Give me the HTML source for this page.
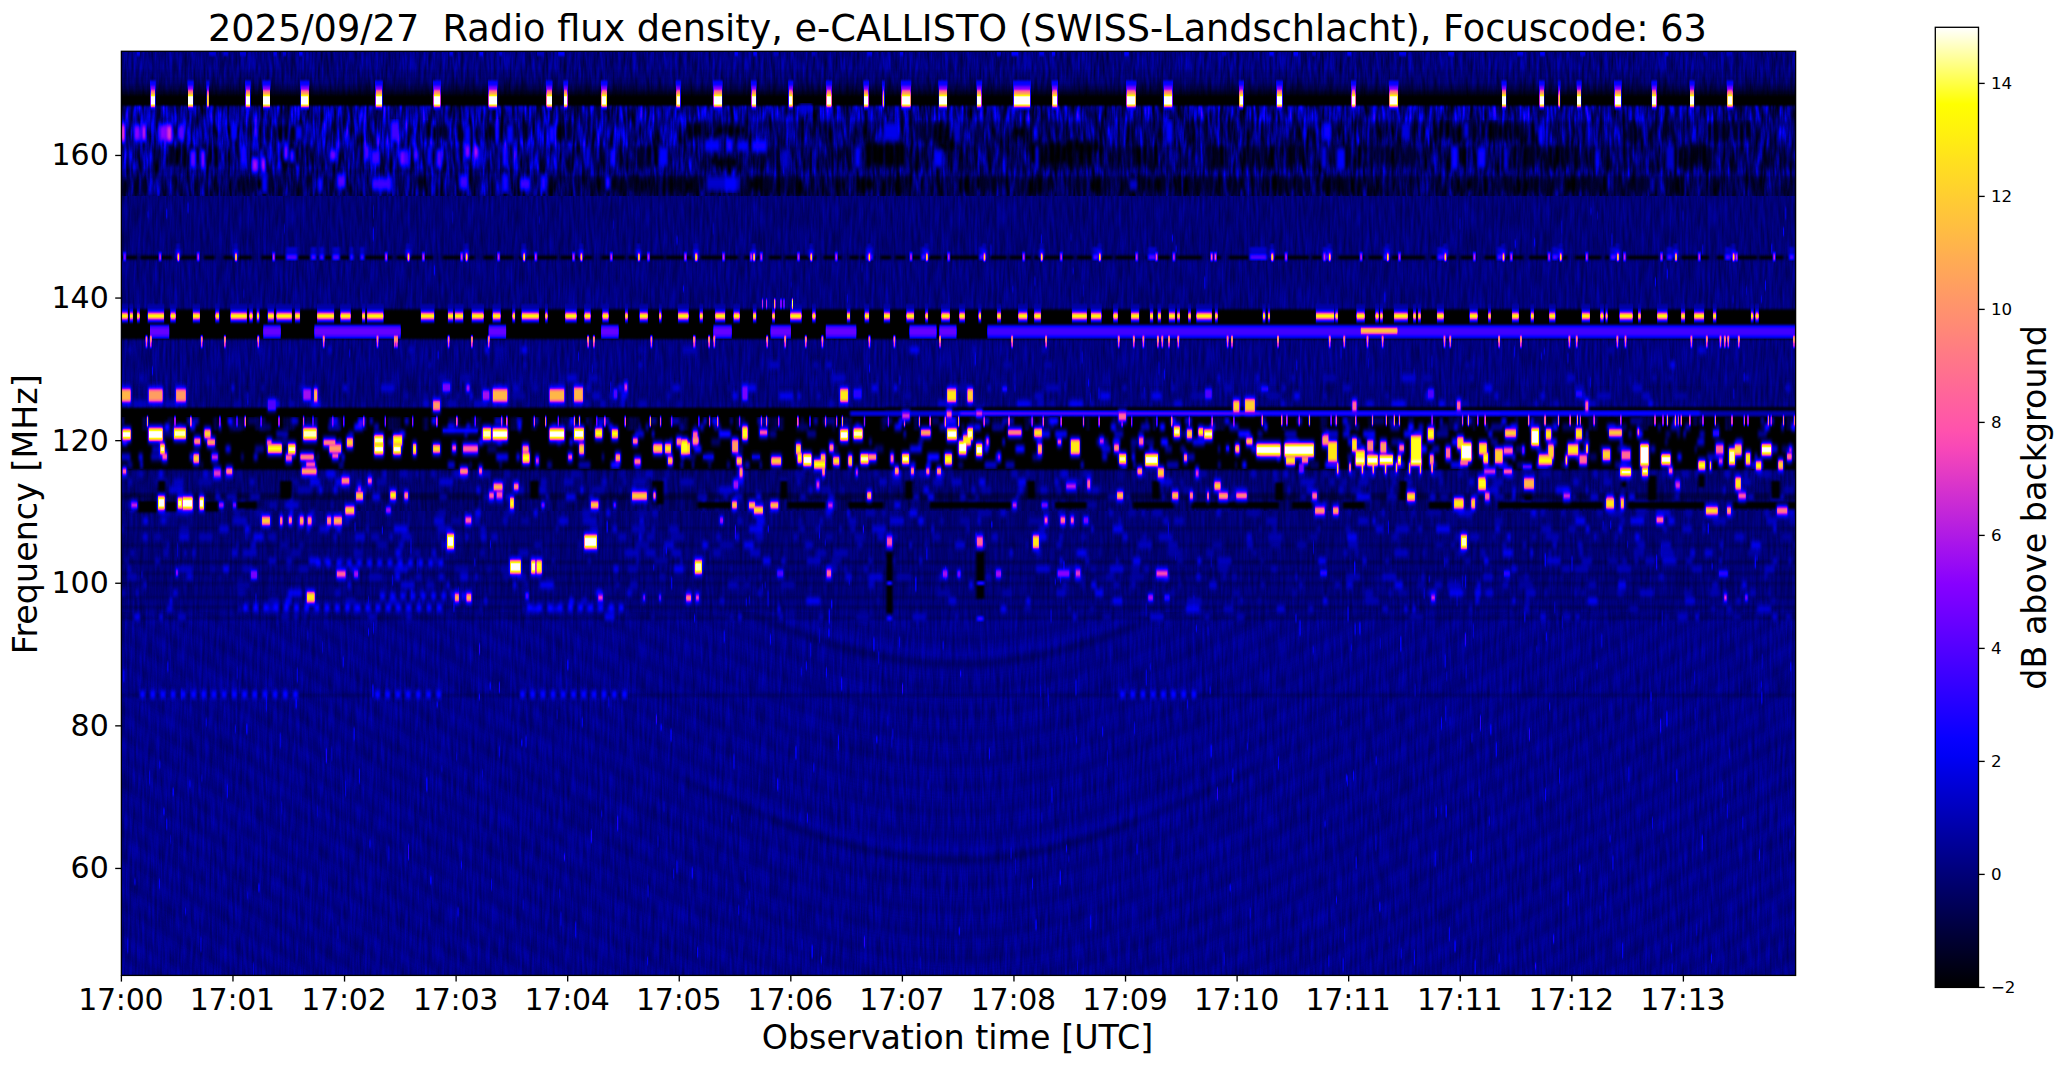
<!DOCTYPE html>
<html><head><meta charset="utf-8"><title>e-CALLISTO spectrogram</title>
<style>html,body{margin:0;padding:0;background:#fff}body{width:2066px;height:1067px;overflow:hidden}svg{display:block}text{font-family:"DejaVu Sans","Liberation Sans",sans-serif;fill:#000}</style></head><body>
<svg width="2066" height="1067" viewBox="0 0 2066 1067">
<defs>
<filter id="cmap" x="0" y="0" width="100%" height="100%" filterUnits="objectBoundingBox" color-interpolation-filters="sRGB"><feComponentTransfer><feFuncR type="table" tableValues="0.000 0.000 0.000 0.000 0.000 0.000 0.000 0.000 0.000 0.000 0.000 0.000 0.000 0.000 0.000 0.000 0.000 0.000 0.000 0.000 0.000 0.000 0.000 0.000 0.000 0.000 0.031 0.062 0.094 0.125 0.156 0.188 0.219 0.250 0.281 0.312 0.344 0.375 0.406 0.438 0.469 0.500 0.531 0.562 0.594 0.625 0.656 0.687 0.719 0.750 0.781 0.812 0.844 0.875 0.906 0.938 0.969 1.000 1.000 1.000 1.000 1.000 1.000 1.000 1.000 1.000 1.000 1.000 1.000 1.000 1.000 1.000 1.000 1.000 1.000 1.000 1.000 1.000 1.000 1.000 1.000 1.000 1.000 1.000 1.000 1.000 1.000 1.000 1.000 1.000 1.000 1.000 1.000 1.000 1.000 1.000 1.000 1.000 1.000 1.000 1.000"/><feFuncG type="table" tableValues="0.000 0.000 0.000 0.000 0.000 0.000 0.000 0.000 0.000 0.000 0.000 0.000 0.000 0.000 0.000 0.000 0.000 0.000 0.000 0.000 0.000 0.000 0.000 0.000 0.000 0.000 0.000 0.000 0.000 0.000 0.000 0.000 0.000 0.000 0.000 0.000 0.000 0.000 0.000 0.000 0.000 0.000 0.000 0.020 0.040 0.060 0.080 0.100 0.120 0.140 0.160 0.180 0.200 0.220 0.240 0.260 0.280 0.300 0.320 0.340 0.360 0.380 0.400 0.420 0.440 0.460 0.480 0.500 0.520 0.540 0.560 0.580 0.600 0.620 0.640 0.660 0.680 0.700 0.720 0.740 0.760 0.780 0.800 0.820 0.840 0.860 0.880 0.900 0.920 0.940 0.960 0.980 1.000 1.000 1.000 1.000 1.000 1.000 1.000 1.000 1.000"/><feFuncB type="table" tableValues="0.000 0.040 0.080 0.120 0.160 0.200 0.240 0.280 0.320 0.360 0.400 0.440 0.480 0.520 0.560 0.600 0.640 0.680 0.720 0.760 0.800 0.840 0.880 0.920 0.960 1.000 1.000 1.000 1.000 1.000 1.000 1.000 1.000 1.000 1.000 1.000 1.000 1.000 1.000 1.000 1.000 1.000 1.000 0.980 0.960 0.940 0.920 0.900 0.880 0.860 0.840 0.820 0.800 0.780 0.760 0.740 0.720 0.700 0.680 0.660 0.640 0.620 0.600 0.580 0.560 0.540 0.520 0.500 0.480 0.460 0.440 0.420 0.400 0.380 0.360 0.340 0.320 0.300 0.280 0.260 0.240 0.220 0.200 0.180 0.160 0.140 0.120 0.100 0.080 0.060 0.040 0.020 0.000 0.125 0.250 0.375 0.500 0.625 0.750 0.875 1.000"/></feComponentTransfer></filter>

<filter id="nHi" x="0" y="0" width="100%" height="100%" color-interpolation-filters="sRGB">
<feTurbulence type="fractalNoise" baseFrequency="0.30 0.035" numOctaves="2" seed="7" result="t"/>
<feColorMatrix in="t" type="matrix" values="1 0 0 0 0  1 0 0 0 0  1 0 0 0 0  0 0 0 0 1" result="n"/>
<feTurbulence type="fractalNoise" baseFrequency="0.22 0.04" numOctaves="2" seed="3" result="t2"/>
<feColorMatrix in="t2" type="matrix" values="0 1 0 0 0  0 1 0 0 0  0 1 0 0 0  0 0 0 0 1" result="n2"/>
<feComposite in="SourceGraphic" in2="n" operator="arithmetic" k1="2.0" k2="0" k3="0" k4="0" result="c1"/>
<feComposite in="c1" in2="n2" operator="arithmetic" k1="2.6" k2="-0.3" k3="0" k4="0"/>
</filter>
<filter id="nMid" x="0" y="0" width="100%" height="100%" color-interpolation-filters="sRGB">
<feTurbulence type="fractalNoise" baseFrequency="0.36 0.035" numOctaves="2" seed="11" result="t"/>
<feColorMatrix in="t" type="matrix" values="1 0 0 0 0  1 0 0 0 0  1 0 0 0 0  0 0 0 0 1" result="n"/>
<feComposite in="SourceGraphic" in2="n" operator="arithmetic" k1="0.9" k2="0.55" k3="0" k4="0"/>
</filter>
<filter id="nTop" x="0" y="0" width="100%" height="100%" color-interpolation-filters="sRGB">
<feTurbulence type="fractalNoise" baseFrequency="0.33 0.04" numOctaves="2" seed="21" result="t"/>
<feColorMatrix in="t" type="matrix" values="1 0 0 0 0  1 0 0 0 0  1 0 0 0 0  0 0 0 0 1" result="n"/>
<feComposite in="SourceGraphic" in2="n" operator="arithmetic" k1="1.4" k2="0.3" k3="0" k4="0"/>
</filter>
<filter id="nLo" x="0" y="0" width="100%" height="100%" color-interpolation-filters="sRGB">
<feTurbulence type="fractalNoise" baseFrequency="0.40 0.03" numOctaves="2" seed="5" result="t"/>
<feColorMatrix in="t" type="matrix" values="1 0 0 0 0  1 0 0 0 0  1 0 0 0 0  0 0 0 0 1" result="n"/>
<feComposite in="SourceGraphic" in2="n" operator="arithmetic" k1="0.7" k2="0.65" k3="0" k4="0"/>
</filter>
<filter id="b0" x="-1%" y="-1%" width="102%" height="102%" color-interpolation-filters="sRGB"><feGaussianBlur stdDeviation="0.1 1.5"/></filter>
<filter id="b1" x="-1%" y="-1%" width="102%" height="102%" color-interpolation-filters="sRGB"><feGaussianBlur stdDeviation="0.8 1.3"/></filter>
<filter id="b2" x="-1%" y="-1%" width="102%" height="102%" color-interpolation-filters="sRGB"><feGaussianBlur stdDeviation="0.6 1.3"/></filter>
<filter id="b6" x="-1%" y="-1%" width="102%" height="102%" color-interpolation-filters="sRGB"><feGaussianBlur stdDeviation="0.8 2.4"/></filter>
<filter id="b7" x="-1%" y="-1%" width="102%" height="102%" color-interpolation-filters="sRGB"><feGaussianBlur stdDeviation="0.5 0.8"/></filter>
<filter id="b4" x="-1%" y="-1%" width="102%" height="102%" color-interpolation-filters="sRGB"><feGaussianBlur stdDeviation="1.2 2.6"/></filter>
<filter id="b5" x="-1%" y="-1%" width="102%" height="102%" color-interpolation-filters="sRGB"><feGaussianBlur stdDeviation="0.45 0.8"/></filter>
<filter id="b8" x="-1%" y="-1%" width="102%" height="102%" color-interpolation-filters="sRGB"><feGaussianBlur stdDeviation="0.4 1.2"/></filter>
<filter id="b3" x="-1%" y="-1%" width="102%" height="102%" color-interpolation-filters="sRGB"><feGaussianBlur stdDeviation="0.45 1.2"/></filter>

<clipPath id="axclip"><rect x="121.4" y="51.3" width="1674.2" height="924.1"/></clipPath>
<linearGradient id="cbg" x1="0" y1="1" x2="0" y2="0"><stop offset="0.00" stop-color="#000000"/><stop offset="0.02" stop-color="#000014"/><stop offset="0.04" stop-color="#000029"/><stop offset="0.06" stop-color="#00003d"/><stop offset="0.08" stop-color="#000052"/><stop offset="0.10" stop-color="#000066"/><stop offset="0.12" stop-color="#00007a"/><stop offset="0.14" stop-color="#00008f"/><stop offset="0.16" stop-color="#0000a3"/><stop offset="0.18" stop-color="#0000b8"/><stop offset="0.20" stop-color="#0000cc"/><stop offset="0.22" stop-color="#0000e0"/><stop offset="0.24" stop-color="#0000f5"/><stop offset="0.26" stop-color="#0800ff"/><stop offset="0.28" stop-color="#1800ff"/><stop offset="0.30" stop-color="#2800ff"/><stop offset="0.32" stop-color="#3800ff"/><stop offset="0.34" stop-color="#4800ff"/><stop offset="0.36" stop-color="#5800ff"/><stop offset="0.38" stop-color="#6800ff"/><stop offset="0.40" stop-color="#7800ff"/><stop offset="0.42" stop-color="#8700ff"/><stop offset="0.44" stop-color="#970af5"/><stop offset="0.46" stop-color="#a714eb"/><stop offset="0.48" stop-color="#b71fe0"/><stop offset="0.50" stop-color="#c729d6"/><stop offset="0.52" stop-color="#d733cc"/><stop offset="0.54" stop-color="#e73dc2"/><stop offset="0.56" stop-color="#f747b8"/><stop offset="0.58" stop-color="#ff52ad"/><stop offset="0.60" stop-color="#ff5ca3"/><stop offset="0.62" stop-color="#ff6699"/><stop offset="0.64" stop-color="#ff708f"/><stop offset="0.66" stop-color="#ff7a85"/><stop offset="0.68" stop-color="#ff857a"/><stop offset="0.70" stop-color="#ff8f70"/><stop offset="0.72" stop-color="#ff9966"/><stop offset="0.74" stop-color="#ffa35c"/><stop offset="0.76" stop-color="#ffad52"/><stop offset="0.78" stop-color="#ffb847"/><stop offset="0.80" stop-color="#ffc23d"/><stop offset="0.82" stop-color="#ffcc33"/><stop offset="0.84" stop-color="#ffd629"/><stop offset="0.86" stop-color="#ffe01f"/><stop offset="0.88" stop-color="#ffeb14"/><stop offset="0.90" stop-color="#fff50a"/><stop offset="0.92" stop-color="#ffff00"/><stop offset="0.94" stop-color="#ffff40"/><stop offset="0.96" stop-color="#ffff80"/><stop offset="0.98" stop-color="#ffffbf"/><stop offset="1.00" stop-color="#ffffff"/></linearGradient>
</defs>
<rect width="2066" height="1067" fill="#fff"/>
<g clip-path="url(#axclip)"><g filter="url(#cmap)">
<path fill="#212121" d="M113.4 30h1690.2v970h-1690.2z"/>
<clipPath id="cp30"><rect x="113.4" y="30.0" width="1690.2" height="71.0"/></clipPath>
<g clip-path="url(#cp30)"><g filter="url(#nTop)"><g filter="url(#b0)">
<path fill="#000000" d="M113.4 96h1690.2v9.8h-1690.2zM113.4 105.3h1690.2v15h-1690.2z"/>
<path fill="#050505" d="M113.4 93h1690.2v3.5h-1690.2z"/>
<path fill="#0b0b0b" d="M113.4 89h1690.2v4.5h-1690.2z"/>
<path fill="#131313" d="M113.4 84h1690.2v5.5h-1690.2z"/>
<path fill="#1a1a1a" d="M113.4 78h1690.2v6.5h-1690.2z"/>
<path fill="#1d1d1d" d="M113.4 70h1690.2v8.5h-1690.2z"/>
<path fill="#202020" d="M113.4 15h1690.2v16h-1690.2zM113.4 30h1690.2v40.5h-1690.2z"/>
</g></g></g>
<clipPath id="cp101"><rect x="113.4" y="101.0" width="1690.2" height="95.0"/></clipPath>
<g clip-path="url(#cp101)"><g filter="url(#nHi)"><g filter="url(#b0)">
<path fill="#000000" d="M113.4 81h1690.2v16h-1690.2zM113.4 96h1690.2v9.8h-1690.2z"/>
<path fill="#141414" d="M113.4 176h1690.2v20.5h-1690.2zM113.4 196h1690.2v15h-1690.2z"/>
<path fill="#181818" d="M113.4 146h1690.2v23.5h-1690.2z"/>
<path fill="#1c1c1c" d="M113.4 121h1690.2v25.5h-1690.2z"/>
<path fill="#1d1d1d" d="M113.4 169h1690.2v7.5h-1690.2z"/>
<path fill="#242424" d="M113.4 105.3h1690.2v16.2h-1690.2z"/>
<path fill="#141414" d="M560 176h140v20.5h-140z"/>
<path fill="#1a1a1a" d="M113.4 176h446.6v20.5h-446.6z"/>
<path fill="#1d1d1d" d="M560 146h140v23.5h-140z"/>
<path fill="#222222" d="M560 121h140v25.5h-140zM113.4 146h446.6v23.5h-446.6z"/>
<path fill="#282828" d="M113.4 121h446.6v25.5h-446.6z"/>
</g></g></g>
<clipPath id="cp196"><rect x="113.4" y="196.0" width="1690.2" height="315.0"/></clipPath>
<g clip-path="url(#cp196)"><g filter="url(#nMid)"><g filter="url(#b0)">
<path fill="#0a0a0a" d="M113.4 430h1690.2v40.5h-1690.2z"/>
<path fill="#0d0d0d" d="M113.4 408h1690.2v9.5h-1690.2z"/>
<path fill="#111111" d="M113.4 493.5h1690.2v6.5h-1690.2z"/>
<path fill="#121212" d="M113.4 417h1690.2v13.5h-1690.2z"/>
<path fill="#1a1a1a" d="M113.4 308h1690.2v32.5h-1690.2zM113.4 499.5h1690.2v12h-1690.2zM113.4 511h1690.2v15h-1690.2z"/>
<path fill="#1b1b1b" d="M113.4 254h1690.2v7.5h-1690.2z"/>
<path fill="#1c1c1c" d="M113.4 470h1690.2v23.5h-1690.2z"/>
<path fill="#1e1e1e" d="M113.4 181h1690.2v16h-1690.2zM113.4 196h1690.2v58.5h-1690.2zM113.4 384h1690.2v18.5h-1690.2z"/>
<path fill="#1f1f1f" d="M113.4 261h1690.2v47.5h-1690.2zM113.4 402h1690.2v6.5h-1690.2z"/>
<path fill="#202020" d="M113.4 340h1690.2v44.5h-1690.2z"/>
</g></g></g>
<clipPath id="cp511"><rect x="113.4" y="511.0" width="1690.2" height="489.0"/></clipPath>
<g clip-path="url(#cp511)"><g filter="url(#nLo)"><g filter="url(#b0)">
<path fill="#141414" d="M113.4 560.5h1690.2v3.5h-1690.2z"/>
<path fill="#161616" d="M113.4 526.5h1690.2v3.5h-1690.2zM113.4 571.5h1690.2v3.5h-1690.2zM113.4 605.5h1690.2v3.5h-1690.2z"/>
<path fill="#171717" d="M113.4 543.5h1690.2v3.5h-1690.2zM113.4 581.5h1690.2v3.5h-1690.2zM113.4 595.5h1690.2v3.5h-1690.2z"/>
<path fill="#181818" d="M113.4 616.5h1690.2v3.5h-1690.2z"/>
<path fill="#1b1b1b" d="M113.4 693h1690.2v4.5h-1690.2z"/>
<path fill="#1d1d1d" d="M113.4 496h1690.2v16h-1690.2zM113.4 511h1690.2v16h-1690.2zM113.4 529.5h1690.2v14.5h-1690.2zM113.4 546.5h1690.2v14.5h-1690.2z"/>
<path fill="#1e1e1e" d="M113.4 563.5h1690.2v8.5h-1690.2zM113.4 574.5h1690.2v7.5h-1690.2zM113.4 584.5h1690.2v11.5h-1690.2z"/>
<path fill="#1f1f1f" d="M113.4 598.5h1690.2v7.5h-1690.2zM113.4 608.5h1690.2v8.5h-1690.2z"/>
<path fill="#232323" d="M113.4 619.5h1690.2v74h-1690.2zM113.4 697h1690.2v303.5h-1690.2zM113.4 1000h1690.2v15h-1690.2z"/>
</g></g></g>
<clipPath id="cpa"><rect x="113.4" y="612" width="1690.2" height="400"/></clipPath>
<g clip-path="url(#cpa)"><g filter="url(#b4)" fill="none" stroke-linecap="round">
<path d="M713 574 743 587 773 599 803 610 833 620 863 628 893 634 923 638 953 640 983 639 1013 636 1043 630 1073 623 1103 613 1133 603 1163 591 1193 578 1223 564" stroke="#000" stroke-opacity="0.09" stroke-width="6"/>
<path d="M683 571 713 585 743 598 773 610 803 621 833 631 863 639 893 645 923 649 953 651 983 650 1013 647 1043 641 1073 634 1103 624 1133 614 1163 602 1193 589 1223 575 1253 560" stroke="#484848" stroke-opacity="0.06" stroke-width="5"/>
<path d="M653 569 683 584 713 598 743 611 773 624 803 635 833 645 863 653 893 659 923 663 953 664 983 664 1013 660 1043 655 1073 647 1103 638 1133 627 1163 615 1193 602 1223 588 1253 574" stroke="#000" stroke-opacity="0.09" stroke-width="6"/>
<path d="M683 584 713 598 743 611 773 624 803 635 833 645 863 653 893 659 923 663 953 664 983 664 1013 660 1043 655 1073 647 1103 638 1133 627 1163 615 1193 602 1223 588 1253 574" stroke="#000" stroke-opacity="0.10" stroke-width="6"/>
<path d="M683 574 713 588 743 601 773 614 803 625 833 635 863 643 893 649 923 653 953 654 983 654 1013 650 1043 645 1073 637 1103 628 1133 617 1163 605 1193 592 1223 578 1253 564" stroke="#505050" stroke-opacity="0.06" stroke-width="5"/>
<path d="M773 624 803 635 833 645 863 653 893 659 923 663 953 664 983 664 1013 660 1043 655 1073 647 1103 638 1133 627" stroke="#000" stroke-opacity="0.10" stroke-width="6"/>
<path d="M773 614 803 625 833 635 863 643 893 649 923 653 953 654 983 654 1013 650 1043 645 1073 637 1103 628 1133 617" stroke="#505050" stroke-opacity="0.06" stroke-width="5"/>
<path d="M623 565 653 580 683 595 713 609 743 622 773 635 803 646 833 656 863 664 893 670 923 674 953 675 983 675 1013 671 1043 666 1073 658 1103 649 1133 638 1163 626 1193 613 1223 599 1253 585 1283 570" stroke="#484848" stroke-opacity="0.06" stroke-width="5"/>
<path d="M593 563 623 579 653 594 683 609 713 623 743 636 773 648 803 659 833 669 863 677 893 683 923 687 953 689 983 688 1013 685 1043 679 1073 672 1103 662 1133 652 1163 640 1193 627 1223 613 1253 598 1283 583 1313 568" stroke="#000" stroke-opacity="0.09" stroke-width="6"/>
<path d="M593 574 623 590 653 605 683 620 713 634 743 647 773 659 803 670 833 680 863 688 893 694 923 698 953 700 983 699 1013 696 1043 690 1073 683 1103 673 1133 663 1163 651 1193 638 1223 624 1253 609 1283 594 1313 579 1343 563" stroke="#484848" stroke-opacity="0.06" stroke-width="5"/>
<path d="M563 572 593 588 623 603 653 618 683 633 713 647 743 660 773 673 803 684 833 694 863 702 893 708 923 712 953 713 983 713 1013 709 1043 704 1073 696 1103 687 1133 676 1163 664 1193 651 1223 637 1253 623 1283 608 1313 592 1343 577 1373 560" stroke="#000" stroke-opacity="0.09" stroke-width="6"/>
<path d="M533 566 563 583 593 599 623 614 653 629 683 644 713 658 743 671 773 684 803 695 833 705 863 713 893 719 923 723 953 724 983 724 1013 720 1043 715 1073 707 1103 698 1133 687 1163 675 1193 662 1223 648 1253 634 1283 619 1313 603 1343 588 1373 571" stroke="#484848" stroke-opacity="0.06" stroke-width="5"/>
<path d="M503 563 533 580 563 596 593 612 623 628 653 643 683 658 713 672 743 685 773 697 803 708 833 718 863 726 893 732 923 736 953 738 983 737 1013 734 1043 728 1073 721 1103 711 1133 701 1163 689 1193 676 1223 662 1253 647 1283 632 1313 617 1343 601 1373 585 1403 568" stroke="#000" stroke-opacity="0.09" stroke-width="6"/>
<path d="M503 574 533 591 563 607 593 623 623 639 653 654 683 669 713 683 743 696 773 708 803 719 833 729 863 737 893 743 923 747 953 749 983 748 1013 745 1043 739 1073 732 1103 722 1133 712 1163 700 1193 687 1223 673 1253 658 1283 643 1313 628 1343 612 1373 596 1403 579 1433 563" stroke="#484848" stroke-opacity="0.06" stroke-width="5"/>
<path d="M473 571 503 588 533 604 563 621 593 637 623 652 653 667 683 682 713 696 743 709 773 722 803 733 833 743 863 751 893 757 923 761 953 762 983 762 1013 758 1043 753 1073 745 1103 736 1133 725 1163 713 1193 700 1223 686 1253 672 1283 657 1313 641 1343 626 1373 609 1403 593 1433 576" stroke="#000" stroke-opacity="0.09" stroke-width="6"/>
<path d="M443 565 473 582 503 599 533 615 563 632 593 648 623 663 653 678 683 693 713 707 743 720 773 733 803 744 833 754 863 762 893 768 923 772 953 773 983 773 1013 769 1043 764 1073 756 1103 747 1133 736 1163 724 1193 711 1223 697 1253 683 1283 668 1313 652 1343 637 1373 620 1403 604 1433 587 1463 570" stroke="#484848" stroke-opacity="0.06" stroke-width="5"/>
<path d="M413 561 443 579 473 596 503 612 533 629 563 645 593 661 623 677 653 692 683 707 713 721 743 734 773 746 803 757 833 767 863 775 893 781 923 785 953 787 983 786 1013 783 1043 777 1073 770 1103 760 1133 750 1163 738 1193 725 1223 711 1253 696 1283 681 1313 666 1343 650 1373 634 1403 617 1433 601 1463 584 1493 567" stroke="#000" stroke-opacity="0.09" stroke-width="6"/>
<path d="M413 572 443 590 473 607 503 623 533 640 563 656 593 672 623 688 653 703 683 718 713 732 743 745 773 757 803 768 833 778 863 786 893 792 923 796 953 798 983 797 1013 794 1043 788 1073 781 1103 771 1133 761 1163 749 1193 736 1223 722 1253 707 1283 692 1313 677 1343 661 1373 645 1403 628 1433 612 1463 595 1493 578 1523 561" stroke="#484848" stroke-opacity="0.06" stroke-width="5"/>
<path d="M383 569 413 586 443 603 473 620 503 637 533 653 563 670 593 686 623 701 653 716 683 731 713 745 743 758 773 771 803 782 833 792 863 800 893 806 923 810 953 811 983 811 1013 807 1043 802 1073 794 1103 785 1133 774 1163 762 1193 749 1223 735 1253 721 1283 706 1313 690 1343 675 1373 658 1403 642 1433 625 1463 608 1493 591 1523 574" stroke="#000" stroke-opacity="0.09" stroke-width="6"/>
<path d="M353 562 383 580 413 597 443 614 473 631 503 648 533 664 563 681 593 697 623 712 653 727 683 742 713 756 743 769 773 782 803 793 833 803 863 811 893 817 923 821 953 822 983 822 1013 818 1043 813 1073 805 1103 796 1133 785 1163 773 1193 760 1223 746 1253 732 1283 717 1313 701 1343 686 1373 669 1403 653 1433 636 1463 619 1493 602 1523 585 1553 568" stroke="#484848" stroke-opacity="0.06" stroke-width="5"/>
<path d="M353 576 383 593 413 610 443 628 473 645 503 661 533 678 563 694 593 710 623 726 653 741 683 756 713 770 743 783 773 795 803 806 833 816 863 824 893 830 923 834 953 836 983 835 1013 832 1043 826 1073 819 1103 809 1133 799 1163 787 1193 774 1223 760 1253 745 1283 730 1313 715 1343 699 1373 683 1403 666 1433 650 1463 633 1493 616 1523 599 1553 581 1583 564" stroke="#000" stroke-opacity="0.09" stroke-width="6"/>
<path d="M323 569 353 587 383 604 413 621 443 639 473 656 503 672 533 689 563 705 593 721 623 737 653 752 683 767 713 781 743 794 773 806 803 817 833 827 863 835 893 841 923 845 953 847 983 846 1013 843 1043 837 1073 830 1103 820 1133 810 1163 798 1193 785 1223 771 1253 756 1283 741 1313 726 1343 710 1373 694 1403 677 1433 661 1463 644 1493 627 1523 610 1553 592 1583 575" stroke="#484848" stroke-opacity="0.06" stroke-width="5"/>
<path d="M293 565 323 583 353 600 383 618 413 635 443 652 473 669 503 686 533 702 563 719 593 735 623 750 653 765 683 780 713 794 743 807 773 820 803 831 833 841 863 849 893 855 923 859 953 860 983 860 1013 856 1043 851 1073 843 1103 834 1133 823 1163 811 1193 798 1223 784 1253 770 1283 755 1313 739 1343 724 1373 707 1403 691 1433 674 1463 657 1493 640 1523 623 1553 606 1583 588 1613 571" stroke="#000" stroke-opacity="0.09" stroke-width="6"/>
<path d="M683 780 713 794 743 807 773 820 803 831 833 841 863 849 893 855 923 859 953 860 983 860 1013 856 1043 851 1073 843 1103 834 1133 823 1163 811 1193 798 1223 784 1253 770" stroke="#000" stroke-opacity="0.10" stroke-width="6"/>
<path d="M683 770 713 784 743 797 773 810 803 821 833 831 863 839 893 845 923 849 953 850 983 850 1013 846 1043 841 1073 833 1103 824 1133 813 1163 801 1193 788 1223 774 1253 760" stroke="#505050" stroke-opacity="0.06" stroke-width="5"/>
<path d="M773 820 803 831 833 841 863 849 893 855 923 859 953 860 983 860 1013 856 1043 851 1073 843 1103 834 1133 823" stroke="#000" stroke-opacity="0.10" stroke-width="6"/>
<path d="M773 810 803 821 833 831 863 839 893 845 923 849 953 850 983 850 1013 846 1043 841 1073 833 1103 824 1133 813" stroke="#505050" stroke-opacity="0.06" stroke-width="5"/>
<path d="M293 576 323 594 353 611 383 629 413 646 443 663 473 680 503 697 533 713 563 730 593 746 623 761 653 776 683 791 713 805 743 818 773 831 803 842 833 852 863 860 893 866 923 870 953 871 983 871 1013 867 1043 862 1073 854 1103 845 1133 834 1163 822 1193 809 1223 795 1253 781 1283 766 1313 750 1343 735 1373 718 1403 702 1433 685 1463 668 1493 651 1523 634 1553 617 1583 599 1613 582 1643 564" stroke="#484848" stroke-opacity="0.06" stroke-width="5"/>
<path d="M263 572 293 590 323 607 353 625 383 642 413 659 443 677 473 694 503 710 533 727 563 743 593 759 623 775 653 790 683 805 713 819 743 832 773 844 803 855 833 865 863 873 893 879 923 883 953 885 983 884 1013 881 1043 875 1073 868 1103 858 1133 848 1163 836 1193 823 1223 809 1253 794 1283 779 1313 764 1343 748 1373 732 1403 715 1433 699 1463 682 1493 665 1523 648 1553 630 1583 613 1613 595 1643 578" stroke="#000" stroke-opacity="0.09" stroke-width="6"/>
<path d="M233 565 263 583 293 601 323 618 353 636 383 653 413 670 443 688 473 705 503 721 533 738 563 754 593 770 623 786 653 801 683 816 713 830 743 843 773 855 803 866 833 876 863 884 893 890 923 894 953 896 983 895 1013 892 1043 886 1073 879 1103 869 1133 859 1163 847 1193 834 1223 820 1253 805 1283 790 1313 775 1343 759 1373 743 1403 726 1433 710 1463 693 1493 676 1523 659 1553 641 1583 624 1613 606 1643 589 1673 571" stroke="#484848" stroke-opacity="0.06" stroke-width="5"/>
<path d="M203 561 233 579 263 597 293 614 323 632 353 649 383 667 413 684 443 701 473 718 503 735 533 751 563 768 593 784 623 799 653 814 683 829 713 843 743 856 773 869 803 880 833 890 863 898 893 904 923 908 953 909 983 909 1013 905 1043 900 1073 892 1103 883 1133 872 1163 860 1193 847 1223 833 1253 819 1283 804 1313 788 1343 773 1373 756 1403 740 1433 723 1463 706 1493 689 1523 672 1553 655 1583 637 1613 620 1643 602 1673 584 1703 567" stroke="#000" stroke-opacity="0.09" stroke-width="6"/>
<path d="M203 572 233 590 263 608 293 625 323 643 353 660 383 678 413 695 443 712 473 729 503 746 533 762 563 779 593 795 623 810 653 825 683 840 713 854 743 867 773 880 803 891 833 901 863 909 893 915 923 919 953 920 983 920 1013 916 1043 911 1073 903 1103 894 1133 883 1163 871 1193 858 1223 844 1253 830 1283 815 1313 799 1343 784 1373 767 1403 751 1433 734 1463 717 1493 700 1523 683 1553 666 1583 648 1613 631 1643 613 1673 595 1703 578" stroke="#484848" stroke-opacity="0.06" stroke-width="5"/>
<path d="M173 568 203 586 233 603 263 621 293 639 323 656 353 674 383 691 413 708 443 726 473 743 503 759 533 776 563 792 593 808 623 824 653 839 683 854 713 868 743 881 773 893 803 904 833 914 863 922 893 928 923 932 953 934 983 933 1013 930 1043 924 1073 917 1103 907 1133 897 1163 885 1193 872 1223 858 1253 843 1283 828 1313 813 1343 797 1373 781 1403 764 1433 748 1463 731 1493 714 1523 697 1553 679 1583 662 1613 644 1643 627 1673 609 1703 591 1733 573" stroke="#000" stroke-opacity="0.09" stroke-width="6"/>
<path d="M143 561 173 579 203 597 233 614 263 632 293 650 323 667 353 685 383 702 413 719 443 737 473 754 503 770 533 787 563 803 593 819 623 835 653 850 683 865 713 879 743 892 773 904 803 915 833 925 863 933 893 939 923 943 953 945 983 944 1013 941 1043 935 1073 928 1103 918 1133 908 1163 896 1193 883 1223 869 1253 854 1283 839 1313 824 1343 808 1373 792 1403 775 1433 759 1463 742 1493 725 1523 708 1553 690 1583 673 1613 655 1643 638 1673 620 1703 602 1733 584 1763 566" stroke="#484848" stroke-opacity="0.06" stroke-width="5"/>
<path d="M143 574 173 592 203 610 233 628 263 646 293 663 323 681 353 698 383 716 413 733 443 750 473 767 503 784 533 800 563 817 593 833 623 848 653 863 683 878 713 892 743 905 773 918 803 929 833 939 863 947 893 953 923 957 953 958 983 958 1013 954 1043 949 1073 941 1103 932 1133 921 1163 909 1193 896 1223 882 1253 868 1283 853 1313 837 1343 822 1373 805 1403 789 1433 772 1463 755 1493 738 1523 721 1553 704 1583 686 1613 669 1643 651 1673 633 1703 616 1733 598 1763 580 1793 562" stroke="#000" stroke-opacity="0.09" stroke-width="6"/>
<path d="M113 567 143 585 173 603 203 621 233 639 263 657 293 674 323 692 353 709 383 727 413 744 443 761 473 778 503 795 533 811 563 828 593 844 623 859 653 874 683 889 713 903 743 916 773 929 803 940 833 950 863 958 893 964 923 968 953 969 983 969 1013 965 1043 960 1073 952 1103 943 1133 932 1163 920 1193 907 1223 893 1253 879 1283 864 1313 848 1343 833 1373 816 1403 800 1433 783 1463 766 1493 749 1523 732 1553 715 1583 697 1613 680 1643 662 1673 644 1703 627 1733 609 1763 591 1793 573" stroke="#484848" stroke-opacity="0.06" stroke-width="5"/>
<path d="M113 581 143 599 173 617 203 635 233 652 263 670 293 688 323 705 353 723 383 740 413 757 443 775 473 792 503 808 533 825 563 841 593 857 623 873 653 888 683 903 713 917 743 930 773 942 803 953 833 963 863 971 893 977 923 981 953 983 983 982 1013 979 1043 973 1073 966 1103 956 1133 946 1163 934 1193 921 1223 907 1253 892 1283 877 1313 862 1343 846 1373 830 1403 813 1433 797 1463 780 1493 763 1523 746 1553 728 1583 711 1613 693 1643 676 1673 658 1703 640 1733 622 1763 604 1793 586" stroke="#000" stroke-opacity="0.09" stroke-width="6"/>
<path d="M113 592 143 610 173 628 203 646 233 663 263 681 293 699 323 716 353 734 383 751 413 768 443 786 473 803 503 819 533 836 563 852 593 868 623 884 653 899 683 914 713 928 743 941 773 953 803 964 833 974 863 982 893 988 923 992 953 994 983 993 1013 990 1043 984 1073 977 1103 967 1133 957 1163 945 1193 932 1223 918 1253 903 1283 888 1313 873 1343 857 1373 841 1403 824 1433 808 1463 791 1493 774 1523 757 1553 739 1583 722 1613 704 1643 687 1673 669 1703 651 1733 633 1763 615 1793 597" stroke="#484848" stroke-opacity="0.06" stroke-width="5"/>
<path d="M113 605 143 623 173 641 203 659 233 677 263 695 293 712 323 730 353 747 383 765 413 782 443 799 473 816 503 833 533 849 563 866 593 882 623 897 653 912 683 927 713 941 743 954 773 967 803 978 833 988 863 996 893 1002 923 1006 953 1007 983 1007 1013 1003 1043 998 1073 990 1103 981 1133 970 1163 958 1193 945 1223 931 1253 917 1283 902 1313 886 1343 871 1373 854 1403 838 1433 821 1463 804 1493 787 1523 770 1553 753 1583 735 1613 718 1643 700 1673 682 1703 665 1733 647 1763 629 1793 611" stroke="#000" stroke-opacity="0.09" stroke-width="6"/>
<path d="M113 616 143 634 173 652 203 670 233 688 263 706 293 723 323 741 353 758 383 776 413 793 443 810 473 827 503 844 533 860 563 877 593 893 623 908 653 923 683 938 713 952 743 965 773 978 803 989 833 999 863 1007 1043 1009 1073 1001 1103 992 1133 981 1163 969 1193 956 1223 942 1253 928 1283 913 1313 897 1343 882 1373 865 1403 849 1433 832 1463 815 1493 798 1523 781 1553 764 1583 746 1613 729 1643 711 1673 693 1703 676 1733 658 1763 640 1793 622" stroke="#484848" stroke-opacity="0.06" stroke-width="5"/>
<path d="M113 630 143 648 173 666 203 684 233 701 263 719 293 737 323 754 353 772 383 789 413 806 443 824 473 841 503 857 533 874 563 890 593 906 623 922 653 937 683 952 713 966 743 979 773 991 803 1002 1103 1005 1133 995 1163 983 1193 970 1223 956 1253 941 1283 926 1313 911 1343 895 1373 879 1403 862 1433 846 1463 829 1493 812 1523 795 1553 777 1583 760 1613 742 1643 725 1673 707 1703 689 1733 671 1763 653 1793 635" stroke="#000" stroke-opacity="0.09" stroke-width="6"/>
<path d="M113 641 143 659 173 677 203 695 233 712 263 730 293 748 323 765 353 783 383 800 413 817 443 835 473 852 503 868 533 885 563 901 593 917 623 933 653 948 683 963 713 977 743 990 773 1002 1133 1006 1163 994 1193 981 1223 967 1253 952 1283 937 1313 922 1343 906 1373 890 1403 873 1433 857 1463 840 1493 823 1523 806 1553 788 1583 771 1613 753 1643 736 1673 718 1703 700 1733 682 1763 664 1793 646" stroke="#484848" stroke-opacity="0.06" stroke-width="5"/>
<path d="M113 654 143 672 173 690 203 708 233 726 263 744 293 761 323 779 353 796 383 814 413 831 443 848 473 865 503 882 533 898 563 915 593 931 623 946 653 961 683 976 713 990 743 1003 1163 1007 1193 994 1223 980 1253 966 1283 951 1313 935 1343 920 1373 903 1403 887 1433 870 1463 853 1493 836 1523 819 1553 802 1583 784 1613 767 1643 749 1673 731 1703 714 1733 696 1763 678 1793 660" stroke="#000" stroke-opacity="0.09" stroke-width="6"/>
<path d="M113 665 143 683 173 701 203 719 233 737 263 755 293 772 323 790 353 807 383 825 413 842 443 859 473 876 503 893 533 909 563 926 593 942 623 957 653 972 683 987 713 1001 1193 1005 1223 991 1253 977 1283 962 1313 946 1343 931 1373 914 1403 898 1433 881 1463 864 1493 847 1523 830 1553 813 1583 795 1613 778 1643 760 1673 742 1703 725 1733 707 1763 689 1793 671" stroke="#484848" stroke-opacity="0.06" stroke-width="5"/>
<path d="M113 679 143 697 173 715 203 733 233 750 263 768 293 786 323 803 353 821 383 838 413 855 443 873 473 890 503 906 533 923 563 939 593 955 623 971 653 986 683 1001 1223 1005 1253 990 1283 975 1313 960 1343 944 1373 928 1403 911 1433 895 1463 878 1493 861 1523 844 1553 826 1583 809 1613 791 1643 774 1673 756 1703 738 1733 720 1763 702 1793 684" stroke="#000" stroke-opacity="0.09" stroke-width="6"/>
<path d="M113 690 143 708 173 726 203 744 233 761 263 779 293 797 323 814 353 832 383 849 413 866 443 884 473 901 503 917 533 934 563 950 593 966 623 982 653 997 1253 1001 1283 986 1313 971 1343 955 1373 939 1403 922 1433 906 1463 889 1493 872 1523 855 1553 837 1583 820 1613 802 1643 785 1673 767 1703 749 1733 731 1763 713 1793 695" stroke="#484848" stroke-opacity="0.06" stroke-width="5"/>
<path d="M113 703 143 721 173 739 203 757 233 775 263 793 293 810 323 828 353 845 383 863 413 880 443 897 473 914 503 931 533 947 563 964 593 980 623 995 1283 1000 1313 984 1343 969 1373 952 1403 936 1433 919 1463 902 1493 885 1523 868 1553 851 1583 833 1613 816 1643 798 1673 780 1703 763 1733 745 1763 727 1793 709" stroke="#000" stroke-opacity="0.09" stroke-width="6"/>
<path d="M113 714 143 732 173 750 203 768 233 786 263 804 293 821 323 839 353 856 383 874 413 891 443 908 473 925 503 942 533 958 563 975 593 991 623 1006 1313 995 1343 980 1373 963 1403 947 1433 930 1463 913 1493 896 1523 879 1553 862 1583 844 1613 827 1643 809 1673 791 1703 774 1733 756 1763 738 1793 720" stroke="#484848" stroke-opacity="0.06" stroke-width="5"/>
<path d="M113 728 143 746 173 764 203 782 233 799 263 817 293 835 323 852 353 870 383 887 413 904 443 922 473 939 503 955 533 972 563 988 593 1004 1313 1009 1343 993 1373 977 1403 960 1433 944 1463 927 1493 910 1523 893 1553 875 1583 858 1613 840 1643 823 1673 805 1703 787 1733 769 1763 751 1793 733" stroke="#000" stroke-opacity="0.09" stroke-width="6"/>
<path d="M113 739 143 757 173 775 203 793 233 810 263 828 293 846 323 863 353 881 383 898 413 915 443 933 473 950 503 966 533 983 563 999 1343 1004 1373 988 1403 971 1433 955 1463 938 1493 921 1523 904 1553 886 1583 869 1613 851 1643 834 1673 816 1703 798 1733 780 1763 762 1793 744" stroke="#484848" stroke-opacity="0.06" stroke-width="5"/>
<path d="M113 752 143 770 173 788 203 806 233 824 263 842 293 859 323 877 353 894 383 912 413 929 443 946 473 963 503 980 533 996 1373 1001 1403 985 1433 968 1463 951 1493 934 1523 917 1553 900 1583 882 1613 865 1643 847 1673 829 1703 812 1733 794 1763 776 1793 758" stroke="#000" stroke-opacity="0.09" stroke-width="6"/>
<path d="M113 763 143 781 173 799 203 817 233 835 263 853 293 870 323 888 353 905 383 923 413 940 443 957 473 974 503 991 533 1007 1403 996 1433 979 1463 962 1493 945 1523 928 1553 911 1583 893 1613 876 1643 858 1673 840 1703 823 1733 805 1763 787 1793 769" stroke="#484848" stroke-opacity="0.06" stroke-width="5"/>
<path d="M113 777 143 795 173 813 203 831 233 848 263 866 293 884 323 901 353 919 383 936 413 953 443 971 473 988 503 1004 1403 1009 1433 993 1463 976 1493 959 1523 942 1553 924 1583 907 1613 889 1643 872 1673 854 1703 836 1733 818 1763 800 1793 782" stroke="#000" stroke-opacity="0.09" stroke-width="6"/>
<path d="M113 788 143 806 173 824 203 842 233 859 263 877 293 895 323 912 353 930 383 947 413 964 443 982 473 999 1433 1004 1463 987 1493 970 1523 953 1553 935 1583 918 1613 900 1643 883 1673 865 1703 847 1733 829 1763 811 1793 793" stroke="#484848" stroke-opacity="0.06" stroke-width="5"/>
<path d="M113 801 143 819 173 837 203 855 233 873 263 891 293 908 323 926 353 943 383 961 413 978 443 995 1463 1000 1493 983 1523 966 1553 949 1583 931 1613 914 1643 896 1673 878 1703 861 1733 843 1763 825 1793 807" stroke="#000" stroke-opacity="0.09" stroke-width="6"/>
<path d="M113 812 143 830 173 848 203 866 233 884 263 902 293 919 323 937 353 954 383 972 413 989 443 1006 1493 994 1523 977 1553 960 1583 942 1613 925 1643 907 1673 889 1703 872 1733 854 1763 836 1793 818" stroke="#484848" stroke-opacity="0.06" stroke-width="5"/>
<path d="M113 826 143 844 173 862 203 880 233 897 263 915 293 933 323 950 353 968 383 985 413 1002 1493 1008 1523 991 1553 973 1583 956 1613 938 1643 921 1673 903 1703 885 1733 867 1763 849 1793 831" stroke="#000" stroke-opacity="0.09" stroke-width="6"/>
<path d="M113 837 143 855 173 873 203 891 233 908 263 926 293 944 323 961 353 979 383 996 1523 1002 1553 984 1583 967 1613 949 1643 932 1673 914 1703 896 1733 878 1763 860 1793 842" stroke="#484848" stroke-opacity="0.06" stroke-width="5"/>
<path d="M113 850 143 868 173 886 203 904 233 922 263 940 293 957 323 975 353 992 383 1010 1553 998 1583 980 1613 963 1643 945 1673 927 1703 910 1733 892 1763 874 1793 856" stroke="#000" stroke-opacity="0.09" stroke-width="6"/>
<path d="M113 861 143 879 173 897 203 915 233 933 263 951 293 968 323 986 353 1003 1553 1009 1583 991 1613 974 1643 956 1673 938 1703 921 1733 903 1763 885 1793 867" stroke="#484848" stroke-opacity="0.06" stroke-width="5"/>
<path d="M113 875 143 893 173 911 203 929 233 946 263 964 293 982 323 999 1583 1005 1613 987 1643 970 1673 952 1703 934 1733 916 1763 898 1793 880" stroke="#000" stroke-opacity="0.09" stroke-width="6"/>
<path d="M113 886 143 904 173 922 203 940 233 957 263 975 293 993 1613 998 1643 981 1673 963 1703 945 1733 927 1763 909 1793 891" stroke="#484848" stroke-opacity="0.06" stroke-width="5"/>
<path d="M113 899 143 917 173 935 203 953 233 971 263 989 293 1006 1643 994 1673 976 1703 959 1733 941 1763 923 1793 905" stroke="#000" stroke-opacity="0.09" stroke-width="6"/>
<path d="M113 910 143 928 173 946 203 964 233 982 263 1000 1643 1005 1673 987 1703 970 1733 952 1763 934 1793 916" stroke="#484848" stroke-opacity="0.06" stroke-width="5"/>
<path d="M113 924 143 942 173 960 203 978 233 995 1673 1001 1703 983 1733 965 1763 947 1793 929" stroke="#000" stroke-opacity="0.09" stroke-width="6"/>
<path d="M113 935 143 953 173 971 203 989 233 1006 1703 994 1733 976 1763 958 1793 940" stroke="#484848" stroke-opacity="0.06" stroke-width="5"/>
<path d="M113 948 143 966 173 984 203 1002 1703 1008 1733 990 1763 972 1793 954" stroke="#000" stroke-opacity="0.09" stroke-width="6"/>
<path d="M113 959 143 977 173 995 1733 1001 1763 983 1793 965" stroke="#484848" stroke-opacity="0.06" stroke-width="5"/>
<path d="M113 973 143 991 173 1009 1763 996 1793 978" stroke="#000" stroke-opacity="0.09" stroke-width="6"/>
<path d="M113 984 143 1002 1763 1007 1793 989" stroke="#484848" stroke-opacity="0.06" stroke-width="5"/>
</g></g>
<g filter="url(#b3)">
<path fill="#303030" d="M581.4 387.3h1.1v10.3h-1.1zM861.5 263.7h1.1v7.8h-1.1zM712.7 223.1h1.1v11.1h-1.1zM1561.1 220.9h1.1v12.8h-1.1zM1064.5 381.7h1.1v9.1h-1.1zM1413.6 368.5h1.1v7.7h-1.1zM1367.9 358.3h1.1v9.4h-1.1zM1431.4 355.5h1.1v12.1h-1.1zM1745.9 286.3h1.1v8.1h-1.1zM283.8 224h1.1v9.5h-1.1zM832.1 368.9h1.1v7.2h-1.1zM1619.4 368.1h1.1v6.8h-1.1zM1459.4 218h1.1v11.5h-1.1zM373 205.6h1.1v12.8h-1.1zM790.6 281.5h1.1v6.2h-1.1zM452.2 211.4h1.1v12.2h-1.1zM1682.5 210.8h1.1v9.9h-1.1zM122.4 383.2h1.1v6.7h-1.1zM243.3 289.6h1.1v8.3h-1.1zM538.7 216.3h1.1v7.8h-1.1zM1597.1 211.4h1.1v8h-1.1zM1082.7 284.4h1.1v12.2h-1.1zM1089.9 393h1.1v10.2h-1.1zM1732.5 295.6h1.1v7.3h-1.1zM613.1 220.2h1.1v8.8h-1.1zM1070.5 233.6h1.1v7.5h-1.1z"/>
<path fill="#333333" d="M1145.6 603.1h1.1v13.4h-1.1zM1106.8 750.6h1.1v15.6h-1.1zM1761.7 654.1h1.1v14.6h-1.1zM252.9 962.6h1.1v15.2h-1.1zM1414.6 683.6h1.1v12.8h-1.1zM461.7 592.4h1.1v7.5h-1.1zM1604.6 891.7h1.1v15.3h-1.1zM819.1 628.3h1.1v14.8h-1.1zM1728.9 748.4h1.1v10.2h-1.1zM331.3 747.1h1.1v13.7h-1.1zM556.6 710h1.1v9.6h-1.1zM1175 550.2h1.1v9.7h-1.1zM1663.3 820.9h1.1v12.3h-1.1zM457.8 586.7h1.1v15.5h-1.1zM1446.2 671.8h1.1v9.2h-1.1zM1041.3 812.5h1.1v10.1h-1.1zM887.3 715.6h1.1v9.7h-1.1zM1574.7 677.3h1.1v14.2h-1.1zM1461.8 575.8h1.1v11.7h-1.1zM177.1 542.8h1.1v14.4h-1.1zM388.3 845.9h1.1v14.5h-1.1zM1210.6 552.6h1.1v15h-1.1zM1231.7 770.2h1.1v12.5h-1.1zM307.3 630.9h1.1v9h-1.1zM1174.7 749.9h1.1v13.2h-1.1zM482 769.8h1.1v8.5h-1.1zM1661.7 610.8h1.1v15.2h-1.1zM1077 960.7h1.1v11h-1.1zM1627.1 541.1h1.1v7h-1.1zM919.7 956.7h1.1v12.9h-1.1zM1454.8 578.9h1.1v10.5h-1.1zM1015.1 858.5h1.1v15.9h-1.1zM1312.9 539.9h1.1v14.2h-1.1zM181.3 688.2h1.1v11.8h-1.1zM1047.4 687.6h1.1v15h-1.1zM247 891.9h1.1v7.1h-1.1zM418.5 598h1.1v6h-1.1zM337.4 925.6h1.1v13.6h-1.1zM559.1 888.9h1.1v9h-1.1zM927.6 780.2h1.1v9.4h-1.1zM322 641.6h1.1v11.3h-1.1zM1207.6 626.8h1.1v8.7h-1.1zM368 596h1.1v8.3h-1.1zM1661.1 544h1.1v12.6h-1.1zM1344 927.6h1.1v14.5h-1.1zM746.3 899.3h1.1v6h-1.1zM1449.5 717.3h1.1v7.8h-1.1zM317.1 805.6h1.1v11.6h-1.1zM1379.8 638.1h1.1v10.9h-1.1zM1599.5 905.4h1.1v14h-1.1zM1375.5 790.9h1.1v13.7h-1.1zM1340.6 719.7h1.1v6.3h-1.1zM1465.6 664.4h1.1v14.3h-1.1zM1554.2 601.8h1.1v11.8h-1.1zM1561.8 615.9h1.1v13h-1.1zM1444.2 557.6h1.1v9.6h-1.1zM1068.3 855.4h1.1v6.8h-1.1zM748.7 890.9h1.1v8.7h-1.1zM141.4 571.2h1.1v6.7h-1.1zM236.7 666.4h1.1v12.9h-1.1zM1789.4 839.4h1.1v12.1h-1.1zM1536.3 646.1h1.1v6.5h-1.1zM245.3 529.2h1.1v9.8h-1.1zM1440.7 805.7h1.1v8.6h-1.1zM522.7 900.1h1.1v9.6h-1.1zM1388.6 936.3h1.1v6.7h-1.1zM1649.7 880.8h1.1v7.3h-1.1zM1375.3 834.9h1.1v15.6h-1.1zM1456.5 590.7h1.1v15.9h-1.1zM281.2 801.5h1.1v12.6h-1.1zM1694.1 670.8h1.1v13.7h-1.1zM1694.6 708h1.1v12.6h-1.1zM441.3 765.5h1.1v6.5h-1.1zM663.4 801.6h1.1v10.3h-1.1zM201.3 775.1h1.1v6.8h-1.1zM799.5 812.6h1.1v8.6h-1.1zM663.4 545.9h1.1v13.8h-1.1zM1696.2 924.1h1.1v11.7h-1.1zM801.5 939.4h1.1v10.4h-1.1zM744.6 870.8h1.1v11.4h-1.1zM170.1 835h1.1v8.6h-1.1zM1722.1 782.2h1.1v15.8h-1.1zM1040 685.1h1.1v11.9h-1.1zM761.7 583.2h1.1v8.2h-1.1zM891.3 736.7h1.1v10.9h-1.1zM748.8 595.8h1.1v8.8h-1.1zM456.1 752.6h1.1v8.5h-1.1zM416.6 559h1.1v13.6h-1.1zM764.7 582h1.1v6h-1.1zM1048 693.9h1.1v13h-1.1zM452.3 537.2h1.1v11.3h-1.1zM657.4 835.8h1.1v11.1h-1.1z"/>
<path fill="#383838" d="M1296.2 360.2h1.1v10h-1.1zM1034.4 276.4h1.1v9.7h-1.1zM1760.9 295.8h1.1v6.9h-1.1zM846.8 294.6h1.1v8.5h-1.1zM1081.6 351.5h1.1v11.7h-1.1zM1590.4 208.1h1.1v6.5h-1.1zM899.4 375.9h1.1v8.1h-1.1zM1733.3 388.7h1.1v10.4h-1.1zM1589.8 377.3h1.1v10.4h-1.1zM1567.4 353.1h1.1v10.2h-1.1zM577.9 351.9h1.1v9.1h-1.1zM1702.2 244.7h1.1v10.3h-1.1zM1543.8 348.1h1.1v6.4h-1.1zM349.1 349.6h1.1v7.7h-1.1zM147.5 211.2h1.1v6.6h-1.1zM1143.7 387.3h1.1v10.7h-1.1zM1014.4 384.6h1.1v7.1h-1.1zM1072.6 267.7h1.1v6.6h-1.1zM1340.5 346.2h1.1v12.6h-1.1zM1611.4 233.8h1.1v12.8h-1.1zM591.8 364.4h1.1v8.6h-1.1zM1514 346.6h1.1v10.2h-1.1zM1040.9 234.6h1.1v10h-1.1zM1012.3 286.1h1.1v6.5h-1.1zM1158.4 361.7h1.1v12.9h-1.1zM990.4 244.6h1.1v13.9h-1.1zM1540.8 352.8h1.1v6.9h-1.1zM1785.2 207.2h1.1v12.3h-1.1z"/>
<path fill="#3b3b3b" d="M392.1 575.3h1.1v10.3h-1.1zM1010.5 847.2h1.1v11.9h-1.1zM127.2 938.4h1.1v14.7h-1.1zM601.2 810.4h1.1v7.1h-1.1zM1472.7 623.4h1.1v14.7h-1.1zM373 622h1.1v11.4h-1.1zM1413.9 949.9h1.1v15.2h-1.1zM731.3 815h1.1v7.2h-1.1zM255.4 593.4h1.1v15.7h-1.1zM745.7 598.3h1.1v7.8h-1.1zM234.8 724.9h1.1v8h-1.1zM205.7 718.3h1.1v8.2h-1.1zM738.2 904.9h1.1v10.2h-1.1zM185 907.8h1.1v6.9h-1.1zM1423.6 587.5h1.1v11.3h-1.1zM1076.1 736.3h1.1v7.2h-1.1zM892.3 728.7h1.1v10.2h-1.1zM673.1 869.1h1.1v9.8h-1.1zM1794.4 825.3h1.1v10.7h-1.1zM1628.3 766.4h1.1v15.3h-1.1zM1059.9 574.4h1.1v8.7h-1.1zM560.4 912h1.1v13.8h-1.1zM1471.4 733.3h1.1v9.3h-1.1zM149.1 770.7h1.1v13.9h-1.1zM1223.6 952.2h1.1v13h-1.1zM498.8 746.2h1.1v10.9h-1.1zM1596.5 662.2h1.1v7h-1.1zM1428.7 575.7h1.1v6.6h-1.1zM1246.8 742.7h1.1v7.4h-1.1zM200.4 936.9h1.1v15.1h-1.1zM411.3 588.7h1.1v11.1h-1.1zM945 566.6h1.1v13.5h-1.1zM800.7 667.5h1.1v8.5h-1.1zM1054.8 578.7h1.1v6.2h-1.1zM1601.3 634h1.1v13.7h-1.1zM1193.4 595.6h1.1v14h-1.1zM1186.9 699.9h1.1v8.9h-1.1zM489.9 540.5h1.1v7.7h-1.1zM1794.4 926.3h1.1v6.8h-1.1zM848.7 578.5h1.1v6.4h-1.1zM1346.9 775.6h1.1v10.3h-1.1zM1742.3 816.5h1.1v12.7h-1.1zM608.3 696.4h1.1v11h-1.1zM1602.6 521.1h1.1v8.3h-1.1zM1149.7 663.4h1.1v7h-1.1zM474.3 558.3h1.1v8h-1.1zM1465 575.3h1.1v12.4h-1.1zM1050.5 609.4h1.1v13h-1.1zM345.1 780.6h1.1v15.9h-1.1zM1559 768.2h1.1v15.3h-1.1zM647 956.8h1.1v8.5h-1.1zM1145.8 669.8h1.1v15.7h-1.1zM1726.8 804h1.1v14.5h-1.1zM1387.9 520.8h1.1v12.9h-1.1zM899 636.9h1.1v10.7h-1.1zM767.5 590.8h1.1v15.6h-1.1zM1249.7 907.9h1.1v10.8h-1.1zM491 879.2h1.1v11.4h-1.1zM1671.6 963.8h1.1v9.5h-1.1zM1328.3 955.3h1.1v11.5h-1.1zM265.9 695.7h1.1v15.7h-1.1zM410.4 539.1h1.1v15.2h-1.1zM1445.2 705.7h1.1v15.5h-1.1zM647.5 885h1.1v12.2h-1.1zM1760.8 681.3h1.1v6.8h-1.1zM1350.8 644.5h1.1v6.5h-1.1zM810.2 642.8h1.1v14.1h-1.1zM1670.8 943.4h1.1v9h-1.1zM1488.7 816.2h1.1v9.1h-1.1zM1167.8 522.3h1.1v14.8h-1.1zM1400.7 948.5h1.1v10.2h-1.1zM1651.9 817h1.1v12.3h-1.1zM1478.6 790.6h1.1v6.4h-1.1zM296.8 668.1h1.1v14.3h-1.1zM824.7 539.3h1.1v6.5h-1.1zM354.5 521.7h1.1v9.7h-1.1zM1312.7 645.9h1.1v7.9h-1.1zM1134.1 722.3h1.1v11.9h-1.1zM878.2 651h1.1v13.2h-1.1zM279.7 732.9h1.1v15.2h-1.1z"/>
<path fill="#404040" d="M1666.8 269.3h1.1v9.4h-1.1zM682.9 285.8h1.1v6h-1.1zM151.9 366.4h1.1v8.5h-1.1zM187.5 202.4h1.1v10.7h-1.1zM676.5 235.9h1.1v8.6h-1.1zM974.7 352.6h1.1v12.6h-1.1zM1446.7 249.9h1.1v7.5h-1.1zM869 364.2h1.1v8.1h-1.1zM1764.9 280.4h1.1v10.1h-1.1zM1654.9 277.5h1.1v8.7h-1.1zM1204.3 276.5h1.1v12.5h-1.1zM1534.1 238.4h1.1v8h-1.1zM1175.6 245.5h1.1v7h-1.1zM1783 227.5h1.1v8.6h-1.1zM1171.9 235.1h1.1v6.3h-1.1zM166.2 208.9h1.1v9.5h-1.1zM1743.6 373h1.1v8.4h-1.1zM372.8 227.7h1.1v12.9h-1.1zM1098.4 387.6h1.1v11.7h-1.1zM433.9 265.6h1.1v9.4h-1.1zM1088 379.6h1.1v6.6h-1.1zM1163.8 369.5h1.1v9.9h-1.1zM610.3 381.4h1.1v12.3h-1.1zM247.3 393.3h1.1v11.2h-1.1zM1514.7 239.8h1.1v8.2h-1.1zM1771.2 244.1h1.1v9.1h-1.1zM437.6 351h1.1v8h-1.1zM1384.3 292.4h1.1v9.8h-1.1z"/>
<path fill="#424242" d="M818.9 524.5h1.1v14.3h-1.1zM369.4 839.9h1.1v7.9h-1.1zM1354.6 623.5h1.1v11.2h-1.1zM1355.6 856.4h1.1v12.7h-1.1zM926.3 547.4h1.1v12.3h-1.1zM1375.6 756.3h1.1v8.3h-1.1zM581.7 717.6h1.1v9.7h-1.1zM942.6 641.3h1.1v8.1h-1.1zM1335.9 896.6h1.1v6.8h-1.1zM525.5 735.7h1.1v11.8h-1.1zM1075.4 679.7h1.1v15.8h-1.1zM988.9 748.2h1.1v11.4h-1.1zM1444.6 654.5h1.1v13.3h-1.1zM671.2 577.1h1.1v12.1h-1.1zM381.8 526.4h1.1v7.6h-1.1zM1650.5 692.3h1.1v9.1h-1.1zM166.2 818.7h1.1v11h-1.1zM1567.6 891.2h1.1v14.3h-1.1zM123.3 670h1.1v11.9h-1.1zM1710.9 953.7h1.1v9.1h-1.1zM1195.8 624.9h1.1v7h-1.1zM1295.4 613.9h1.1v8.6h-1.1zM158.9 879.1h1.1v9.5h-1.1zM694.1 614.3h1.1v8h-1.1zM1051.4 787h1.1v15.4h-1.1zM368 628.5h1.1v7.2h-1.1zM1232.4 768.4h1.1v13.9h-1.1zM1549.1 702.8h1.1v7.4h-1.1zM697.1 947h1.1v10.8h-1.1zM825.9 667.4h1.1v9.9h-1.1zM167.3 661.6h1.1v10.1h-1.1zM813.3 763.3h1.1v8.6h-1.1zM1345.9 774.6h1.1v6.9h-1.1zM1031.9 878.4h1.1v10.8h-1.1zM1277.9 756.6h1.1v12.9h-1.1zM1711.6 563.2h1.1v6.2h-1.1zM457.5 907.3h1.1v9.2h-1.1zM353.6 727.5h1.1v12.7h-1.1zM1090.1 915.4h1.1v13.8h-1.1zM226.8 784.3h1.1v13.7h-1.1zM1622.1 942.9h1.1v15.7h-1.1zM1342.6 958.2h1.1v13.3h-1.1zM1136.5 843.5h1.1v10.8h-1.1zM837.9 735.2h1.1v15h-1.1zM1209.6 686.4h1.1v7.6h-1.1zM1324.5 820.6h1.1v6.7h-1.1zM653.2 564.6h1.1v6h-1.1zM1612.4 855.8h1.1v14.4h-1.1zM806.9 813.2h1.1v9.2h-1.1zM1448.8 927h1.1v13.9h-1.1zM134.4 878.6h1.1v6.5h-1.1zM1474.6 960.1h1.1v13.4h-1.1zM453.4 602.4h1.1v9.5h-1.1zM1102.1 726.5h1.1v10.1h-1.1zM820.8 956.5h1.1v6.9h-1.1zM1545.8 632.3h1.1v8.8h-1.1zM770 634.3h1.1v10.1h-1.1zM723.7 630.7h1.1v11.8h-1.1zM1440.9 717.2h1.1v12.3h-1.1zM1544.9 788.4h1.1v12.6h-1.1zM1758.9 849.5h1.1v11.1h-1.1zM342.7 656.6h1.1v10.6h-1.1zM1610.2 520.6h1.1v8.5h-1.1zM1524.3 610.9h1.1v11.1h-1.1zM1761.3 691.7h1.1v12.3h-1.1zM1756.5 547.9h1.1v12.5h-1.1zM358.8 768.8h1.1v15h-1.1zM676.4 860.4h1.1v13.1h-1.1zM159.3 760.8h1.1v7.7h-1.1zM1434.6 851h1.1v15.4h-1.1zM1347.5 606.4h1.1v15h-1.1zM1435.6 806.9h1.1v10.9h-1.1zM1495.8 742.6h1.1v14.5h-1.1zM1571.5 555.9h1.1v15.7h-1.1zM1353 770.7h1.1v9.8h-1.1zM1498.6 953.6h1.1v9h-1.1zM1790.2 662.2h1.1v8.7h-1.1zM1066 845.1h1.1v6.8h-1.1zM1609.5 835.1h1.1v7.5h-1.1zM805.8 661.4h1.1v8.6h-1.1zM733.4 754.2h1.1v14.9h-1.1zM460.9 861.3h1.1v7.5h-1.1zM189.4 780.3h1.1v7.2h-1.1zM575.2 921.7h1.1v15.8h-1.1z"/>
<path fill="#4c4c4c" d="M1553.1 934.6h1.1v8.7h-1.1zM660.6 724.2h1.1v6.3h-1.1zM767.7 525.7h1.1v6.6h-1.1zM991.3 521.5h1.1v6h-1.1zM563.9 853.8h1.1v6.7h-1.1zM873.4 637.6h1.1v13.4h-1.1zM172.6 788.1h1.1v7.9h-1.1zM258.4 883.8h1.1v8.3h-1.1zM655.9 714.8h1.1v9.2h-1.1zM479 643.5h1.1v11h-1.1zM521.3 739.5h1.1v6.8h-1.1zM408 844.2h1.1v15.7h-1.1zM975.6 532.9h1.1v10.3h-1.1zM1445.6 805h1.1v12.6h-1.1zM567.3 660h1.1v10.1h-1.1zM1359.4 622.3h1.1v12.2h-1.1zM841.2 677.6h1.1v12.9h-1.1zM902 683.6h1.1v10.1h-1.1zM777.2 778.6h1.1v11.9h-1.1zM606.6 521h1.1v11.6h-1.1zM811.6 945.1h1.1v13.2h-1.1zM1470.6 850.3h1.1v12.4h-1.1zM478.8 693.8h1.1v6.1h-1.1zM876.3 736h1.1v7.1h-1.1zM163.4 808h1.1v7h-1.1zM1754.7 552.7h1.1v15.5h-1.1zM670.5 729h1.1v12.6h-1.1zM1299.5 620.2h1.1v15.5h-1.1zM295.6 699.1h1.1v9.2h-1.1zM436.6 701.5h1.1v6.1h-1.1zM734.9 525.2h1.1v13.7h-1.1zM1229.6 884.2h1.1v7h-1.1zM1479.9 715.3h1.1v15.5h-1.1zM831.2 599.9h1.1v8.5h-1.1zM246.3 723.9h1.1v10.3h-1.1zM1490.3 724.4h1.1v10.4h-1.1zM828.4 629h1.1v7.9h-1.1zM1701.7 834.9h1.1v15.6h-1.1zM1579.2 864.8h1.1v7.2h-1.1zM691.7 867.4h1.1v11.1h-1.1zM1063.4 561h1.1v9.2h-1.1zM1379.3 902.3h1.1v9.3h-1.1zM1660.1 718.9h1.1v13.6h-1.1zM1666.4 711.2h1.1v15.2h-1.1zM795.4 746.2h1.1v13h-1.1zM1216.9 787.4h1.1v12.5h-1.1zM372.4 684.4h1.1v13h-1.1zM863.9 936.3h1.1v11.1h-1.1zM1354.2 561.3h1.1v15.5h-1.1zM1535 963.1h1.1v6.1h-1.1zM828.7 609.6h1.1v14.2h-1.1zM1464.9 633.1h1.1v13.2h-1.1zM1210.6 744.8h1.1v12.6h-1.1zM1544.7 553.5h1.1v12.9h-1.1zM1656.1 555.1h1.1v14.1h-1.1zM915.3 577.3h1.1v14.3h-1.1zM1035.5 919.8h1.1v10.1h-1.1zM1707.7 523.5h1.1v10.1h-1.1zM1454.5 940.6h1.1v11.4h-1.1zM958.7 927.3h1.1v7.6h-1.1zM862.9 525.6h1.1v7.6h-1.1zM325.8 748.5h1.1v14.5h-1.1zM1676.3 769.4h1.1v12.6h-1.1zM489.6 682.2h1.1v7.5h-1.1zM1528.9 728.6h1.1v12.2h-1.1zM590.8 829.8h1.1v12.9h-1.1zM426.3 777.4h1.1v14h-1.1zM498.8 682h1.1v10.9h-1.1zM617.1 816h1.1v14.7h-1.1zM430.3 876.5h1.1v7.8h-1.1zM960.1 670.7h1.1v6.1h-1.1zM665.7 546.3h1.1v7.9h-1.1zM1059.7 870.4h1.1v14.7h-1.1zM1400.3 636.3h1.1v15.1h-1.1z"/>
</g>
<g filter="url(#b4)">
<path fill="#292929" d="M534.5 470.5h3v7h-3zM619.4 470.5h6v7h-6zM664.9 470.5h4v7h-4zM794.6 470.5h10v7h-10zM873.7 470.5h6v7h-6zM1026 470.5h5v7h-5zM1541.2 470.5h10v7h-10zM1602.8 470.5h6v7h-6zM1650.7 470.5h6v7h-6zM154.6 478.5h14v7h-14zM290.8 478.5h8v7h-8zM1179.6 478.5h4v7h-4zM840.5 486.5h5v7h-5zM1351.1 486.5h10v7h-10zM1243.2 493.5h3v7h-3zM1440.2 493.5h8v7h-8zM329.9 501.5h4v7h-4zM1083.2 501.5h14v7h-14zM1535.5 501.5h10v7h-10zM233.9 509.5h6v7h-6zM347.7 509.5h8v7h-8zM504.8 509.5h10v7h-10zM637.4 509.5h10v7h-10zM753.6 509.5h3v7h-3zM1427 509.5h14v7h-14zM1708.5 509.5h4v7h-4zM451.7 517.5h10v7h-10zM521.1 517.5h8v7h-8zM960 517.5h10v7h-10zM1028.8 517.5h14v7h-14zM1082 517.5h8v7h-8zM555 525.5h4v7h-4zM1258.8 525.5h3v7h-3zM456.6 533.5h3v7h-3zM825.1 533.5h8v7h-8zM894.1 533.5h4v7h-4zM1309.7 533.5h8v7h-8zM1781.6 533.5h10v7h-10zM280.1 541.5h8v7h-8zM299 541.5h5v7h-5zM578.1 541.5h4v7h-4zM1212.3 541.5h10v7h-10zM1270.7 541.5h10v7h-10zM1435.4 541.5h8v7h-8zM1793.1 541.5h14v7h-14zM1098.3 549.5h3v7h-3zM1422 549.5h4v7h-4zM1747.3 549.5h14v7h-14zM124.3 557.5h4v7h-4zM338.8 557.5h6v7h-6zM654.4 557.5h14v7h-14zM830.8 557.5h10v7h-10zM1176.9 557.5h6v7h-6zM1260.9 557.5h3v7h-3zM1607.9 557.5h10v7h-10zM210.4 565.5h6v7h-6zM286.8 565.5h4v7h-4zM454.7 565.5h14v7h-14zM486.6 565.5h5v7h-5zM500.1 565.5h10v7h-10zM729.8 565.5h3v7h-3zM1090.2 565.5h6v7h-6zM1131.5 565.5h8v7h-8zM502.8 573.5h6v7h-6zM1130.7 573.5h14v7h-14zM236.4 581.5h14v7h-14zM744.2 581.5h6v7h-6zM1179 581.5h3v7h-3zM1417.1 581.5h8v7h-8zM1518.8 581.5h14v7h-14zM936.5 589.5h14v7h-14zM1169.5 589.5h6v7h-6zM1232.4 589.5h8v7h-8zM1291.9 589.5h5v7h-5zM1397.3 589.5h10v7h-10zM1683.7 589.5h8v7h-8zM641.1 597.5h3v7h-3zM876.7 597.5h3v7h-3zM1230.7 597.5h3v7h-3zM1257.3 597.5h4v7h-4zM1770.6 597.5h6v7h-6zM479.2 605.5h3v7h-3zM596 605.5h4v7h-4zM605.8 605.5h10v7h-10zM1023.6 605.5h8v7h-8zM1090.2 605.5h4v7h-4zM650.9 613.5h4v7h-4zM855.6 613.5h14v7h-14zM1103.1 613.5h8v7h-8zM1409.4 613.5h14v7h-14zM1733.1 613.5h8v7h-8zM494.6 346.5h10v7h-10zM638.3 346.5h5v7h-5zM1606.8 346.5h8v7h-8zM592.5 361.5h6v7h-6zM1002.5 361.5h10v7h-10zM1465 361.5h5v7h-5zM1667.5 374.5h6v7h-6zM176.2 384.5h4v7h-4zM727.7 384.5h3v7h-3zM923.6 384.5h4v7h-4zM954.6 384.5h14v7h-14zM1208.5 384.5h3v7h-3zM245 392.5h4v7h-4zM423.2 392.5h5v7h-5zM511.3 392.5h14v7h-14zM555.5 392.5h5v7h-5zM903.6 392.5h8v7h-8zM1523.1 392.5h3v7h-3zM1673.6 392.5h14v7h-14zM1697.2 392.5h3v7h-3zM677 400.5h6v7h-6z"/>
<path fill="#2b2b2b" d="M505.3 470.5h5v7h-5zM570.8 470.5h10v7h-10zM911.2 470.5h3v7h-3zM1197.4 470.5h10v7h-10zM1323.7 470.5h5v7h-5zM1349.6 470.5h6v7h-6zM1663 470.5h4v7h-4zM198 478.5h14v7h-14zM376.9 478.5h10v7h-10zM503.7 478.5h3v7h-3zM779.9 478.5h8v7h-8zM890.9 478.5h10v7h-10zM1068.4 478.5h14v7h-14zM1273.3 478.5h5v7h-5zM1341.2 478.5h6v7h-6zM591.3 486.5h14v7h-14zM821.1 486.5h10v7h-10zM981.2 486.5h10v7h-10zM1056.6 486.5h5v7h-5zM1183.1 486.5h6v7h-6zM1232 486.5h14v7h-14zM1783.7 486.5h10v7h-10zM439.4 493.5h8v7h-8zM483.2 493.5h8v7h-8zM588.4 493.5h5v7h-5zM723.2 493.5h5v7h-5zM975.6 493.5h3v7h-3zM1107.7 493.5h14v7h-14zM1126 493.5h4v7h-4zM1193.4 493.5h3v7h-3zM1300.3 493.5h6v7h-6zM1060.3 501.5h6v7h-6zM1345 501.5h5v7h-5zM174.9 509.5h14v7h-14zM255.6 509.5h8v7h-8zM438.1 509.5h8v7h-8zM881.4 509.5h5v7h-5zM977.4 509.5h14v7h-14zM1128.3 509.5h8v7h-8zM1246.7 509.5h14v7h-14zM1347.8 509.5h3v7h-3zM1573.2 509.5h6v7h-6zM1596.6 509.5h6v7h-6zM1636.5 509.5h10v7h-10zM1684.9 509.5h8v7h-8zM799.1 517.5h3v7h-3zM939.9 517.5h4v7h-4zM1494.5 517.5h8v7h-8zM1789 517.5h14v7h-14zM179.2 525.5h10v7h-10zM297.1 525.5h3v7h-3zM799.1 525.5h6v7h-6zM815 525.5h6v7h-6zM1272.4 525.5h4v7h-4zM1316.8 525.5h4v7h-4zM1345 525.5h6v7h-6zM1601.9 525.5h6v7h-6zM153.8 533.5h8v7h-8zM245.1 533.5h4v7h-4zM437.4 533.5h3v7h-3zM670.7 533.5h14v7h-14zM854.8 533.5h10v7h-10zM932.6 533.5h8v7h-8zM1080.6 533.5h6v7h-6zM1492.1 533.5h3v7h-3zM1531.5 533.5h5v7h-5zM1614.6 533.5h4v7h-4zM235.8 541.5h3v7h-3zM377.2 541.5h10v7h-10zM533.8 541.5h8v7h-8zM635.3 541.5h14v7h-14zM719.8 541.5h14v7h-14zM924.3 541.5h3v7h-3zM1025.5 541.5h3v7h-3zM1296.6 541.5h10v7h-10zM1450.4 541.5h5v7h-5zM1501.7 541.5h5v7h-5zM290.8 549.5h10v7h-10zM414.3 549.5h6v7h-6zM479.7 549.5h5v7h-5zM1167.4 549.5h14v7h-14zM1206.2 549.5h8v7h-8zM1252.7 549.5h4v7h-4zM1456.9 549.5h8v7h-8zM1633.9 549.5h10v7h-10zM587.5 557.5h4v7h-4zM680 557.5h3v7h-3zM1384.5 557.5h5v7h-5zM1464.7 557.5h6v7h-6zM1622 557.5h5v7h-5zM1634.5 557.5h4v7h-4zM843.3 565.5h4v7h-4zM1218.2 565.5h10v7h-10zM659.3 573.5h6v7h-6zM758.6 573.5h3v7h-3zM896.3 573.5h14v7h-14zM1074.1 573.5h10v7h-10zM1105.9 573.5h8v7h-8zM1232 573.5h5v7h-5zM1523.4 573.5h6v7h-6zM615.9 581.5h4v7h-4zM780.9 581.5h14v7h-14zM1080.7 581.5h4v7h-4zM1260.1 581.5h5v7h-5zM237.6 589.5h8v7h-8zM1002.2 589.5h10v7h-10zM1767.6 589.5h3v7h-3zM522.3 605.5h3v7h-3zM1067.4 605.5h4v7h-4zM1628.7 605.5h10v7h-10zM1710.6 605.5h5v7h-5zM281.2 613.5h8v7h-8zM303.4 613.5h3v7h-3zM1664.8 613.5h4v7h-4zM1801 613.5h4v7h-4zM127.7 346.5h4v7h-4zM475.8 361.5h3v7h-3zM812.6 361.5h6v7h-6zM1044 361.5h8v7h-8zM439.4 374.5h6v7h-6zM460.9 374.5h10v7h-10zM1322.1 374.5h14v7h-14zM1422.5 374.5h10v7h-10zM1469.1 374.5h5v7h-5zM1651.6 374.5h5v7h-5zM260.8 384.5h4v7h-4zM532.5 384.5h6v7h-6zM556 384.5h8v7h-8zM859.1 384.5h3v7h-3zM404.4 392.5h4v7h-4zM456.8 392.5h3v7h-3zM1140.5 392.5h5v7h-5zM1190.9 392.5h14v7h-14zM1266.1 392.5h14v7h-14zM1385.1 392.5h4v7h-4zM1801.9 392.5h5v7h-5zM235.3 400.5h6v7h-6zM502.9 400.5h3v7h-3zM656.1 400.5h4v7h-4zM791.5 400.5h3v7h-3zM1049.4 400.5h5v7h-5zM1449.8 400.5h3v7h-3zM1505.7 400.5h3v7h-3z"/>
<path fill="#2e2e2e" d="M636.4 470.5h3v7h-3zM1082.2 470.5h10v7h-10zM1142.9 470.5h3v7h-3zM1389.7 470.5h6v7h-6zM1432.2 470.5h10v7h-10zM1458.6 470.5h4v7h-4zM1681.3 470.5h8v7h-8zM1694.9 470.5h5v7h-5zM1757.6 470.5h14v7h-14zM357.8 478.5h3v7h-3zM623.5 478.5h3v7h-3zM632.5 478.5h14v7h-14zM680 478.5h14v7h-14zM1086.9 478.5h5v7h-5zM1329.4 478.5h5v7h-5zM1392.2 478.5h4v7h-4zM1439 478.5h4v7h-4zM1794.8 478.5h10v7h-10zM297.6 486.5h14v7h-14zM619 486.5h3v7h-3zM653.5 486.5h14v7h-14zM1401.7 486.5h8v7h-8zM250.3 493.5h10v7h-10zM631.3 493.5h6v7h-6zM697.4 493.5h10v7h-10zM1015.5 493.5h4v7h-4zM1162.1 493.5h3v7h-3zM1386.9 493.5h10v7h-10zM1493.9 493.5h10v7h-10zM126.9 501.5h6v7h-6zM268.8 501.5h8v7h-8zM1052 501.5h4v7h-4zM1505.6 501.5h8v7h-8zM160.3 509.5h10v7h-10zM865.6 509.5h10v7h-10zM1058.1 509.5h3v7h-3zM1152.3 509.5h10v7h-10zM1608.1 509.5h14v7h-14zM474.3 517.5h5v7h-5zM1266.9 517.5h10v7h-10zM1620.9 517.5h4v7h-4zM651.5 525.5h4v7h-4zM850.4 525.5h5v7h-5zM966.7 525.5h3v7h-3zM1568.1 525.5h8v7h-8zM198.9 533.5h14v7h-14zM268.1 533.5h8v7h-8zM371 533.5h8v7h-8zM646.7 533.5h8v7h-8zM1142.5 533.5h4v7h-4zM1268.4 533.5h14v7h-14zM1392.2 533.5h6v7h-6zM1454.9 533.5h6v7h-6zM1545.4 533.5h14v7h-14zM166.6 541.5h3v7h-3zM857.7 541.5h5v7h-5zM1167.8 541.5h10v7h-10zM163.6 549.5h5v7h-5zM353.9 549.5h8v7h-8zM713 549.5h8v7h-8zM816.6 549.5h10v7h-10zM834.3 549.5h14v7h-14zM1343.1 549.5h5v7h-5zM1355.1 549.5h3v7h-3zM1480.7 549.5h5v7h-5zM155 557.5h5v7h-5zM434.1 557.5h4v7h-4zM551.7 557.5h3v7h-3zM636.1 557.5h3v7h-3zM868.6 557.5h4v7h-4zM885.7 557.5h10v7h-10zM1686 557.5h6v7h-6zM242.3 565.5h10v7h-10zM298.4 565.5h10v7h-10zM627.6 565.5h10v7h-10zM827 565.5h10v7h-10zM1067.3 565.5h10v7h-10zM1144 565.5h5v7h-5zM1271.2 565.5h6v7h-6zM1562.3 565.5h8v7h-8zM1574.4 565.5h14v7h-14zM127.4 573.5h10v7h-10zM368.4 573.5h14v7h-14zM415.4 573.5h6v7h-6zM518 573.5h8v7h-8zM985.1 573.5h6v7h-6zM1223.2 573.5h3v7h-3zM1346.4 573.5h14v7h-14zM1505.9 573.5h4v7h-4zM1763.6 573.5h4v7h-4zM426.5 581.5h8v7h-8zM629.8 581.5h8v7h-8zM1113.6 581.5h6v7h-6zM1131 581.5h5v7h-5zM1299 581.5h4v7h-4zM1334.6 581.5h6v7h-6zM1588.3 581.5h8v7h-8zM119.6 589.5h6v7h-6zM419.5 589.5h3v7h-3zM449.5 589.5h4v7h-4zM1364.8 589.5h8v7h-8zM1388.2 589.5h4v7h-4zM1544.3 589.5h3v7h-3zM1574.3 589.5h3v7h-3zM1581.5 589.5h3v7h-3zM1617 589.5h6v7h-6zM1709.7 589.5h10v7h-10zM268.7 597.5h10v7h-10zM345.5 597.5h10v7h-10zM1239.5 597.5h4v7h-4zM1364.6 597.5h14v7h-14zM1525.5 597.5h4v7h-4zM325.3 605.5h3v7h-3zM729.7 613.5h3v7h-3zM818.6 613.5h5v7h-5zM955.3 613.5h3v7h-3zM1204.6 613.5h5v7h-5zM1236.5 613.5h8v7h-8zM1786 613.5h5v7h-5zM1290.9 374.5h4v7h-4zM1122.1 384.5h5v7h-5zM1224.5 384.5h8v7h-8zM1257.1 384.5h8v7h-8zM1574.2 384.5h10v7h-10zM666.7 392.5h4v7h-4zM288.9 400.5h6v7h-6zM446.8 400.5h10v7h-10zM584.5 400.5h5v7h-5zM1090.1 400.5h4v7h-4zM1462.1 400.5h6v7h-6z"/>
<path fill="#303030" d="M138.5 470.5h5v7h-5zM226.6 470.5h6v7h-6zM399.7 470.5h8v7h-8zM430.7 470.5h5v7h-5zM482.3 470.5h8v7h-8zM918.3 470.5h8v7h-8zM1011.4 470.5h6v7h-6zM1361.1 470.5h14v7h-14zM1744.9 470.5h3v7h-3zM128.2 478.5h4v7h-4zM540.8 478.5h6v7h-6zM563.6 478.5h10v7h-10zM933.1 478.5h10v7h-10zM1358.7 478.5h10v7h-10zM1480 478.5h8v7h-8zM1492.9 478.5h10v7h-10zM1603.4 478.5h8v7h-8zM1650.5 478.5h5v7h-5zM1742.9 478.5h8v7h-8zM363.2 486.5h4v7h-4zM631.3 486.5h5v7h-5zM1389.9 486.5h3v7h-3zM226.5 493.5h10v7h-10zM644.4 493.5h3v7h-3zM800.1 493.5h6v7h-6zM913.2 493.5h6v7h-6zM960 493.5h6v7h-6zM1572.7 493.5h3v7h-3zM1674.5 493.5h5v7h-5zM714.4 501.5h5v7h-5zM968.1 501.5h8v7h-8zM1322.6 501.5h5v7h-5zM310 509.5h5v7h-5zM582.2 509.5h8v7h-8zM652 509.5h6v7h-6zM1141.1 509.5h4v7h-4zM1412.3 509.5h3v7h-3zM1540.5 509.5h5v7h-5zM1764.2 509.5h5v7h-5zM259.4 517.5h3v7h-3zM344 517.5h6v7h-6zM502.5 517.5h5v7h-5zM737.5 517.5h5v7h-5zM819.1 517.5h4v7h-4zM848.4 517.5h8v7h-8zM1118.7 517.5h3v7h-3zM1174 517.5h10v7h-10zM1712.5 517.5h14v7h-14zM115.8 525.5h8v7h-8zM365.8 525.5h3v7h-3zM480 525.5h6v7h-6zM590.4 525.5h8v7h-8zM631.6 525.5h14v7h-14zM668.8 525.5h10v7h-10zM839 525.5h3v7h-3zM1417.5 525.5h5v7h-5zM1541.4 525.5h10v7h-10zM1662.4 525.5h5v7h-5zM618.4 533.5h8v7h-8zM716 533.5h5v7h-5zM755.4 533.5h8v7h-8zM793.6 533.5h4v7h-4zM1058.9 533.5h4v7h-4zM1469.7 533.5h10v7h-10zM441.1 541.5h8v7h-8zM1056.2 541.5h6v7h-6zM1247 541.5h6v7h-6zM1347.9 541.5h10v7h-10zM1523 541.5h3v7h-3zM1637.2 541.5h8v7h-8zM130.4 549.5h4v7h-4zM518.7 549.5h10v7h-10zM1036.3 549.5h5v7h-5zM1548.4 549.5h3v7h-3zM1579.1 549.5h4v7h-4zM1660.1 549.5h14v7h-14zM286.3 557.5h6v7h-6zM700.9 557.5h4v7h-4zM1085.4 557.5h4v7h-4zM1115.9 557.5h3v7h-3zM1581.9 557.5h10v7h-10zM1645.2 557.5h10v7h-10zM127.4 565.5h4v7h-4zM863.7 565.5h4v7h-4zM1616.8 565.5h14v7h-14zM1692 565.5h10v7h-10zM525.1 581.5h3v7h-3zM727.7 581.5h10v7h-10zM1062.7 581.5h4v7h-4zM1434.5 581.5h8v7h-8zM1447 581.5h14v7h-14zM1502.5 581.5h6v7h-6zM1712.2 581.5h6v7h-6zM334.7 589.5h6v7h-6zM757.1 589.5h6v7h-6zM1749.8 589.5h6v7h-6zM1187.2 597.5h14v7h-14zM238 605.5h3v7h-3zM1223.4 605.5h10v7h-10zM1308.4 605.5h5v7h-5zM1469.1 605.5h3v7h-3zM1726.7 605.5h5v7h-5zM293.5 613.5h5v7h-5zM368.1 613.5h8v7h-8zM779 613.5h4v7h-4zM1563 613.5h8v7h-8zM257.5 346.5h3v7h-3zM408 346.5h6v7h-6zM682.7 346.5h14v7h-14zM973 346.5h3v7h-3zM1041.8 346.5h5v7h-5zM428.4 361.5h3v7h-3zM523.4 361.5h3v7h-3zM139.3 374.5h4v7h-4zM589.7 374.5h8v7h-8zM299.1 384.5h6v7h-6zM497.1 384.5h5v7h-5zM585.8 384.5h5v7h-5zM1045.4 384.5h14v7h-14zM1171.4 384.5h4v7h-4zM1343.1 384.5h8v7h-8zM608.5 392.5h6v7h-6zM816.8 392.5h4v7h-4zM1323.6 392.5h3v7h-3zM1596.9 392.5h14v7h-14zM164.3 400.5h14v7h-14zM639 400.5h8v7h-8zM828.5 400.5h6v7h-6zM1553.6 400.5h5v7h-5z"/>
<path fill="#333333" d="M415.6 470.5h3v7h-3zM453.1 470.5h14v7h-14zM644.9 470.5h8v7h-8zM737.2 470.5h8v7h-8zM936.7 470.5h8v7h-8zM1250.4 470.5h6v7h-6zM1336.9 470.5h4v7h-4zM1592.8 470.5h5v7h-5zM1626.2 470.5h4v7h-4zM1724.3 470.5h6v7h-6zM173.4 478.5h10v7h-10zM249.6 478.5h5v7h-5zM601.9 478.5h5v7h-5zM662.2 478.5h5v7h-5zM797.1 478.5h3v7h-3zM878.8 478.5h8v7h-8zM951.7 478.5h10v7h-10zM1300.7 478.5h14v7h-14zM1403.8 478.5h8v7h-8zM1573 478.5h6v7h-6zM498.7 486.5h5v7h-5zM519.6 486.5h4v7h-4zM536.2 486.5h10v7h-10zM971.5 486.5h4v7h-4zM1039.8 486.5h8v7h-8zM1091.5 486.5h8v7h-8zM1287.5 486.5h3v7h-3zM1338.9 486.5h5v7h-5zM1585.2 486.5h3v7h-3zM505 493.5h6v7h-6zM545.8 493.5h3v7h-3zM734.4 493.5h8v7h-8zM828.5 493.5h6v7h-6zM1229.2 493.5h6v7h-6zM1747.9 493.5h6v7h-6zM1770.2 493.5h14v7h-14zM825.2 501.5h10v7h-10zM1108.5 509.5h5v7h-5zM1561.6 509.5h3v7h-3zM1728.2 509.5h6v7h-6zM232.9 517.5h14v7h-14zM312.8 517.5h3v7h-3zM330.3 517.5h3v7h-3zM582.7 517.5h14v7h-14zM1162.8 517.5h6v7h-6zM1358.1 517.5h10v7h-10zM1767 517.5h10v7h-10zM437.5 525.5h14v7h-14zM1038.9 525.5h6v7h-6zM1395.5 525.5h14v7h-14zM1682.2 525.5h10v7h-10zM1702.7 525.5h3v7h-3zM333.6 533.5h3v7h-3zM389.2 533.5h4v7h-4zM401.7 533.5h10v7h-10zM491.6 533.5h6v7h-6zM877.9 533.5h6v7h-6zM991.9 533.5h6v7h-6zM1158.6 533.5h14v7h-14zM1734.6 533.5h10v7h-10zM251 541.5h5v7h-5zM398.9 541.5h5v7h-5zM586.7 541.5h3v7h-3zM805.3 541.5h8v7h-8zM982.1 541.5h4v7h-4zM1138 541.5h14v7h-14zM1552.7 541.5h4v7h-4zM1577.6 541.5h5v7h-5zM1661.2 541.5h10v7h-10zM1719.5 541.5h4v7h-4zM183.8 549.5h3v7h-3zM191.7 549.5h4v7h-4zM243 549.5h14v7h-14zM624.9 549.5h14v7h-14zM645.4 549.5h10v7h-10zM671.5 549.5h10v7h-10zM750 549.5h10v7h-10zM1394.2 549.5h14v7h-14zM268.1 557.5h8v7h-8zM780.9 557.5h5v7h-5zM806.9 557.5h14v7h-14zM1217.7 557.5h14v7h-14zM1444.4 557.5h4v7h-4zM1719 557.5h3v7h-3zM1772.6 557.5h5v7h-5zM1788.6 557.5h3v7h-3zM178.6 565.5h14v7h-14zM1764.4 565.5h10v7h-10zM938.9 573.5h4v7h-4zM1294.7 573.5h3v7h-3zM1382.1 573.5h14v7h-14zM1421.6 573.5h3v7h-3zM1483 573.5h10v7h-10zM1658.7 573.5h5v7h-5zM868.3 581.5h6v7h-6zM135.5 589.5h3v7h-3zM1056.1 589.5h10v7h-10zM1427.2 589.5h10v7h-10zM1525.7 589.5h10v7h-10zM1639.9 589.5h14v7h-14zM389.3 597.5h8v7h-8zM581.3 597.5h6v7h-6zM719.6 597.5h5v7h-5zM1736.5 597.5h4v7h-4zM268 605.5h6v7h-6zM352.8 605.5h8v7h-8zM586.2 605.5h5v7h-5zM1382.3 605.5h6v7h-6zM1523.8 605.5h5v7h-5zM178 613.5h8v7h-8zM406.6 613.5h5v7h-5zM912.2 613.5h14v7h-14zM1575.1 613.5h5v7h-5zM1677.5 613.5h10v7h-10zM769.1 361.5h10v7h-10zM826 361.5h6v7h-6zM831.7 374.5h14v7h-14zM1567.1 374.5h8v7h-8zM1745 374.5h4v7h-4zM513.2 384.5h6v7h-6zM573.8 384.5h4v7h-4zM1282.1 384.5h4v7h-4zM1632.3 384.5h10v7h-10zM1784.9 384.5h6v7h-6zM1802.6 384.5h6v7h-6zM592.2 392.5h8v7h-8zM1034.4 392.5h8v7h-8zM1642.2 392.5h8v7h-8zM133.2 400.5h14v7h-14zM474 400.5h14v7h-14zM600.5 400.5h5v7h-5zM1037.5 400.5h6v7h-6zM1585.9 400.5h10v7h-10z"/>
<path fill="#383838" d="M202.6 470.5h6v7h-6zM382.6 470.5h4v7h-4zM1060.1 470.5h8v7h-8zM1273.4 470.5h3v7h-3zM1283.5 470.5h5v7h-5zM1507.4 470.5h6v7h-6zM439.3 478.5h14v7h-14zM1054.6 478.5h4v7h-4zM1158.5 478.5h14v7h-14zM1468.9 478.5h5v7h-5zM169.3 486.5h14v7h-14zM718.6 486.5h14v7h-14zM808.9 486.5h4v7h-4zM1018.3 486.5h5v7h-5zM1306.5 486.5h6v7h-6zM1490.4 486.5h8v7h-8zM1722.7 486.5h3v7h-3zM215.4 493.5h5v7h-5zM289.8 493.5h3v7h-3zM1429.7 493.5h6v7h-6zM1474 493.5h4v7h-4zM1590.4 493.5h8v7h-8zM140.8 501.5h4v7h-4zM284.7 501.5h14v7h-14zM1218.3 501.5h14v7h-14zM1634.5 501.5h14v7h-14zM825.4 509.5h6v7h-6zM1000.2 509.5h6v7h-6zM1216.5 509.5h4v7h-4zM1381.6 509.5h3v7h-3zM1457.9 509.5h14v7h-14zM1656.3 509.5h14v7h-14zM1788.4 509.5h6v7h-6zM160.5 517.5h6v7h-6zM433.9 517.5h10v7h-10zM558.5 517.5h10v7h-10zM639 517.5h5v7h-5zM890.1 517.5h14v7h-14zM977.5 517.5h3v7h-3zM219 525.5h10v7h-10zM319.2 525.5h10v7h-10zM612.2 525.5h5v7h-5zM872 525.5h14v7h-14zM931.2 525.5h3v7h-3zM1091 525.5h3v7h-3zM1375.5 525.5h8v7h-8zM1495.2 525.5h5v7h-5zM142.7 533.5h5v7h-5zM179 533.5h10v7h-10zM355 533.5h10v7h-10zM465.6 533.5h3v7h-3zM480.4 533.5h6v7h-6zM1122.9 533.5h5v7h-5zM1246.7 533.5h5v7h-5zM1593.8 533.5h3v7h-3zM664 541.5h10v7h-10zM909.1 541.5h3v7h-3zM955.1 541.5h10v7h-10zM231.8 549.5h6v7h-6zM432 549.5h4v7h-4zM1009.3 549.5h4v7h-4zM1690.3 549.5h5v7h-5zM1704.7 549.5h8v7h-8zM1802.5 549.5h5v7h-5zM323.7 557.5h5v7h-5zM919.3 557.5h3v7h-3zM1362.6 557.5h4v7h-4zM1546.6 557.5h14v7h-14zM1662.4 557.5h14v7h-14zM350.5 565.5h6v7h-6zM394.2 565.5h14v7h-14zM1035.9 565.5h14v7h-14zM1109.8 565.5h14v7h-14zM1511.1 565.5h6v7h-6zM186.7 573.5h6v7h-6zM438.9 573.5h5v7h-5zM460.1 573.5h8v7h-8zM474.9 573.5h3v7h-3zM845.7 573.5h6v7h-6zM868.4 573.5h14v7h-14zM1196 573.5h5v7h-5zM143.6 581.5h3v7h-3zM400.7 581.5h14v7h-14zM1208.9 581.5h8v7h-8zM1346.6 581.5h6v7h-6zM172.8 589.5h5v7h-5zM626.8 589.5h5v7h-5zM1485.3 589.5h8v7h-8zM483.6 597.5h4v7h-4zM948.4 597.5h8v7h-8zM1685.2 597.5h10v7h-10zM166.8 605.5h6v7h-6zM548.4 605.5h10v7h-10zM1276.7 605.5h8v7h-8zM1757.2 605.5h14v7h-14zM738 613.5h4v7h-4zM1072.8 613.5h4v7h-4zM1150 613.5h14v7h-14zM1540 613.5h6v7h-6zM1772.3 613.5h5v7h-5zM328.5 346.5h3v7h-3zM1697.9 346.5h8v7h-8zM638.6 361.5h3v7h-3zM566.8 374.5h10v7h-10zM1217.3 374.5h3v7h-3zM1256.1 374.5h3v7h-3zM1401.6 374.5h14v7h-14zM342.7 384.5h5v7h-5zM380.7 384.5h14v7h-14zM672.4 384.5h8v7h-8zM987.5 384.5h3v7h-3zM1424.6 392.5h6v7h-6zM1494.4 392.5h4v7h-4zM1540.3 392.5h5v7h-5zM1579.6 392.5h6v7h-6zM422.8 400.5h6v7h-6zM620.7 400.5h4v7h-4zM937.9 400.5h8v7h-8zM1174 400.5h8v7h-8zM1281.1 400.5h4v7h-4zM1365.8 400.5h8v7h-8zM1534.6 400.5h3v7h-3z"/>
<path fill="#404040" d="M159 470.5h4v7h-4zM325.6 470.5h10v7h-10zM891.5 470.5h10v7h-10zM309.9 478.5h10v7h-10zM335.5 478.5h10v7h-10zM733.6 478.5h10v7h-10zM979.1 478.5h6v7h-6zM1018 478.5h8v7h-8zM318.6 486.5h4v7h-4zM333.3 486.5h4v7h-4zM476.2 486.5h4v7h-4zM580 486.5h4v7h-4zM923.5 486.5h5v7h-5zM1512.6 486.5h3v7h-3zM1555.4 486.5h14v7h-14zM372.2 493.5h8v7h-8zM565.8 493.5h10v7h-10zM756.1 493.5h5v7h-5zM928.1 493.5h6v7h-6zM1356.5 493.5h14v7h-14zM1512.3 493.5h3v7h-3zM1628.9 493.5h6v7h-6zM239.1 501.5h6v7h-6zM701.8 501.5h4v7h-4zM894.5 501.5h6v7h-6zM1521 501.5h10v7h-10zM289.9 509.5h3v7h-3zM475.1 509.5h6v7h-6zM533.7 509.5h4v7h-4zM606.4 509.5h4v7h-4zM847 509.5h3v7h-3zM909.4 509.5h8v7h-8zM1531.2 509.5h5v7h-5zM143.1 517.5h5v7h-5zM297.6 517.5h4v7h-4zM756.6 517.5h8v7h-8zM917.9 517.5h6v7h-6zM1372.6 517.5h3v7h-3zM1575.2 517.5h10v7h-10zM1630.3 517.5h14v7h-14zM1668.5 517.5h6v7h-6zM244.9 525.5h5v7h-5zM306.8 525.5h3v7h-3zM336.9 525.5h4v7h-4zM393.8 525.5h14v7h-14zM749 525.5h14v7h-14zM1112.9 525.5h10v7h-10zM1436 525.5h14v7h-14zM1585.7 525.5h4v7h-4zM1618.3 525.5h4v7h-4zM1773.3 525.5h3v7h-3zM1803.2 525.5h4v7h-4zM253.5 533.5h10v7h-10zM638.9 533.5h3v7h-3zM735.9 533.5h3v7h-3zM1038.9 533.5h8v7h-8zM1347 533.5h10v7h-10zM1506.9 533.5h4v7h-4zM1634.9 533.5h5v7h-5zM702.2 541.5h6v7h-6zM743.8 541.5h10v7h-10zM1751.1 541.5h10v7h-10zM395.7 549.5h5v7h-5zM1076.5 549.5h10v7h-10zM1502.8 549.5h10v7h-10zM1530.3 549.5h3v7h-3zM309 557.5h10v7h-10zM762.8 557.5h8v7h-8zM1059.7 557.5h3v7h-3zM1132.8 557.5h8v7h-8zM1197.4 557.5h4v7h-4zM1318.1 557.5h8v7h-8zM1483.8 557.5h5v7h-5zM223 565.5h6v7h-6zM613.5 565.5h5v7h-5zM673.9 565.5h10v7h-10zM395 573.5h5v7h-5zM1164.3 573.5h5v7h-5zM347.7 581.5h3v7h-3zM446.5 581.5h3v7h-3zM513.4 581.5h3v7h-3zM539.8 581.5h14v7h-14zM969.1 581.5h4v7h-4zM1091.1 581.5h5v7h-5zM1394.9 581.5h8v7h-8zM1477.4 581.5h3v7h-3zM1618 581.5h8v7h-8zM1742.3 581.5h4v7h-4zM287.8 589.5h14v7h-14zM595.6 589.5h6v7h-6zM1095.2 589.5h8v7h-8zM1449.4 589.5h14v7h-14zM1475.1 589.5h6v7h-6zM169.5 597.5h3v7h-3zM285.3 597.5h6v7h-6zM569 597.5h5v7h-5zM806.3 597.5h14v7h-14zM1026.3 597.5h4v7h-4zM1112.4 597.5h10v7h-10zM1323.2 597.5h4v7h-4zM1475.9 597.5h3v7h-3zM1512.4 597.5h3v7h-3zM1587.6 597.5h10v7h-10zM531.6 605.5h8v7h-8zM777.6 605.5h3v7h-3zM1000.5 605.5h6v7h-6zM1185.7 605.5h14v7h-14zM1404.3 605.5h3v7h-3zM1412.8 605.5h3v7h-3zM134.1 613.5h6v7h-6zM159.4 613.5h3v7h-3zM604.6 613.5h10v7h-10zM1695.6 613.5h3v7h-3zM484.9 346.5h4v7h-4zM521.2 346.5h6v7h-6zM909.5 346.5h10v7h-10zM1670.1 361.5h5v7h-5zM231.4 384.5h3v7h-3zM617.7 384.5h6v7h-6zM742.3 384.5h14v7h-14zM871.7 384.5h6v7h-6zM893.6 384.5h4v7h-4zM1484.3 384.5h8v7h-8zM469.8 392.5h3v7h-3zM620.7 392.5h6v7h-6zM732.7 392.5h5v7h-5zM779.2 392.5h14v7h-14zM797.8 392.5h3v7h-3zM1100.3 392.5h10v7h-10zM1151.7 392.5h10v7h-10zM1294 392.5h6v7h-6zM271.6 400.5h8v7h-8zM310.5 400.5h10v7h-10zM1016.8 400.5h14v7h-14zM1069.1 400.5h14v7h-14zM1391.6 400.5h14v7h-14zM1439 400.5h6v7h-6zM1648.2 400.5h5v7h-5z"/>
<path fill="#454545" d="M380 592.5h5v7h-5zM390.2 592.5h5v7h-5zM400.4 592.5h5v7h-5zM410.6 592.5h5v7h-5zM420.8 592.5h5v7h-5zM431 592.5h5v7h-5zM441.2 592.5h5v7h-5zM451.4 592.5h5v7h-5zM461.6 592.5h5v7h-5z"/>
<path fill="#474747" d="M316 559.5h5v7h-5zM326.2 559.5h5v7h-5zM336.4 559.5h5v7h-5zM346.6 559.5h5v7h-5zM356.8 559.5h5v7h-5zM367 559.5h5v7h-5zM377.2 559.5h5v7h-5zM387.4 559.5h5v7h-5zM397.6 559.5h5v7h-5zM407.8 559.5h5v7h-5zM418 559.5h5v7h-5zM428.2 559.5h5v7h-5zM438.4 559.5h5v7h-5z"/>
<path fill="#4a4a4a" d="M243 604.2h5v7h-5zM253.2 604.2h5v7h-5zM263.4 604.2h5v7h-5zM273.6 604.2h5v7h-5zM283.8 604.2h5v7h-5zM294 604.2h5v7h-5zM304.2 604.2h5v7h-5zM314.4 604.2h5v7h-5zM324.6 604.2h5v7h-5zM334.8 604.2h5v7h-5zM345 604.2h5v7h-5zM355.2 604.2h5v7h-5zM365.4 604.2h5v7h-5zM375.6 604.2h5v7h-5zM385.8 604.2h5v7h-5zM396 604.2h5v7h-5zM406.2 604.2h5v7h-5zM416.4 604.2h5v7h-5zM426.6 604.2h5v7h-5zM436.8 604.2h5v7h-5zM527 604.2h5v7h-5zM537.2 604.2h5v7h-5zM547.4 604.2h5v7h-5zM557.6 604.2h5v7h-5zM567.8 604.2h5v7h-5zM578 604.2h5v7h-5zM588.2 604.2h5v7h-5zM598.4 604.2h5v7h-5zM608.6 604.2h5v7h-5zM618.8 604.2h5v7h-5zM140 691h5v7h-5zM150.2 691h5v7h-5zM160.4 691h5v7h-5zM170.6 691h5v7h-5zM180.8 691h5v7h-5zM191 691h5v7h-5zM201.2 691h5v7h-5zM211.4 691h5v7h-5zM221.6 691h5v7h-5zM231.8 691h5v7h-5zM242 691h5v7h-5zM252.2 691h5v7h-5zM262.4 691h5v7h-5zM272.6 691h5v7h-5zM282.8 691h5v7h-5zM293 691h5v7h-5zM375 691h5v7h-5zM385.2 691h5v7h-5zM395.4 691h5v7h-5zM405.6 691h5v7h-5zM415.8 691h5v7h-5zM426 691h5v7h-5zM436.2 691h5v7h-5zM520 691h5v7h-5zM530.2 691h5v7h-5zM540.4 691h5v7h-5zM550.6 691h5v7h-5zM560.8 691h5v7h-5zM571 691h5v7h-5zM581.2 691h5v7h-5zM591.4 691h5v7h-5zM601.6 691h5v7h-5zM611.8 691h5v7h-5zM622 691h5v7h-5zM1120 691h5v7h-5zM1130.2 691h5v7h-5zM1140.4 691h5v7h-5zM1150.6 691h5v7h-5zM1160.8 691h5v7h-5zM1171 691h5v7h-5zM1181.2 691h5v7h-5zM1191.4 691h5v7h-5z"/>
</g>
<g filter="url(#b1)">
<path fill="#000000" d="M113.4 96.7h1690.2v8.1h-1690.2zM113.4 309.5h1690.2v14h-1690.2zM113.4 323.5h1690.2v15.5h-1690.2zM113.4 408h771.6v9h-771.6zM113.4 431h1690.2v38h-1690.2zM113.4 417h29.1v14h-29.1zM148.8 417h19.1v14h-19.1zM173.4 417h39.8v14h-39.8zM218.6 417h14.2v14h-14.2zM245 417h9.8v14h-9.8zM265.7 417h17.3v14h-17.3zM295.4 417h8.8v14h-8.8zM308.8 417h19.7v14h-19.7zM341.5 417h22v14h-22zM367.1 417h20.7v14h-20.7zM400.9 417h22v14h-22zM428.7 417h19.8v14h-19.8zM460.1 417h11.3v14h-11.3zM481.3 417h28.8v14h-28.8zM519.1 417h12.6v14h-12.6zM536.7 417h23.2v14h-23.2zM572.9 417h16.3v14h-16.3zM592.3 417h34.9v14h-34.9zM639.4 417h39.9v14h-39.9zM688.2 417h26.4v14h-26.4zM717.2 417h18.9v14h-18.9zM745 417h25.7v14h-25.7zM784.1 417h16.6v14h-16.6zM804.1 417h37.7v14h-37.7zM852.2 417h28.6v14h-28.6zM886.2 417h27.7v14h-27.7zM919.2 417h31.4v14h-31.4zM957.7 417h12.6v14h-12.6zM973.8 417h18.3v14h-18.3zM1000.6 417h24v14h-24zM1029.4 417h9.4v14h-9.4zM1050.8 417h35.7v14h-35.7zM1089.2 417h22.3v14h-22.3zM1123.5 417h28.8v14h-28.8zM1156.6 417h18.2v14h-18.2zM1180.9 417h30v14h-30zM1224.6 417h38v14h-38zM1266.6 417h15.2v14h-15.2zM1285.4 417h34.9v14h-34.9zM1327.4 417h15.8v14h-15.8zM1357.1 417h11.2v14h-11.2zM1371.4 417h36.7v14h-36.7zM1413.7 417h16.2v14h-16.2zM1435 417h13.6v14h-13.6zM1462.4 417h10.1v14h-10.1zM1475.7 417h39.1v14h-39.1zM1518.2 417h14.2v14h-14.2zM1545 417h7.4v14h-7.4zM1558.8 417h29.4v14h-29.4zM1597.3 417h20.6v14h-20.6zM1620 417h20.2v14h-20.2zM1653.5 417h39.1v14h-39.1zM1697.8 417h27.2v14h-27.2zM1731.4 417h29.7v14h-29.7zM1763.8 417h22.8v14h-22.8zM1798.7 417h8.7v14h-8.7zM113.4 255.8h23.6v3.5h-23.6zM140.4 255.8h31.8v3.5h-31.8zM179 255.8h18.1v3.5h-18.1zM204.1 255.8h10.5v3.5h-10.5zM223.6 255.8h28.3v3.5h-28.3zM261.6 255.8h30.2v3.5h-30.2zM296.1 255.8h35.8v3.5h-35.8zM338.5 255.8h12.3v3.5h-12.3zM358.9 255.8h33.4v3.5h-33.4zM396.6 255.8h36.4v3.5h-36.4zM442.7 255.8h31.9v3.5h-31.9zM483.5 255.8h10.5v3.5h-10.5zM497.5 255.8h16.1v3.5h-16.1zM518.9 255.8h38.2v3.5h-38.2zM560.5 255.8h31.8v3.5h-31.8zM601.5 255.8h23.4v3.5h-23.4zM628.5 255.8h35.4v3.5h-35.4zM665.9 255.8h25.8v3.5h-25.8zM700.6 255.8h37.4v3.5h-37.4zM744.3 255.8h17.5v3.5h-17.5zM768.9 255.8h12.3v3.5h-12.3zM784.9 255.8h31.6v3.5h-31.6zM823.5 255.8h18.1v3.5h-18.1zM849.5 255.8h9.3v3.5h-9.3zM860.9 255.8h13.8v3.5h-13.8zM880.6 255.8h10.4v3.5h-10.4zM895.4 255.8h10v3.5h-10zM909.3 255.8h32v3.5h-32zM944.3 255.8h39.4v3.5h-39.4zM990.1 255.8h16.6v3.5h-16.6zM1009.5 255.8h21.5v3.5h-21.5zM1034.3 255.8h39.4v3.5h-39.4zM1077 255.8h35.5v3.5h-35.5zM1115.4 255.8h22.2v3.5h-22.2zM1145.8 255.8h24.3v3.5h-24.3zM1176.9 255.8h24.9v3.5h-24.9zM1209.8 255.8h11.1v3.5h-11.1zM1228.7 255.8h33.1v3.5h-33.1zM1271.8 255.8h37.3v3.5h-37.3zM1312 255.8h18.1v3.5h-18.1zM1338.3 255.8h26.7v3.5h-26.7zM1368.6 255.8h20.1v3.5h-20.1zM1391.6 255.8h33.3v3.5h-33.3zM1430.8 255.8h25.1v3.5h-25.1zM1460.8 255.8h14.8v3.5h-14.8zM1484.4 255.8h38.8v3.5h-38.8zM1529 255.8h38.3v3.5h-38.3zM1575.2 255.8h26v3.5h-26zM1605.1 255.8h12.9v3.5h-12.9zM1627.2 255.8h31.4v3.5h-31.4zM1663.3 255.8h15.2v3.5h-15.2zM1681.4 255.8h27.6v3.5h-27.6zM1716.8 255.8h10.1v3.5h-10.1zM1731.4 255.8h25.8v3.5h-25.8zM1759.3 255.8h24.2v3.5h-24.2zM1787.2 255.8h25.1v3.5h-25.1zM134.9 500.8h23.2v11.6h-23.2zM164.5 501.4h12.5v10.2h-12.5zM203.1 501.4h16v10.2h-16zM236.5 501.4h20.3v7.3h-20.3zM280.1 481.1h11.6v17.4h-11.6zM530 481.1h8.7v17.4h-8.7zM652 481.1h11.6v23.2h-11.6zM158.1 481.1h7.3v11.6h-7.3zM780.2 481.1h7.3v17.4h-7.3zM905.2 481.1h7.3v17.4h-7.3zM1027.2 481.1h7.8v17.4h-7.8zM1152.1 481.1h7.3v17.4h-7.3zM886.3 550.8h6.4v62.5h-6.4zM976.3 550.8h8.1v47.9h-8.1zM697.4 502h34.9v6.4h-34.9zM787.5 502h37.8v6.4h-37.8zM848.5 502h34.9v6.4h-34.9zM929.9 502h40.7v6.4h-40.7zM970.5 502h40.7v6.4h-40.7zM1054.8 502h32v6.4h-32zM1133.2 502h40.7v6.4h-40.7zM1191.3 502h69.7v6.4h-69.7zM1276 482.5h7.3v16h-7.3zM1399.5 481.1h7.3v14.5h-7.3zM1524.4 489.8h7.3v8.7h-7.3zM1771.3 481.1h8.7v17.4h-8.7zM1260 502h18.9v6.7h-18.9zM1292 502h20.3v6.7h-20.3zM1342.8 502h21.8v6.7h-21.8zM1428.5 502h23.2v6.7h-23.2zM1498.2 502h104.6v6.7h-104.6zM1627.5 502h77v6.7h-77zM1733.6 502h62.5v6.7h-62.5zM1275.2 482.8h8v17.3h-8zM1399.4 481.3h7.3v18.7h-7.3zM1524.3 488.6h7.3v11.5h-7.3zM1647.8 426.1h65.3v34.8h-65.3zM1524.4 489.3h7.3v10.7h-7.3zM1647.8 475.5h8.7v24.5h-8.7zM1698.6 471.1h5.8v16h-5.8zM1621.6 481.3h4.4v5.8h-4.4z"/>
<path fill="#050505" d="M885 407h918.6v3.5h-918.6z"/>
</g>
<g filter="url(#b4)">
<path fill="#000000" d="M278 125.8h4.7v15.5h-4.7zM284.1 124.4h3.7v16.3h-3.7zM426.5 121.8h4.1v16.7h-4.1zM432.6 125.5h3.7v14.9h-3.7zM439.1 124.8h2.9v13.4h-2.9zM488.8 122.4h2.6v16.5h-2.6zM498.5 124.1h3.2v16.9h-3.2zM513.6 121.7h3v17.5h-3zM549.6 124.5h4v18.4h-4zM557 124.4h4.1v16.2h-4.1zM562 124.4h2.3v14.2h-2.3zM573.6 123h2.3v19.5h-2.3zM933.7 122.3h2.7v17.7h-2.7zM938.1 122.4h4.4v20.5h-4.4zM945.1 125.9h2.9v16.6h-2.9zM1433.7 125.4h3.3v15.5h-3.3zM1439.4 121.3h2.7v17.2h-2.7zM1445.3 121.1h4.9v17.3h-4.9zM1457.6 125.4h4v16.9h-4zM1466.5 121.5h4.1v16.7h-4.1zM1482.1 121.1h2.6v17.3h-2.6zM1488 121.8h4.8v17.2h-4.8zM1498.6 124.7h4v14h-4zM1503.7 122.5h3.5v19h-3.5zM1508.6 121.2h2.9v18.8h-2.9zM1531 122.5h3.2v19.9h-3.2zM1634.8 124.5h2.5v18.1h-2.5zM1708.3 123.2h2.9v18.4h-2.9zM1739.7 122.2h3.1v19.6h-3.1zM175 147.4h4.7v18.2h-4.7zM183.1 144.7h3.2v23.9h-3.2zM201.7 145.2h3.5v19.9h-3.5zM208.6 143.7h2.5v20.9h-2.5zM214.4 146.4h3.7v21.7h-3.7zM306.4 143.3h2.3v24.1h-2.3zM311.7 147.6h1.6v17.4h-1.6zM632.9 145.6h2v22h-2zM646.2 145.8h2.3v22.2h-2.3zM649.6 143.9h1.8v23.6h-1.8zM653.5 144.3h4.3v22.2h-4.3zM1066.5 147.2h1.8v19.3h-1.8zM1079.7 143.8h3.7v20.5h-3.7zM1088.2 145h3.4v21.1h-3.4zM1094.6 145h2v20.1h-2zM1099.5 146.3h3v21.1h-3zM1132.5 146.7h3v21.1h-3zM1136.7 147.1h4.5v18h-4.5zM1143.3 145.2h2.9v19.4h-2.9zM1154.7 144.8h2.8v21.6h-2.8zM1212.1 144.9h2.6v22.4h-2.6zM1219.7 144.9h4.2v21.9h-4.2zM1242.6 147h3v18h-3zM1247 143.2h2.3v22h-2.3zM1265.5 145.8h1.6v19.3h-1.6zM1269.6 145.7h4.3v22.9h-4.3zM1287.9 145.7h2.9v21h-2.9zM1325.3 144.6h1.9v24.1h-1.9zM1357.5 144.6h3.9v23.5h-3.9zM1364.5 145.8h2.5v21.8h-2.5zM1390.4 148h2.8v17.3h-2.8zM1458.7 145.6h2.5v18.8h-2.5zM1462.1 147.4h4.3v18.4h-4.3zM1513.3 145.2h2.7v23.2h-2.7zM1523.2 147.1h2.9v20.1h-2.9zM1526.7 145.5h2.5v20.3h-2.5zM1533.9 146.6h1.7v18.9h-1.7zM1548.6 145.6h4.1v21.6h-4.1zM1555.1 145.6h4.7v20h-4.7zM1561.1 145.9h2.4v20h-2.4zM1571.5 146.9h2.1v17.8h-2.1zM1574.8 145.2h2.1v22.4h-2.1zM1673.7 145.4h2.9v21.4h-2.9zM1693.3 143.5h1.8v20.7h-1.8zM1695.7 143.5h2v22.9h-2zM1703 144.2h3.7v21.2h-3.7zM237.5 178.8h3v14.8h-3zM257.1 178.6h4.5v11.4h-4.5zM262.3 178.1h1.8v15.7h-1.8zM597.3 177.7h3.8v13.6h-3.8zM612.1 178h3v11.7h-3zM615.7 175.7h2.1v15.4h-2.1zM619.8 178.4h2.4v15h-2.4zM635 176.4h2.8v17.1h-2.8zM640.3 179.2h3.4v14.1h-3.4zM662.8 180h2.8v13.9h-2.8zM670 177.7h2.5v14.5h-2.5zM685.2 178.5h2.9v15.4h-2.9zM706.8 178.2h2.3v13.9h-2.3zM754.3 176.2h4.1v13.7h-4.1zM759.1 175.9h3.5v16.9h-3.5zM776.3 179.6h2.1v12.5h-2.1zM797.5 180h4.9v13.6h-4.9zM881.9 179.7h3.7v13h-3.7zM894.3 179.5h4.5v14.1h-4.5zM901.4 177h1.5v16.9h-1.5zM958.4 177.8h4v16.7h-4zM963.7 177.8h4.9v14.1h-4.9zM976.5 176.4h3.7v13.7h-3.7zM1028.3 179h4.6v15.3h-4.6zM1038 177.1h4.2v16.4h-4.2zM1047.4 176.5h2.4v15.6h-2.4zM1051.5 178.9h2.4v11.3h-2.4zM1090.2 180.2h4.7v11.6h-4.7zM1095.5 177.7h5v14.6h-5zM1113.4 176h1.6v16.7h-1.6zM1136 180.3h3.1v10.4h-3.1zM1147.8 179h2.6v11h-2.6zM1153.6 179.2h2.4v11.9h-2.4zM1156.5 177.7h4.2v13h-4.2zM1169.1 180.3h1.9v10.9h-1.9zM1184 176.5h4.6v17.6h-4.6zM1196.7 178.2h1.5v12.8h-1.5zM1215.5 180.2h2.1v13.7h-2.1zM1236.2 180.3h1.6v9.7h-1.6zM1239.5 177.5h4v12.5h-4zM1265.4 179.3h3.1v14h-3.1zM1271.9 175.8h4.5v14.3h-4.5zM1284.5 179h2.8v13.9h-2.8zM1293 176.4h3.1v13.1h-3.1zM1316.6 176.3h2.4v17.5h-2.4zM1327.1 177.9h3.3v15.4h-3.3zM1333.1 178.9h2.8v12.9h-2.8zM1337.4 180.2h1.5v11.5h-1.5zM1350 177.4h4.6v16.3h-4.6zM1456.6 177.8h3.7v14.1h-3.7zM1466.6 179.5h4.9v10.6h-4.9zM1479.6 179.5h1.6v12.7h-1.6zM1483.8 176.5h3.5v17.2h-3.5zM1516.7 179.3h4.3v15.1h-4.3zM1524.3 180h4.2v12h-4.2zM1551.3 178h2.7v13.4h-2.7zM1566.4 178.9h5v12.8h-5zM1572 176.4h2.9v14.2h-2.9zM1602.5 175.6h3.3v16.6h-3.3zM1627.2 180.3h1.5v10.4h-1.5zM1671.7 179.8h2.2v14.2h-2.2zM1675.8 175.6h4v18.4h-4z"/>
<path fill="#050505" d="M289.9 125.9h4.9v14.8h-4.9zM423.4 123h1.8v19h-1.8zM456.9 122.5h4.9v19.2h-4.9zM492.3 126h3v16.6h-3zM523.8 122.5h4v18.1h-4zM914.6 124.1h1.9v17.1h-1.9zM1451.3 125.6h4v14.4h-4zM1463.6 122.3h2v18.6h-2zM1472.4 124.1h3.8v17.8h-3.8zM1476.7 125.9h2v12.4h-2zM1493.7 121h3.3v17.6h-3.3zM1514.9 124.2h5v15.1h-5zM1520.7 123h2.7v15.8h-2.7zM1526.6 124.9h1.7v13.4h-1.7zM1714.5 123.5h4.1v19.1h-4.1zM1721.7 123.3h4.4v17.3h-4.4zM1727.4 121.9h2.6v16.7h-2.6zM1745.9 121.8h4.8v16.5h-4.8zM169.7 144.8h4.1v20.3h-4.1zM189.2 145.5h3.9v20.9h-3.9zM194.5 147.8h4.7v16.7h-4.7zM284.1 146.9h3.7v22h-3.7zM289.2 144.7h4.8v23.6h-4.8zM295.8 146.5h2.9v18.5h-2.9zM301 143.3h2.4v24.8h-2.4zM637.2 147h2.7v20.3h-2.7zM1069.2 147.1h1.6v19.5h-1.6zM1084.8 145.3h1.7v19h-1.7zM1127.3 144.3h2.6v24.5h-2.6zM1215.7 147.9h3.3v20.9h-3.3zM1251.9 145.9h3.1v20.2h-3.1zM1292 144.7h3.8v19.5h-3.8zM1298.4 144.7h3.7v20.2h-3.7zM1328.5 147.6h1.8v17h-1.8zM1344.1 144.8h4.5v23.5h-4.5zM1385.6 145.5h2.9v19h-2.9zM1405.9 146.4h1.8v20.4h-1.8zM1530 143.4h3.2v23.2h-3.2zM1565.7 147.5h3.4v17.6h-3.4zM1666.4 143.6h1.5v22.9h-1.5zM1678.1 147.8h5v19.7h-5zM1685.7 145.1h2.2v19.8h-2.2zM1690.1 143.5h2.6v23.6h-2.6zM1699.1 144.6h1.7v20h-1.7zM122.8 179.1h4.9v14.6h-4.9zM135.4 178h3.5v15.2h-3.5zM242.2 176.9h2.5v17.3h-2.5zM246.3 178.3h2.3v14.1h-2.3zM607.5 178.7h1.7v15.5h-1.7zM667 178.1h1.8v15.2h-1.8zM674.5 178.8h2.9v10.8h-2.9zM678.5 176.6h4.4v16.6h-4.4zM695.4 177.1h1.8v16.7h-1.8zM700.5 176.9h3.2v14.1h-3.2zM888.3 178.3h2.7v14.6h-2.7zM971.6 177.5h2.4v15h-2.4zM987.5 178.8h2v12.2h-2zM991.4 175.9h4.7v18.2h-4.7zM1034.6 178h2v13.8h-2zM1141.5 176.7h4.7v15.1h-4.7zM1177.9 175.8h2.7v16.6h-2.7zM1227.4 179.9h3.5v11.2h-3.5zM1233.1 177.6h2v16.8h-2zM1278.5 177.5h4.4v16.7h-4.4zM1321.6 180.2h4.3v12.4h-4.3zM1339.6 177.5h4.9v15.7h-4.9zM1450.3 177.7h2.9v13h-2.9zM1500.6 176.1h2v14.2h-2zM1504.1 175.6h3.3v15.9h-3.3zM1529.8 176.2h3.9v15.9h-3.9zM1534.6 179h3.4v11.5h-3.4zM1543.9 177.9h2.9v16.6h-2.9zM1629.3 178.5h2.8v11.7h-2.8zM1633.1 177.3h2.1v13.7h-2.1zM1666.4 176.1h3.1v13.8h-3.1z"/>
<path fill="#0a0a0a" d="M261.6 121.6h2v18.1h-2zM265.9 123.7h4v16.6h-4zM273 124.7h2.4v13.3h-2.4zM298.2 121.4h4.5v20.7h-4.5zM442.8 125.2h4.5v15.2h-4.5zM450.8 121.4h3.1v19.2h-3.1zM464.8 125.3h2.7v16.2h-2.7zM504 124.1h1.6v18.4h-1.6zM507.1 122.5h4.5v15.5h-4.5zM519.8 122.6h1.8v17.5h-1.8zM566.4 122.5h4.3v18.4h-4.3zM918.7 121.6h2.9v17.3h-2.9zM922.2 123.8h3.9v19.2h-3.9zM928.2 123.2h3.9v17.3h-3.9zM1628.6 121.5h4.5v21.1h-4.5zM1733.4 124.6h4.5v15.5h-4.5zM640.6 144.9h3.8v21.6h-3.8zM1073.6 147.5h3.8v19h-3.8zM1123.1 147.9h2.5v16.9h-2.5zM1149 147.4h3.8v18.9h-3.8zM1207.3 143.7h3.3v24.9h-3.3zM1260.9 143.5h3v24.1h-3zM1333.1 144.3h2v21.4h-2zM1336.7 143.9h3.9v22h-3.9zM1369.4 146.2h3.2v20.1h-3.2zM1375.7 144.9h2.9v19.9h-2.9zM1380.1 147.5h4v17.8h-4zM1395.7 143.1h3.3v21h-3.3zM1400.1 147.8h2.5v19.3h-2.5zM1408.3 143.3h2.1v22h-2.1zM1411.2 147h3.3v21h-3.3zM1519.2 145.6h2.6v22.4h-2.6zM1670.7 147.4h2.4v17.2h-2.4zM1708.1 147.8h3.3v17.4h-3.3zM113.4 180h4.3v14.1h-4.3zM118.5 177.7h2.9v14.7h-2.9zM130.7 178.8h1.7v11.5h-1.7zM141.5 179.3h5v14.6h-5zM250.8 177.9h4v15.7h-4zM265.6 177h2v16.9h-2zM268.8 178.1h1.8v15.8h-1.8zM602.6 179.4h3.4v13.6h-3.4zM622.8 180h4.4v11.4h-4.4zM628.6 177.6h4.3v12.7h-4.3zM658.3 176.1h1.9v15.9h-1.9zM690 179.8h4.2v12.5h-4.2zM747.4 179.1h3.8v15.1h-3.8zM763.5 178.5h3.9v12h-3.9zM768.6 179.5h4.5v12.8h-4.5zM781.4 177.5h3.2v16.3h-3.2zM790 176.7h2.3v14.7h-2.3zM793 177.1h1.8v14h-1.8zM982.6 176.6h4.1v14.6h-4.1zM1015.7 178.1h2.9v16.1h-2.9zM1020.1 177.9h4.9v16.1h-4.9zM1043.6 180.1h2.7v12.3h-2.7zM1076.5 179.5h4.4v14.2h-4.4zM1082.3 178.4h4.4v13h-4.4zM1103 179.3h3.3v14.2h-3.3zM1108.3 177.1h2.2v13.1h-2.2zM1161.9 176.2h3.8v16.6h-3.8zM1189.8 178.7h3.4v11.1h-3.4zM1198.8 178.1h2.8v13.3h-2.8zM1204.6 176.9h4.7v15.3h-4.7zM1210.1 176.9h2.8v12.9h-2.8zM1288.3 176.9h3.9v14.3h-3.9zM1298.3 177.7h4.3v12.1h-4.3zM1303.4 180.3h4v10.9h-4zM1345.6 177.6h3.1v16.2h-3.1zM1462.9 179.9h2.3v12.2h-2.3zM1472.8 177.2h4.3v13.1h-4.3zM1497.8 180.3h1.6v12.3h-1.6zM1509.2 176.4h3v15.9h-3zM1539.9 178.5h3.3v15.8h-3.3zM1548.2 179.5h1.5v12.7h-1.5zM1555.4 177.3h3.1v14h-3.1zM1576.5 178.2h4.7v12.8h-4.7zM1582 178.3h1.5v11.3h-1.5zM1586.8 176.5h4.4v13.9h-4.4zM1594.3 177.2h4.9v14.6h-4.9zM1637.4 177.2h1.9v16h-1.9zM1640 175.8h4.9v16.2h-4.9zM1646.4 176.8h3.2v14h-3.2z"/>
</g>
<g filter="url(#b4)">
<path fill="#000000" d="M688 122.3h3.5v16.1h-3.5zM692.9 122.3h4.6v15.1h-4.6zM697.8 122.6h3.6v13.5h-3.6zM702.5 122.4h0.2v13.5h-0.2zM717 126h6v8.9h-6zM724.3 124.1h2.7v10.4h-2.7zM728 124.8h5.9v11.7h-5.9zM734.9 125.8h5.3v9.7h-5.3zM741.4 125.9h3.8v8.1h-3.8zM711 157.6h4.8v6.9h-4.8zM716.6 158.7h5.3v8.2h-5.3zM722.7 157.4h2.6v9.1h-2.6zM726.5 157.5h3.9v8h-3.9zM731.1 158.4h5.4v8.2h-5.4zM737.3 158.4h0.4v6.4h-0.4zM865.6 142.5h5.9v24.9h-5.9zM872.3 142.2h5.6v22.3h-5.6zM878.3 144.3h5.7v21.3h-5.7zM884.9 142.4h3.5v24.3h-3.5zM888.8 143.1h5.8v22.4h-5.8zM895.8 143.9h3.7v23.5h-3.7zM899.9 142h4.8v24.3h-4.8zM939.8 141.9h5.1v8.7h-5.1zM945.6 142.1h2.6v9.6h-2.6zM949 139.5h5v11.1h-5zM1030.5 142.5h5.7v21.3h-5.7zM1036.8 142.6h2.9v22.9h-2.9zM1040.8 142.9h2.6v22.1h-2.6zM1044.7 142.5h2.9v20.4h-2.9zM1049 142h5.9v22.1h-5.9zM1055.5 141.7h5v21.3h-5zM1061.5 144.5h5.5v18.6h-5.5zM1068.2 142.7h3.6v21.5h-3.6zM1065.6 140.6h2.3v10h-2.3zM1069.1 139.6h4v12.6h-4zM1074.2 139.7h4.9v10.8h-4.9zM1079.5 142.2h5.1v10.7h-5.1zM1086 140.5h2.9v12.2h-2.9zM1090.3 142.2h2.3v9.2h-2.3zM1093.7 141.5h4.6v9.5h-4.6zM1099.5 140.1h0.5v11.1h-0.5zM1014 127.9h5.5v8h-5.5zM1020 127.2h4.6v10h-4.6zM1026 125.5h0.4v10.7h-0.4zM857 177.8h3.1v12.9h-3.1zM860.6 177.1h4.5v14.5h-4.5zM866 179h5.3v10.5h-5.3zM871.6 179.4h2.2v9.9h-2.2zM686 181.4h3.7v9.5h-3.7zM690.3 179.1h2.5v11.6h-2.5zM750 179.6h4.5v9.7h-4.5zM755.1 181.4h2.8v8h-2.8z"/>
<path fill="#333333" d="M706.8 176h33v14.7h-33z"/>
<path fill="#383838" d="M799.6 104h12.4v8h-12.4z"/>
<path fill="#3b3b3b" d="M884 122.7h14.6v18.3h-14.6z"/>
<path fill="#404040" d="M704.7 139.2h14.5v12.3h-14.5zM737.7 141h10.3v10h-10.3zM725 176h11v16h-11z"/>
<path fill="#474747" d="M752 140h14.6v12h-14.6z"/>
<path fill="#4c4c4c" d="M726.4 139h6.2v13h-6.2z"/>
</g>
<g filter="url(#b4)">
<path fill="#1f1f1f" d="M248.1 417.8h9v6.4h-9zM308.8 417.8h2v6.4h-2zM586 417.8h3v6.4h-3zM883.4 417.8h9v6.4h-9zM932 417.8h7v6.4h-7zM1372.5 417.8h12v6.4h-12zM1456.7 417.8h3v6.4h-3zM178.6 423.8h3v6.4h-3zM229.4 423.8h12v6.4h-12zM258.9 423.8h12v6.4h-12zM473.9 423.8h2v6.4h-2zM694.4 423.8h2v6.4h-2zM759.1 423.8h3v6.4h-3zM796.4 423.8h12v6.4h-12zM832.7 423.8h2v6.4h-2zM961.3 423.8h3v6.4h-3zM1174.6 423.8h5v6.4h-5zM1439.4 423.8h9v6.4h-9zM1562.4 423.8h12v6.4h-12zM1622.6 423.8h4v6.4h-4zM163.2 430.8h12v6.4h-12zM1138.6 430.8h4v6.4h-4zM1177.6 430.8h12v6.4h-12zM1665.5 430.8h5v6.4h-5zM1677.1 430.8h3v6.4h-3zM692.8 438.8h3v6.4h-3zM711.2 438.8h9v6.4h-9zM1145 438.8h9v6.4h-9zM1250.2 438.8h2v6.4h-2zM1664.8 438.8h3v6.4h-3zM487.4 445.8h9v6.4h-9zM739.9 445.8h3v6.4h-3zM834.7 445.8h3v6.4h-3zM874.5 445.8h9v6.4h-9zM957 445.8h12v6.4h-12zM1130.8 445.8h5v6.4h-5zM1285.3 445.8h5v6.4h-5zM1304.1 445.8h4v6.4h-4zM1383.7 445.8h7v6.4h-7zM1515.4 445.8h7v6.4h-7zM1600.1 445.8h3v6.4h-3zM1781.9 445.8h12v6.4h-12zM688.6 453.8h7v6.4h-7zM1418.1 453.8h3v6.4h-3zM1461.8 453.8h12v6.4h-12zM1565.4 453.8h4v6.4h-4zM1589.7 453.8h7v6.4h-7zM201 461.8h2v6.4h-2zM708.2 461.8h3v6.4h-3zM958.2 461.8h5v6.4h-5zM1235 461.8h2v6.4h-2zM1309.9 461.8h9v6.4h-9zM1516.7 461.8h7v6.4h-7zM1561.3 461.8h7v6.4h-7z"/>
<path fill="#292929" d="M649.8 417.8h7v6.4h-7zM729.9 417.8h3v6.4h-3zM823.2 417.8h12v6.4h-12zM1145.7 417.8h2v6.4h-2zM1388.8 417.8h5v6.4h-5zM1593.2 417.8h3v6.4h-3zM1630.3 417.8h12v6.4h-12zM1760.9 417.8h3v6.4h-3zM328.1 423.8h12v6.4h-12zM567.8 423.8h5v6.4h-5zM679.9 423.8h4v6.4h-4zM714 423.8h7v6.4h-7zM992.3 423.8h12v6.4h-12zM1051.5 423.8h2v6.4h-2zM1356.1 423.8h3v6.4h-3zM1491.1 423.8h12v6.4h-12zM1657.8 423.8h3v6.4h-3zM348.6 430.8h5v6.4h-5zM481 430.8h4v6.4h-4zM769.4 430.8h7v6.4h-7zM807.1 430.8h9v6.4h-9zM963.1 430.8h4v6.4h-4zM1257.6 430.8h5v6.4h-5zM1436.3 430.8h12v6.4h-12zM1628.6 430.8h3v6.4h-3zM1757.9 430.8h9v6.4h-9zM282.4 438.8h5v6.4h-5zM338.8 438.8h2v6.4h-2zM376.8 438.8h7v6.4h-7zM388 438.8h9v6.4h-9zM557 438.8h4v6.4h-4zM918.3 438.8h5v6.4h-5zM1096.3 438.8h12v6.4h-12zM1130.8 438.8h7v6.4h-7zM1369.2 438.8h7v6.4h-7zM1391.3 438.8h9v6.4h-9zM1490.8 438.8h7v6.4h-7zM1582.5 438.8h7v6.4h-7zM1797.8 438.8h3v6.4h-3zM254.9 445.8h9v6.4h-9zM377.2 445.8h7v6.4h-7zM394 445.8h7v6.4h-7zM1165 445.8h7v6.4h-7zM1180.4 445.8h5v6.4h-5zM1536.4 445.8h5v6.4h-5zM1584 445.8h2v6.4h-2zM1617.4 445.8h9v6.4h-9zM1694.8 445.8h2v6.4h-2zM1716.5 445.8h4v6.4h-4zM317 453.8h2v6.4h-2zM706.4 453.8h7v6.4h-7zM1032.4 453.8h9v6.4h-9zM1347.4 453.8h5v6.4h-5zM127.5 461.8h5v6.4h-5zM338.7 461.8h5v6.4h-5zM469.6 461.8h2v6.4h-2zM499.6 461.8h2v6.4h-2zM547.1 461.8h5v6.4h-5zM726.9 461.8h3v6.4h-3zM1217.8 461.8h3v6.4h-3zM1430 461.8h7v6.4h-7zM1614.9 461.8h12v6.4h-12z"/>
<path fill="#333333" d="M186.9 417.8h12v6.4h-12zM314.2 417.8h3v6.4h-3zM534.6 417.8h4v6.4h-4zM670.6 417.8h9v6.4h-9zM757.3 417.8h12v6.4h-12zM813.7 417.8h4v6.4h-4zM1002 417.8h12v6.4h-12zM1029.1 417.8h5v6.4h-5zM1261.1 417.8h4v6.4h-4zM1333.7 417.8h4v6.4h-4zM374 423.8h5v6.4h-5zM551.7 423.8h5v6.4h-5zM599.3 423.8h3v6.4h-3zM638.8 423.8h2v6.4h-2zM939.5 423.8h9v6.4h-9zM1140.9 423.8h9v6.4h-9zM1346 423.8h4v6.4h-4zM1390.6 423.8h9v6.4h-9zM1418.5 423.8h5v6.4h-5zM1529.7 423.8h3v6.4h-3zM1606.5 423.8h9v6.4h-9zM1671 423.8h9v6.4h-9zM1685.3 423.8h5v6.4h-5zM1716.7 423.8h2v6.4h-2zM276.3 430.8h12v6.4h-12zM950.9 430.8h7v6.4h-7zM1114.3 430.8h9v6.4h-9zM1284.6 430.8h12v6.4h-12zM1505.5 430.8h12v6.4h-12zM1699.6 430.8h5v6.4h-5zM670 438.8h3v6.4h-3zM730.9 438.8h5v6.4h-5zM1286.9 438.8h12v6.4h-12zM1735.9 438.8h7v6.4h-7zM152.1 445.8h12v6.4h-12zM1218 445.8h2v6.4h-2zM1397.5 445.8h5v6.4h-5zM1432.4 445.8h7v6.4h-7zM1650.3 445.8h5v6.4h-5zM150.8 453.8h12v6.4h-12zM241.4 453.8h2v6.4h-2zM602 453.8h2v6.4h-2zM681.3 453.8h3v6.4h-3zM1187.7 453.8h7v6.4h-7zM1446.5 453.8h5v6.4h-5zM1706.8 453.8h12v6.4h-12zM1794.1 453.8h5v6.4h-5zM578.4 461.8h12v6.4h-12zM680.4 461.8h3v6.4h-3zM692 461.8h2v6.4h-2zM744.7 461.8h5v6.4h-5zM837.2 461.8h2v6.4h-2zM910.7 461.8h5v6.4h-5zM1005.5 461.8h9v6.4h-9zM1166.6 461.8h12v6.4h-12z"/>
<path fill="#3d3d3d" d="M121.8 417.8h2v6.4h-2zM291.3 417.8h7v6.4h-7zM369.8 417.8h3v6.4h-3zM404.7 417.8h4v6.4h-4zM494.6 417.8h9v6.4h-9zM516.9 417.8h5v6.4h-5zM597.2 417.8h12v6.4h-12zM982.5 417.8h7v6.4h-7zM1184.9 417.8h7v6.4h-7zM1297 417.8h5v6.4h-5zM1342.6 417.8h5v6.4h-5zM1467.1 417.8h5v6.4h-5zM1699.7 417.8h2v6.4h-2zM1768.9 417.8h5v6.4h-5zM699.7 423.8h4v6.4h-4zM855.7 423.8h4v6.4h-4zM1229.5 423.8h9v6.4h-9zM1453.9 423.8h4v6.4h-4zM1510.7 423.8h7v6.4h-7zM464.5 430.8h3v6.4h-3zM635.1 430.8h9v6.4h-9zM1326.1 430.8h12v6.4h-12zM1342.9 430.8h7v6.4h-7zM1413.9 430.8h9v6.4h-9zM496.9 438.8h5v6.4h-5zM869.4 438.8h2v6.4h-2zM1036.8 438.8h4v6.4h-4zM1697.3 438.8h7v6.4h-7zM1101.6 445.8h9v6.4h-9zM1149.2 445.8h4v6.4h-4zM1574.1 445.8h5v6.4h-5zM1765.6 445.8h12v6.4h-12zM118.4 453.8h12v6.4h-12zM253.7 453.8h4v6.4h-4zM1102.2 453.8h5v6.4h-5zM1576.2 453.8h4v6.4h-4zM140 461.8h3v6.4h-3zM447.8 461.8h7v6.4h-7zM759.8 461.8h2v6.4h-2zM984.7 461.8h12v6.4h-12zM1080.7 461.8h3v6.4h-3zM1121.7 461.8h5v6.4h-5zM1395.7 461.8h9v6.4h-9zM1498.5 461.8h9v6.4h-9z"/>
<path fill="#474747" d="M330.7 417.8h7v6.4h-7zM703.6 417.8h3v6.4h-3zM711.7 417.8h7v6.4h-7zM898.7 417.8h4v6.4h-4zM1224.5 417.8h5v6.4h-5zM1440.3 417.8h2v6.4h-2zM1501.5 417.8h5v6.4h-5zM1530.7 417.8h3v6.4h-3zM1800.5 417.8h7v6.4h-7zM190.2 423.8h5v6.4h-5zM447.8 423.8h7v6.4h-7zM466.4 423.8h4v6.4h-4zM608.7 423.8h4v6.4h-4zM646.2 423.8h2v6.4h-2zM894.5 423.8h7v6.4h-7zM973.9 423.8h7v6.4h-7zM1110.8 423.8h5v6.4h-5zM1210.1 423.8h5v6.4h-5zM1485.4 423.8h2v6.4h-2zM1552.5 423.8h5v6.4h-5zM1803 423.8h12v6.4h-12zM400.3 430.8h5v6.4h-5zM903.8 430.8h2v6.4h-2zM1038.1 430.8h12v6.4h-12zM1055 430.8h12v6.4h-12zM1363.2 430.8h12v6.4h-12zM1403.9 430.8h7v6.4h-7zM1488.3 430.8h4v6.4h-4zM1586.1 430.8h2v6.4h-2zM1683.6 430.8h2v6.4h-2zM1113.1 438.8h7v6.4h-7zM1192.7 438.8h12v6.4h-12zM1347.9 438.8h4v6.4h-4zM1357 438.8h4v6.4h-4zM1551.9 438.8h5v6.4h-5zM225.6 445.8h5v6.4h-5zM909.8 445.8h12v6.4h-12zM1251.5 445.8h5v6.4h-5zM1259.5 445.8h3v6.4h-3zM1360.6 445.8h4v6.4h-4zM1546.6 445.8h2v6.4h-2zM138.7 453.8h4v6.4h-4zM341.7 453.8h3v6.4h-3zM496.2 453.8h12v6.4h-12zM1118 453.8h3v6.4h-3zM1152.3 453.8h4v6.4h-4zM1332.8 453.8h3v6.4h-3zM1512.5 453.8h3v6.4h-3zM1755 453.8h2v6.4h-2zM635.2 461.8h5v6.4h-5zM926.8 461.8h4v6.4h-4zM1133.6 461.8h2v6.4h-2zM1450.8 461.8h12v6.4h-12zM1536.5 461.8h12v6.4h-12zM1751.4 461.8h4v6.4h-4zM1800.6 461.8h4v6.4h-4z"/>
<path fill="#545454" d="M227.7 417.8h5v6.4h-5zM358 417.8h7v6.4h-7zM431.7 417.8h5v6.4h-5zM569.8 417.8h4v6.4h-4zM944.3 417.8h12v6.4h-12zM1049.2 417.8h9v6.4h-9zM1170.6 417.8h5v6.4h-5zM1673.3 417.8h3v6.4h-3zM164.5 423.8h5v6.4h-5zM219.1 423.8h2v6.4h-2zM354.3 423.8h9v6.4h-9zM518.2 423.8h3v6.4h-3zM1159.9 423.8h5v6.4h-5zM1264.4 423.8h3v6.4h-3zM1408.5 423.8h5v6.4h-5zM1764.6 423.8h5v6.4h-5zM1781.6 423.8h2v6.4h-2zM1791.2 423.8h5v6.4h-5zM652.2 430.8h2v6.4h-2zM718.9 430.8h12v6.4h-12zM1238.3 430.8h12v6.4h-12zM1637.7 430.8h5v6.4h-5zM122.2 438.8h5v6.4h-5zM478.8 438.8h4v6.4h-4zM569.6 438.8h3v6.4h-3zM985.2 438.8h4v6.4h-4zM1002.7 438.8h2v6.4h-2zM1160.9 438.8h7v6.4h-7zM1451.9 438.8h7v6.4h-7zM1620.4 438.8h2v6.4h-2zM694.4 445.8h7v6.4h-7zM984.3 445.8h4v6.4h-4zM1015.5 445.8h9v6.4h-9zM1273.1 445.8h5v6.4h-5zM1414.9 445.8h12v6.4h-12zM1460.6 445.8h9v6.4h-9zM189.8 453.8h3v6.4h-3zM516.6 453.8h3v6.4h-3zM927.4 453.8h12v6.4h-12zM995.8 453.8h5v6.4h-5zM1131.9 453.8h3v6.4h-3zM1277 453.8h3v6.4h-3zM1677.5 453.8h4v6.4h-4zM610.8 461.8h9v6.4h-9zM1242.4 461.8h4v6.4h-4zM1325.1 461.8h12v6.4h-12zM1758.8 461.8h4v6.4h-4z"/>
</g>
<g filter="url(#b1)">
<path fill="#2b2b2b" d="M1700 411h103.6v5h-103.6z"/>
<path fill="#383838" d="M850 411h110v5h-110z"/>
<path fill="#404040" d="M960 410.5h740v5.5h-740z"/>
<path fill="#454545" d="M1500 412.2h190v2.6h-190z"/>
<path fill="#4c4c4c" d="M1260 412.2h240v2.6h-240z"/>
<path fill="#5c5c5c" d="M960 412h300v3h-300z"/>
</g>
<g filter="url(#b5)">
<path fill="#303030" d="M537 51h6.8v5h-6.8zM773.6 51h5v5h-5zM811.8 51h3.7v5h-3.7zM1221.7 51h4.8v5h-4.8zM1312.2 51h3.6v5h-3.6zM1703.2 51h4v5h-4zM1726.5 51h5.7v5h-5.7z"/>
<path fill="#363636" d="M209.1 51h6.7v5h-6.7zM223.4 51h4.5v5h-4.5zM240 51h6.1v5h-6.1zM283 51h3.2v5h-3.2zM499.1 51h3.2v5h-3.2zM996.8 51h4.1v5h-4.1zM1580.1 51h5.3v5h-5.3z"/>
<path fill="#3a3a3a" d="M206.2 80.5h3.3v5.5h-3.3zM881.9 80.5h3v5.5h-3zM1557.7 80.5h3v5.5h-3z"/>
<path fill="#3b3b3b" d="M206.8 107h2.1v2.5h-2.1zM882.5 107h1.8v2.5h-1.8zM1558.3 107h1.8v2.5h-1.8zM136.7 51h3.2v5h-3.2zM273.5 51h3.3v5h-3.3zM449.4 51h3.4v5h-3.4zM867.3 51h4.8v5h-4.8zM899.8 51h3.4v5h-3.4zM1039.2 51h4.7v5h-4.7zM1399.1 51h6.9v5h-6.9zM1448.2 51h5.7v5h-5.7zM1517.2 51h6.2v5h-6.2zM1665.1 51h3.4v5h-3.4z"/>
<path fill="#404040" d="M299.1 51h3.5v5h-3.5zM479.4 51h3.6v5h-3.6zM558.2 51h6.4v5h-6.4zM734.6 51h3.3v5h-3.3zM753.3 51h3.6v5h-3.6zM1011.5 51h6.7v5h-6.7zM1052 51h3.3v5h-3.3zM1124.3 51h4.5v5h-4.5zM1269.3 51h4.4v5h-4.4zM1293.5 51h4.7v5h-4.7zM1347.3 51h4.1v5h-4.1zM1540.1 51h4.7v5h-4.7z"/>
<path fill="#424242" d="M150 80.5h5.8v5.5h-5.8zM187.4 80.5h6.3v5.5h-6.3zM245 80.5h5.8v5.5h-5.8zM262.4 80.5h8.2v5.5h-8.2zM300.1 80.5h9.3v5.5h-9.3zM375 80.5h7.8v5.5h-7.8zM432.9 80.5h8.2v5.5h-8.2zM487.9 80.5h9.8v5.5h-9.8zM545.8 80.5h6.8v5.5h-6.8zM563.3 80.5h4.8v5.5h-4.8zM600.7 80.5h6.8v5.5h-6.8zM675.6 80.5h5.3v5.5h-5.3zM712.9 80.5h9.8v5.5h-9.8zM750.9 80.5h5.8v5.5h-5.8zM788.1 80.5h5.3v5.5h-5.3zM825.8 80.5h6.4v5.5h-6.4zM863.3 80.5h5.8v5.5h-5.8zM900.8 80.5h10.5v5.5h-10.5zM938.2 80.5h9.3v5.5h-9.3zM976.3 80.5h5.8v5.5h-5.8zM1013.1 80.5h17.8v5.5h-17.8zM1051.6 80.5h6.4v5.5h-6.4zM1126 80.5h10.5v5.5h-10.5zM1163.2 80.5h9.8v5.5h-9.8zM1238.7 80.5h5.3v5.5h-5.3zM1276.1 80.5h6.8v5.5h-6.8zM1350.9 80.5h5.3v5.5h-5.3zM1388.7 80.5h9.8v5.5h-9.8zM1501.4 80.5h5.3v5.5h-5.3zM1538.9 80.5h5.8v5.5h-5.8zM1576.4 80.5h5.3v5.5h-5.3zM1614 80.5h7.8v5.5h-7.8zM1651.3 80.5h5.8v5.5h-5.8zM1689.4 80.5h5.3v5.5h-5.3zM1726.6 80.5h6.8v5.5h-6.8z"/>
<path fill="#454545" d="M150.6 107h4.6v2.5h-4.6zM188 107h5.1v2.5h-5.1zM245.6 107h4.6v2.5h-4.6zM263 107h7v2.5h-7zM300.8 107h8.1v2.5h-8.1zM375.6 107h6.6v2.5h-6.6zM433.5 107h7v2.5h-7zM488.5 107h8.6v2.5h-8.6zM546.4 107h5.6v2.5h-5.6zM563.9 107h3.6v2.5h-3.6zM601.3 107h5.6v2.5h-5.6zM676.2 107h4.1v2.5h-4.1zM713.5 107h8.6v2.5h-8.6zM751.5 107h4.6v2.5h-4.6zM788.7 107h4.1v2.5h-4.1zM826.4 107h5.2v2.5h-5.2zM863.9 107h4.6v2.5h-4.6zM901.4 107h9.3v2.5h-9.3zM938.9 107h8.1v2.5h-8.1zM976.9 107h4.6v2.5h-4.6zM1013.7 107h16.6v2.5h-16.6zM1052.2 107h5.2v2.5h-5.2zM1126.5 107h9.3v2.5h-9.3zM1163.8 107h8.6v2.5h-8.6zM1239.2 107h4.1v2.5h-4.1zM1276.7 107h5.6v2.5h-5.6zM1351.5 107h4.1v2.5h-4.1zM1389.3 107h8.6v2.5h-8.6zM1502 107h4.1v2.5h-4.1zM1539.5 107h4.6v2.5h-4.6zM1577 107h4.1v2.5h-4.1zM1614.6 107h6.6v2.5h-6.6zM1651.9 107h4.6v2.5h-4.6zM1690 107h4.1v2.5h-4.1zM1727.2 107h5.6v2.5h-5.6z"/>
<path fill="#575757" d="M206.4 86h2.7v3.5h-2.7zM882.2 86h2.4v3.5h-2.4zM1558 86h2.4v3.5h-2.4z"/>
<path fill="#666666" d="M150.3 86h5.2v3.5h-5.2zM187.7 86h5.7v3.5h-5.7zM245.3 86h5.2v3.5h-5.2zM262.7 86h7.6v3.5h-7.6zM300.4 86h8.7v3.5h-8.7zM375.3 86h7.2v3.5h-7.2zM433.2 86h7.6v3.5h-7.6zM488.2 86h9.2v3.5h-9.2zM546.1 86h6.2v3.5h-6.2zM563.6 86h4.2v3.5h-4.2zM601 86h6.2v3.5h-6.2zM675.9 86h4.7v3.5h-4.7zM713.2 86h9.2v3.5h-9.2zM751.2 86h5.2v3.5h-5.2zM788.4 86h4.7v3.5h-4.7zM826.1 86h5.8v3.5h-5.8zM863.6 86h5.2v3.5h-5.2zM901.1 86h9.9v3.5h-9.9zM938.6 86h8.7v3.5h-8.7zM976.6 86h5.2v3.5h-5.2zM1013.4 86h17.2v3.5h-17.2zM1051.9 86h5.8v3.5h-5.8zM1126.2 86h9.9v3.5h-9.9zM1163.5 86h9.2v3.5h-9.2zM1239 86h4.7v3.5h-4.7zM1276.4 86h6.2v3.5h-6.2zM1351.2 86h4.7v3.5h-4.7zM1389 86h9.2v3.5h-9.2zM1501.7 86h4.7v3.5h-4.7zM1539.2 86h5.2v3.5h-5.2zM1576.7 86h4.7v3.5h-4.7zM1614.3 86h7.2v3.5h-7.2zM1651.6 86h5.2v3.5h-5.2zM1689.7 86h4.7v3.5h-4.7zM1726.9 86h6.2v3.5h-6.2z"/>
<path fill="#6c6c6c" d="M206.8 105.9h2.1v1.1h-2.1zM882.5 105.9h1.8v1.1h-1.8zM1558.3 105.9h1.8v1.1h-1.8z"/>
<path fill="#808080" d="M150.6 105.9h4.6v1.1h-4.6zM188 105.9h5.1v1.1h-5.1zM245.6 105.9h4.6v1.1h-4.6zM263 105.9h7v1.1h-7zM300.8 105.9h8.1v1.1h-8.1zM375.6 105.9h6.6v1.1h-6.6zM433.5 105.9h7v1.1h-7zM488.5 105.9h8.6v1.1h-8.6zM546.4 105.9h5.6v1.1h-5.6zM563.9 105.9h3.6v1.1h-3.6zM601.3 105.9h5.6v1.1h-5.6zM676.2 105.9h4.1v1.1h-4.1zM713.5 105.9h8.6v1.1h-8.6zM751.5 105.9h4.6v1.1h-4.6zM788.7 105.9h4.1v1.1h-4.1zM826.4 105.9h5.2v1.1h-5.2zM863.9 105.9h4.6v1.1h-4.6zM901.4 105.9h9.3v1.1h-9.3zM938.9 105.9h8.1v1.1h-8.1zM976.9 105.9h4.6v1.1h-4.6zM1013.7 105.9h16.6v1.1h-16.6zM1052.2 105.9h5.2v1.1h-5.2zM1126.5 105.9h9.3v1.1h-9.3zM1163.8 105.9h8.6v1.1h-8.6zM1239.2 105.9h4.1v1.1h-4.1zM1276.7 105.9h5.6v1.1h-5.6zM1351.5 105.9h4.1v1.1h-4.1zM1389.3 105.9h8.6v1.1h-8.6zM1502 105.9h4.1v1.1h-4.1zM1539.5 105.9h4.6v1.1h-4.6zM1577 105.9h4.1v1.1h-4.1zM1614.6 105.9h6.6v1.1h-6.6zM1651.9 105.9h4.6v1.1h-4.6zM1690 105.9h4.1v1.1h-4.1zM1727.2 105.9h5.6v1.1h-5.6z"/>
<path fill="#828282" d="M206.8 89.5h2.1v2.5h-2.1zM882.5 89.5h1.8v2.5h-1.8zM1558.3 89.5h1.8v2.5h-1.8z"/>
<path fill="#999999" d="M150.6 89.5h4.6v2.5h-4.6zM188 89.5h5.1v2.5h-5.1zM245.6 89.5h4.6v2.5h-4.6zM263 89.5h7v2.5h-7zM300.8 89.5h8.1v2.5h-8.1zM375.6 89.5h6.6v2.5h-6.6zM433.5 89.5h7v2.5h-7zM488.5 89.5h8.6v2.5h-8.6zM546.4 89.5h5.6v2.5h-5.6zM563.9 89.5h3.6v2.5h-3.6zM601.3 89.5h5.6v2.5h-5.6zM676.2 89.5h4.1v2.5h-4.1zM713.5 89.5h8.6v2.5h-8.6zM751.5 89.5h4.6v2.5h-4.6zM788.7 89.5h4.1v2.5h-4.1zM826.4 89.5h5.2v2.5h-5.2zM863.9 89.5h4.6v2.5h-4.6zM901.4 89.5h9.3v2.5h-9.3zM938.9 89.5h8.1v2.5h-8.1zM976.9 89.5h4.6v2.5h-4.6zM1013.7 89.5h16.6v2.5h-16.6zM1052.2 89.5h5.2v2.5h-5.2zM1126.5 89.5h9.3v2.5h-9.3zM1163.8 89.5h8.6v2.5h-8.6zM1239.2 89.5h4.1v2.5h-4.1zM1276.7 89.5h5.6v2.5h-5.6zM1351.5 89.5h4.1v2.5h-4.1zM1389.3 89.5h8.6v2.5h-8.6zM1502 89.5h4.1v2.5h-4.1zM1539.5 89.5h4.6v2.5h-4.6zM1577 89.5h4.1v2.5h-4.1zM1614.6 89.5h6.6v2.5h-6.6zM1651.9 89.5h4.6v2.5h-4.6zM1690 89.5h4.1v2.5h-4.1zM1727.2 89.5h5.6v2.5h-5.6z"/>
<path fill="#adadad" d="M206.8 92h2.1v1.6h-2.1zM882.5 92h1.8v1.6h-1.8zM1558.3 92h1.8v1.6h-1.8z"/>
<path fill="#cacaca" d="M206.8 93.6h2.1v1h-2.1zM882.5 93.6h1.8v1h-1.8zM1558.3 93.6h1.8v1h-1.8z"/>
<path fill="#cccccc" d="M150.6 92h4.6v1.6h-4.6zM188 92h5.1v1.6h-5.1zM245.6 92h4.6v1.6h-4.6zM263 92h7v1.6h-7zM300.8 92h8.1v1.6h-8.1zM375.6 92h6.6v1.6h-6.6zM433.5 92h7v1.6h-7zM488.5 92h8.6v1.6h-8.6zM546.4 92h5.6v1.6h-5.6zM563.9 92h3.6v1.6h-3.6zM601.3 92h5.6v1.6h-5.6zM676.2 92h4.1v1.6h-4.1zM713.5 92h8.6v1.6h-8.6zM751.5 92h4.6v1.6h-4.6zM788.7 92h4.1v1.6h-4.1zM826.4 92h5.2v1.6h-5.2zM863.9 92h4.6v1.6h-4.6zM901.4 92h9.3v1.6h-9.3zM938.9 92h8.1v1.6h-8.1zM976.9 92h4.6v1.6h-4.6zM1013.7 92h16.6v1.6h-16.6zM1052.2 92h5.2v1.6h-5.2zM1126.5 92h9.3v1.6h-9.3zM1163.8 92h8.6v1.6h-8.6zM1239.2 92h4.1v1.6h-4.1zM1276.7 92h5.6v1.6h-5.6zM1351.5 92h4.1v1.6h-4.1zM1389.3 92h8.6v1.6h-8.6zM1502 92h4.1v1.6h-4.1zM1539.5 92h4.6v1.6h-4.6zM1577 92h4.1v1.6h-4.1zM1614.6 92h6.6v1.6h-6.6zM1651.9 92h4.6v1.6h-4.6zM1690 92h4.1v1.6h-4.1zM1727.2 92h5.6v1.6h-5.6z"/>
<path fill="#d9d9d9" d="M206.8 94.6h2.1v11.3h-2.1zM882.5 94.6h1.8v11.3h-1.8zM1558.3 94.6h1.8v11.3h-1.8z"/>
<path fill="#ededed" d="M150.6 93.6h4.6v1h-4.6zM188 93.6h5.1v1h-5.1zM245.6 93.6h4.6v1h-4.6zM263 93.6h7v1h-7zM300.8 93.6h8.1v1h-8.1zM375.6 93.6h6.6v1h-6.6zM433.5 93.6h7v1h-7zM488.5 93.6h8.6v1h-8.6zM546.4 93.6h5.6v1h-5.6zM563.9 93.6h3.6v1h-3.6zM601.3 93.6h5.6v1h-5.6zM676.2 93.6h4.1v1h-4.1zM713.5 93.6h8.6v1h-8.6zM751.5 93.6h4.6v1h-4.6zM788.7 93.6h4.1v1h-4.1zM826.4 93.6h5.2v1h-5.2zM863.9 93.6h4.6v1h-4.6zM901.4 93.6h9.3v1h-9.3zM938.9 93.6h8.1v1h-8.1zM976.9 93.6h4.6v1h-4.6zM1013.7 93.6h16.6v1h-16.6zM1052.2 93.6h5.2v1h-5.2zM1126.5 93.6h9.3v1h-9.3zM1163.8 93.6h8.6v1h-8.6zM1239.2 93.6h4.1v1h-4.1zM1276.7 93.6h5.6v1h-5.6zM1351.5 93.6h4.1v1h-4.1zM1389.3 93.6h8.6v1h-8.6zM1502 93.6h4.1v1h-4.1zM1539.5 93.6h4.6v1h-4.6zM1577 93.6h4.1v1h-4.1zM1614.6 93.6h6.6v1h-6.6zM1651.9 93.6h4.6v1h-4.6zM1690 93.6h4.1v1h-4.1zM1727.2 93.6h5.6v1h-5.6z"/>
<path fill="#ffffff" d="M150.6 94.6h4.6v11.3h-4.6zM188 94.6h5.1v11.3h-5.1zM245.6 94.6h4.6v11.3h-4.6zM263 94.6h7v11.3h-7zM300.8 94.6h8.1v11.3h-8.1zM375.6 94.6h6.6v11.3h-6.6zM433.5 94.6h7v11.3h-7zM488.5 94.6h8.6v11.3h-8.6zM546.4 94.6h5.6v11.3h-5.6zM563.9 94.6h3.6v11.3h-3.6zM601.3 94.6h5.6v11.3h-5.6zM676.2 94.6h4.1v11.3h-4.1zM713.5 94.6h8.6v11.3h-8.6zM751.5 94.6h4.6v11.3h-4.6zM788.7 94.6h4.1v11.3h-4.1zM826.4 94.6h5.2v11.3h-5.2zM863.9 94.6h4.6v11.3h-4.6zM901.4 94.6h9.3v11.3h-9.3zM938.9 94.6h8.1v11.3h-8.1zM976.9 94.6h4.6v11.3h-4.6zM1013.7 94.6h16.6v11.3h-16.6zM1052.2 94.6h5.2v11.3h-5.2zM1126.5 94.6h9.3v11.3h-9.3zM1163.8 94.6h8.6v11.3h-8.6zM1239.2 94.6h4.1v11.3h-4.1zM1276.7 94.6h5.6v11.3h-5.6zM1351.5 94.6h4.1v11.3h-4.1zM1389.3 94.6h8.6v11.3h-8.6zM1502 94.6h4.1v11.3h-4.1zM1539.5 94.6h4.6v11.3h-4.6zM1577 94.6h4.1v11.3h-4.1zM1614.6 94.6h6.6v11.3h-6.6zM1651.9 94.6h4.6v11.3h-4.6zM1690 94.6h4.1v11.3h-4.1zM1727.2 94.6h5.6v11.3h-5.6z"/>
</g>
<g filter="url(#b8)">
<path fill="#2a2a2a" d="M121.3 304h6.8v5.5h-6.8zM129.4 304h3.9v5.5h-3.9zM136.7 304h3.3v5.5h-3.3zM147.4 304h17v5.5h-17zM170.1 304h5.9v5.5h-5.9zM192.5 304h7.7v5.5h-7.7zM215.1 304h4.5v5.5h-4.5zM230.2 304h17v5.5h-17zM249.1 304h3.9v5.5h-3.9zM256.4 304h3.3v5.5h-3.3zM267.4 304h6.8v5.5h-6.8zM276.1 304h16.1v5.5h-16.1zM294.7 304h5.6v5.5h-5.6zM316.8 304h17.6v5.5h-17.6zM340.1 304h10.9v5.5h-10.9zM361.8 304h3.6v5.5h-3.6zM366.8 304h17v5.5h-17zM420.5 304h14.1v5.5h-14.1zM447.6 304h5.9v5.5h-5.9zM454.5 304h9.1v5.5h-9.1zM471.4 304h12.6v5.5h-12.6zM492.3 304h8.6v5.5h-8.6zM512.1 304h3.3v5.5h-3.3zM521.3 304h17.9v5.5h-17.9zM544.9 304h3v5.5h-3zM564.9 304h12v5.5h-12zM584.1 304h6.8v5.5h-6.8zM602.1 304h6.8v5.5h-6.8zM624.8 304h3.3v5.5h-3.3zM639.3 304h8.8v5.5h-8.8zM658.8 304h3v5.5h-3zM677.7 304h11.2v5.5h-11.2zM699.3 304h3.9v5.5h-3.9zM714.9 304h10.6v5.5h-10.6zM733.2 304h6.8v5.5h-6.8zM752.7 304h3.9v5.5h-3.9zM771.9 304h3.3v5.5h-3.3zM789.9 304h12v5.5h-12zM812 304h3.9v5.5h-3.9zM846.6 304h3.9v5.5h-3.9zM864.3 304h5.1v5.5h-5.1zM883.5 304h6.8v5.5h-6.8zM906.1 304h8.3v5.5h-8.3zM925 304h3.3v5.5h-3.3zM941 304h9.1v5.5h-9.1zM959 304h6.2v5.5h-6.2zM978.2 304h3.3v5.5h-3.3zM996.8 304h4.5v5.5h-4.5zM1018 304h9.7v5.5h-9.7zM1033.9 304h7.4v5.5h-7.4zM1071.7 304h15.5v5.5h-15.5zM1090.6 304h11.2v5.5h-11.2zM1113 304h5.1v5.5h-5.1zM1130.7 304h8.8v5.5h-8.8zM1149.6 304h3.9v5.5h-3.9zM1157.4 304h3.9v5.5h-3.9zM1168.5 304h6.8v5.5h-6.8zM1176.9 304h3.3v5.5h-3.3zM1187.9 304h3.3v5.5h-3.3zM1196.1 304h16.1v5.5h-16.1zM1214.7 304h3.3v5.5h-3.3zM1262.4 304h3.3v5.5h-3.3zM1267.6 304h2.7v5.5h-2.7zM1315.6 304h19v5.5h-19zM1335 304h3.3v5.5h-3.3zM1356.2 304h8.8v5.5h-8.8zM1375.1 304h3.9v5.5h-3.9zM1379.8 304h3.3v5.5h-3.3zM1393.7 304h14.4v5.5h-14.4zM1412.9 304h3.3v5.5h-3.3zM1417.8 304h3.3v5.5h-3.3zM1436.7 304h7.4v5.5h-7.4zM1469.3 304h8.6v5.5h-8.6zM1487.9 304h3.3v5.5h-3.3zM1511.7 304h7.4v5.5h-7.4zM1530.3 304h3.9v5.5h-3.9zM1548.9 304h6.8v5.5h-6.8zM1581.4 304h8.8v5.5h-8.8zM1600 304h3.9v5.5h-3.9zM1605.2 304h2.7v5.5h-2.7zM1619.2 304h13.8v5.5h-13.8zM1637.8 304h3.3v5.5h-3.3zM1656.9 304h10.9v5.5h-10.9zM1680.8 304h4.5v5.5h-4.5zM1693.8 304h10.6v5.5h-10.6zM1712.7 304h3.9v5.5h-3.9zM1750.5 304h3.3v5.5h-3.3zM1755.1 304h3.9v5.5h-3.9z"/>
<path fill="#444444" d="M987.4 325h854.7v13.5h-854.7z"/>
<path fill="#454545" d="M121.5 309.5h6.4v13h-6.4zM129.6 309.5h3.5v13h-3.5zM136.9 309.5h2.9v13h-2.9zM147.6 309.5h16.6v13h-16.6zM170.3 309.5h5.5v13h-5.5zM192.7 309.5h7.3v13h-7.3zM215.3 309.5h4.1v13h-4.1zM230.4 309.5h16.6v13h-16.6zM249.3 309.5h3.5v13h-3.5zM256.6 309.5h2.9v13h-2.9zM267.6 309.5h6.4v13h-6.4zM276.3 309.5h15.7v13h-15.7zM294.9 309.5h5.2v13h-5.2zM317 309.5h17.2v13h-17.2zM340.3 309.5h10.5v13h-10.5zM362 309.5h3.2v13h-3.2zM367 309.5h16.6v13h-16.6zM420.7 309.5h13.7v13h-13.7zM447.8 309.5h5.5v13h-5.5zM454.7 309.5h8.7v13h-8.7zM471.6 309.5h12.2v13h-12.2zM492.5 309.5h8.2v13h-8.2zM512.3 309.5h2.9v13h-2.9zM521.5 309.5h17.5v13h-17.5zM545.1 309.5h2.6v13h-2.6zM565.1 309.5h11.6v13h-11.6zM584.3 309.5h6.4v13h-6.4zM602.3 309.5h6.4v13h-6.4zM625 309.5h2.9v13h-2.9zM639.5 309.5h8.4v13h-8.4zM659 309.5h2.6v13h-2.6zM677.9 309.5h10.8v13h-10.8zM699.5 309.5h3.5v13h-3.5zM715.1 309.5h10.2v13h-10.2zM733.4 309.5h6.4v13h-6.4zM752.9 309.5h3.5v13h-3.5zM772.1 309.5h2.9v13h-2.9zM790.1 309.5h11.6v13h-11.6zM812.2 309.5h3.5v13h-3.5zM846.8 309.5h3.5v13h-3.5zM864.5 309.5h4.7v13h-4.7zM883.7 309.5h6.4v13h-6.4zM906.3 309.5h7.9v13h-7.9zM925.2 309.5h2.9v13h-2.9zM941.2 309.5h8.7v13h-8.7zM959.2 309.5h5.8v13h-5.8zM978.4 309.5h2.9v13h-2.9zM997 309.5h4.1v13h-4.1zM1018.2 309.5h9.3v13h-9.3zM1034.1 309.5h7v13h-7zM1071.9 309.5h15.1v13h-15.1zM1090.8 309.5h10.8v13h-10.8zM1113.2 309.5h4.7v13h-4.7zM1130.9 309.5h8.4v13h-8.4zM1149.8 309.5h3.5v13h-3.5zM1157.6 309.5h3.5v13h-3.5zM1168.7 309.5h6.4v13h-6.4zM1177.1 309.5h2.9v13h-2.9zM1188.1 309.5h2.9v13h-2.9zM1196.3 309.5h15.7v13h-15.7zM1214.9 309.5h2.9v13h-2.9zM1262.6 309.5h2.9v13h-2.9zM1267.8 309.5h2.3v13h-2.3zM1315.8 309.5h18.6v13h-18.6zM1335.2 309.5h2.9v13h-2.9zM1356.4 309.5h8.4v13h-8.4zM1375.3 309.5h3.5v13h-3.5zM1380 309.5h2.9v13h-2.9zM1393.9 309.5h14v13h-14zM1413.1 309.5h2.9v13h-2.9zM1418 309.5h2.9v13h-2.9zM1436.9 309.5h7v13h-7zM1469.5 309.5h8.2v13h-8.2zM1488.1 309.5h2.9v13h-2.9zM1511.9 309.5h7v13h-7zM1530.5 309.5h3.5v13h-3.5zM1549.1 309.5h6.4v13h-6.4zM1581.6 309.5h8.4v13h-8.4zM1600.2 309.5h3.5v13h-3.5zM1605.4 309.5h2.3v13h-2.3zM1619.4 309.5h13.4v13h-13.4zM1638 309.5h2.9v13h-2.9zM1657.1 309.5h10.5v13h-10.5zM1681 309.5h4.1v13h-4.1zM1694 309.5h10.2v13h-10.2zM1712.9 309.5h3.5v13h-3.5zM1750.7 309.5h2.9v13h-2.9zM1755.3 309.5h3.5v13h-3.5z"/>
<path fill="#4f4f4f" d="M150 325h19.2v13.5h-19.2zM263.3 325h17.4v13.5h-17.4zM314.4 325h86.3v13.5h-86.3zM488.7 325h17.4v13.5h-17.4zM601.2 325h17.4v13.5h-17.4zM713.4 325h18.3v13.5h-18.3zM770.6 325h20.3v13.5h-20.3zM825.8 325h30.5v13.5h-30.5zM909.5 325h27v13.5h-27zM939.4 325h17.1v13.5h-17.1z"/>
<path fill="#545454" d="M987.4 328h854.7v7h-854.7z"/>
<path fill="#606060" d="M150 328h19.2v7h-19.2zM263.3 328h17.4v7h-17.4zM314.4 328h86.3v7h-86.3zM488.7 328h17.4v7h-17.4zM601.2 328h17.4v7h-17.4zM713.4 328h18.3v7h-18.3zM770.6 328h20.3v7h-20.3zM825.8 328h30.5v7h-30.5zM909.5 328h27v7h-27zM939.4 328h17.1v7h-17.1z"/>
<path fill="#999999" d="M121.8 312.6h5.8v6.8h-5.8zM129.9 312.6h2.9v6.8h-2.9zM137.2 312.6h2.3v6.8h-2.3zM147.9 312.6h16v6.8h-16zM170.6 312.6h4.9v6.8h-4.9zM193 312.6h6.7v6.8h-6.7zM215.6 312.6h3.5v6.8h-3.5zM230.7 312.6h16v6.8h-16zM249.6 312.6h2.9v6.8h-2.9zM256.9 312.6h2.3v6.8h-2.3zM267.9 312.6h5.8v6.8h-5.8zM276.6 312.6h15.1v6.8h-15.1zM295.2 312.6h4.6v6.8h-4.6zM317.3 312.6h16.6v6.8h-16.6zM340.6 312.6h9.9v6.8h-9.9zM362.3 312.6h2.6v6.8h-2.6zM367.3 312.6h16v6.8h-16zM421 312.6h13.1v6.8h-13.1zM448.1 312.6h4.9v6.8h-4.9zM455 312.6h8.1v6.8h-8.1zM471.9 312.6h11.6v6.8h-11.6zM492.8 312.6h7.6v6.8h-7.6zM512.6 312.6h2.3v6.8h-2.3zM521.8 312.6h16.9v6.8h-16.9zM545.4 312.6h2v6.8h-2zM565.4 312.6h11v6.8h-11zM584.6 312.6h5.8v6.8h-5.8zM602.6 312.6h5.8v6.8h-5.8zM625.3 312.6h2.3v6.8h-2.3zM639.8 312.6h7.8v6.8h-7.8zM659.3 312.6h2v6.8h-2zM678.2 312.6h10.2v6.8h-10.2zM699.8 312.6h2.9v6.8h-2.9zM715.4 312.6h9.6v6.8h-9.6zM733.7 312.6h5.8v6.8h-5.8zM753.2 312.6h2.9v6.8h-2.9zM772.4 312.6h2.3v6.8h-2.3zM790.4 312.6h11v6.8h-11zM812.5 312.6h2.9v6.8h-2.9zM847.1 312.6h2.9v6.8h-2.9zM864.8 312.6h4.1v6.8h-4.1zM884 312.6h5.8v6.8h-5.8zM906.6 312.6h7.3v6.8h-7.3zM925.5 312.6h2.3v6.8h-2.3zM941.5 312.6h8.1v6.8h-8.1zM959.5 312.6h5.2v6.8h-5.2zM978.7 312.6h2.3v6.8h-2.3zM997.3 312.6h3.5v6.8h-3.5zM1018.5 312.6h8.7v6.8h-8.7zM1034.4 312.6h6.4v6.8h-6.4zM1072.2 312.6h14.5v6.8h-14.5zM1091.1 312.6h10.2v6.8h-10.2zM1113.5 312.6h4.1v6.8h-4.1zM1131.2 312.6h7.8v6.8h-7.8zM1150.1 312.6h2.9v6.8h-2.9zM1157.9 312.6h2.9v6.8h-2.9zM1169 312.6h5.8v6.8h-5.8zM1177.4 312.6h2.3v6.8h-2.3zM1188.4 312.6h2.3v6.8h-2.3zM1196.6 312.6h15.1v6.8h-15.1zM1215.2 312.6h2.3v6.8h-2.3zM1262.9 312.6h2.3v6.8h-2.3zM1268.1 312.6h1.7v6.8h-1.7zM1316.1 312.6h18v6.8h-18zM1335.5 312.6h2.3v6.8h-2.3zM1356.7 312.6h7.8v6.8h-7.8zM1375.6 312.6h2.9v6.8h-2.9zM1380.3 312.6h2.3v6.8h-2.3zM1394.2 312.6h13.4v6.8h-13.4zM1413.4 312.6h2.3v6.8h-2.3zM1418.3 312.6h2.3v6.8h-2.3zM1437.2 312.6h6.4v6.8h-6.4zM1469.8 312.6h7.6v6.8h-7.6zM1488.4 312.6h2.3v6.8h-2.3zM1512.2 312.6h6.4v6.8h-6.4zM1530.8 312.6h2.9v6.8h-2.9zM1549.4 312.6h5.8v6.8h-5.8zM1581.9 312.6h7.8v6.8h-7.8zM1600.5 312.6h2.9v6.8h-2.9zM1605.7 312.6h1.7v6.8h-1.7zM1619.7 312.6h12.8v6.8h-12.8zM1638.3 312.6h2.3v6.8h-2.3zM1657.4 312.6h9.9v6.8h-9.9zM1681.3 312.6h3.5v6.8h-3.5zM1694.3 312.6h9.6v6.8h-9.6zM1713.2 312.6h2.9v6.8h-2.9zM1751 312.6h2.3v6.8h-2.3zM1755.6 312.6h2.9v6.8h-2.9z"/>
<path fill="#cccccc" d="M1360.8 328h36.6v5.5h-36.6z"/>
<path fill="#ffffff" d="M121.8 314.6h5.8v2.9h-5.8zM129.9 314.6h2.9v2.9h-2.9zM137.2 314.6h2.3v2.9h-2.3zM147.9 314.6h16v2.9h-16zM170.6 314.6h4.9v2.9h-4.9zM193 314.6h6.7v2.9h-6.7zM215.6 314.6h3.5v2.9h-3.5zM230.7 314.6h16v2.9h-16zM249.6 314.6h2.9v2.9h-2.9zM256.9 314.6h2.3v2.9h-2.3zM267.9 314.6h5.8v2.9h-5.8zM276.6 314.6h15.1v2.9h-15.1zM295.2 314.6h4.6v2.9h-4.6zM317.3 314.6h16.6v2.9h-16.6zM340.6 314.6h9.9v2.9h-9.9zM362.3 314.6h2.6v2.9h-2.6zM367.3 314.6h16v2.9h-16zM421 314.6h13.1v2.9h-13.1zM448.1 314.6h4.9v2.9h-4.9zM455 314.6h8.1v2.9h-8.1zM471.9 314.6h11.6v2.9h-11.6zM492.8 314.6h7.6v2.9h-7.6zM512.6 314.6h2.3v2.9h-2.3zM521.8 314.6h16.9v2.9h-16.9zM545.4 314.6h2v2.9h-2zM565.4 314.6h11v2.9h-11zM584.6 314.6h5.8v2.9h-5.8zM602.6 314.6h5.8v2.9h-5.8zM625.3 314.6h2.3v2.9h-2.3zM639.8 314.6h7.8v2.9h-7.8zM659.3 314.6h2v2.9h-2zM678.2 314.6h10.2v2.9h-10.2zM699.8 314.6h2.9v2.9h-2.9zM715.4 314.6h9.6v2.9h-9.6zM733.7 314.6h5.8v2.9h-5.8zM753.2 314.6h2.9v2.9h-2.9zM772.4 314.6h2.3v2.9h-2.3zM790.4 314.6h11v2.9h-11zM812.5 314.6h2.9v2.9h-2.9zM847.1 314.6h2.9v2.9h-2.9zM864.8 314.6h4.1v2.9h-4.1zM884 314.6h5.8v2.9h-5.8zM906.6 314.6h7.3v2.9h-7.3zM925.5 314.6h2.3v2.9h-2.3zM941.5 314.6h8.1v2.9h-8.1zM959.5 314.6h5.2v2.9h-5.2zM978.7 314.6h2.3v2.9h-2.3zM997.3 314.6h3.5v2.9h-3.5zM1018.5 314.6h8.7v2.9h-8.7zM1034.4 314.6h6.4v2.9h-6.4zM1072.2 314.6h14.5v2.9h-14.5zM1091.1 314.6h10.2v2.9h-10.2zM1113.5 314.6h4.1v2.9h-4.1zM1131.2 314.6h7.8v2.9h-7.8zM1150.1 314.6h2.9v2.9h-2.9zM1157.9 314.6h2.9v2.9h-2.9zM1169 314.6h5.8v2.9h-5.8zM1177.4 314.6h2.3v2.9h-2.3zM1188.4 314.6h2.3v2.9h-2.3zM1196.6 314.6h15.1v2.9h-15.1zM1215.2 314.6h2.3v2.9h-2.3zM1262.9 314.6h2.3v2.9h-2.3zM1268.1 314.6h1.7v2.9h-1.7zM1316.1 314.6h18v2.9h-18zM1335.5 314.6h2.3v2.9h-2.3zM1356.7 314.6h7.8v2.9h-7.8zM1375.6 314.6h2.9v2.9h-2.9zM1380.3 314.6h2.3v2.9h-2.3zM1394.2 314.6h13.4v2.9h-13.4zM1413.4 314.6h2.3v2.9h-2.3zM1418.3 314.6h2.3v2.9h-2.3zM1437.2 314.6h6.4v2.9h-6.4zM1469.8 314.6h7.6v2.9h-7.6zM1488.4 314.6h2.3v2.9h-2.3zM1512.2 314.6h6.4v2.9h-6.4zM1530.8 314.6h2.9v2.9h-2.9zM1549.4 314.6h5.8v2.9h-5.8zM1581.9 314.6h7.8v2.9h-7.8zM1600.5 314.6h2.9v2.9h-2.9zM1605.7 314.6h1.7v2.9h-1.7zM1619.7 314.6h12.8v2.9h-12.8zM1638.3 314.6h2.3v2.9h-2.3zM1657.4 314.6h9.9v2.9h-9.9zM1681.3 314.6h3.5v2.9h-3.5zM1694.3 314.6h9.6v2.9h-9.6zM1713.2 314.6h2.9v2.9h-2.9zM1751 314.6h2.3v2.9h-2.3zM1755.6 314.6h2.9v2.9h-2.9z"/>
</g>
<g filter="url(#b1)">
<path fill="#2e2e2e" d="M176.1 243.5h4v6.5h-4zM233.7 243.5h4v6.5h-4zM406.2 243.5h4v6.5h-4zM464.3 243.5h4v6.5h-4zM521.9 243.5h4v6.5h-4zM579.1 243.5h4v6.5h-4zM636.6 243.5h4v6.5h-4zM694.2 243.5h4v6.5h-4zM693.7 243.5h4v6.5h-4zM751.8 243.5h4v6.5h-4zM809 243.5h4v6.5h-4zM867.1 243.5h4v6.5h-4zM924.6 243.5h4v6.5h-4zM982.2 243.5h4v6.5h-4zM1039.4 243.5h4v6.5h-4zM1097.5 243.5h4v6.5h-4zM1269.9 243.5h4v6.5h-4zM1327.4 243.5h4v6.5h-4zM1385.5 243.5h4v6.5h-4zM1443.1 243.5h4v6.5h-4zM1501.2 243.5h4v6.5h-4zM1558.4 243.5h4v6.5h-4zM1615.6 243.5h4v6.5h-4zM1673.7 243.5h4v6.5h-4zM1731.3 243.5h4v6.5h-4z"/>
<path fill="#333333" d="M285.9 247h11.6v7.5h-11.6zM310.6 247h5.8v7.5h-5.8zM319.3 247h4.9v7.5h-4.9zM332.4 247h7.3v7.5h-7.3zM349.9 247h3.5v7.5h-3.5zM360 247h4.4v7.5h-4.4zM1249.4 247h17.4v7.5h-17.4zM865.9 247h7.3v7.5h-7.3zM921.1 247h4.4v7.5h-4.4zM979.2 247h4.4v7.5h-4.4zM1092.6 247h5.8v7.5h-5.8zM1147.8 247h8.7v7.5h-8.7zM1322.5 247h5.8v7.5h-5.8zM1383.5 247h4.4v7.5h-4.4zM1437.2 247h7.3v7.5h-7.3zM1496.8 247h5.8v7.5h-5.8zM1552 247h5.8v7.5h-5.8zM1610.1 247h5.8v7.5h-5.8zM1666.7 247h5.8v7.5h-5.8zM1724.8 247h5.8v7.5h-5.8zM1788.8 247h5.8v7.5h-5.8z"/>
<path fill="#404040" d="M175.6 249.5h5v8.5h-5zM233.2 249.5h5v8.5h-5zM405.7 249.5h5v8.5h-5zM463.8 249.5h5v8.5h-5zM521.4 249.5h5v8.5h-5zM578.6 249.5h5v8.5h-5zM636.1 249.5h5v8.5h-5zM693.7 249.5h5v8.5h-5zM693.2 249.5h5v8.5h-5zM751.3 249.5h5v8.5h-5zM808.5 249.5h5v8.5h-5zM866.6 249.5h5v8.5h-5zM924.1 249.5h5v8.5h-5zM981.7 249.5h5v8.5h-5zM1038.9 249.5h5v8.5h-5zM1097 249.5h5v8.5h-5zM1269.4 249.5h5v8.5h-5zM1326.9 249.5h5v8.5h-5zM1385 249.5h5v8.5h-5zM1442.6 249.5h5v8.5h-5zM1500.7 249.5h5v8.5h-5zM1557.9 249.5h5v8.5h-5zM1615.1 249.5h5v8.5h-5zM1673.2 249.5h5v8.5h-5zM1730.8 249.5h5v8.5h-5z"/>
<path fill="#595959" d="M285.9 254.5h11.6v5.5h-11.6zM310.6 254.5h5.8v5.5h-5.8zM319.3 254.5h4.9v5.5h-4.9zM332.4 254.5h7.3v5.5h-7.3zM349.9 254.5h3.5v5.5h-3.5zM360 254.5h4.4v5.5h-4.4zM1249.4 254.5h17.4v5.5h-17.4zM865.9 254.5h7.3v5.5h-7.3zM921.1 254.5h4.4v5.5h-4.4zM979.2 254.5h4.4v5.5h-4.4zM1092.6 254.5h5.8v5.5h-5.8zM1147.8 254.5h8.7v5.5h-8.7zM1322.5 254.5h5.8v5.5h-5.8zM1383.5 254.5h4.4v5.5h-4.4zM1437.2 254.5h7.3v5.5h-7.3zM1496.8 254.5h5.8v5.5h-5.8zM1552 254.5h5.8v5.5h-5.8zM1610.1 254.5h5.8v5.5h-5.8zM1666.7 254.5h5.8v5.5h-5.8zM1724.8 254.5h5.8v5.5h-5.8zM1788.8 254.5h5.8v5.5h-5.8z"/>
</g>
<g filter="url(#b3)">
<path fill="#4c4c4c" d="M123.1 252h3.2v9h-3.2zM158.5 252h3.2v9h-3.2zM176.8 252h3.2v9h-3.2zM196.6 252h3.2v9h-3.2zM234.4 252h3.2v9h-3.2zM272.1 252h3.2v9h-3.2zM384.6 252h3.2v9h-3.2zM406.9 252h3.2v9h-3.2zM421.8 252h3.2v9h-3.2zM460.1 252h3.2v9h-3.2zM465 252h3.2v9h-3.2zM497 252h3.2v9h-3.2zM522.6 252h3.2v9h-3.2zM534.2 252h3.2v9h-3.2zM572 252h3.2v9h-3.2zM579.8 252h3.2v9h-3.2zM609.7 252h3.2v9h-3.2zM637.3 252h3.2v9h-3.2zM646.9 252h3.2v9h-3.2zM683.8 252h3.2v9h-3.2zM694.9 252h3.2v9h-3.2zM694.4 252h3.2v9h-3.2zM722 252h3.2v9h-3.2zM749.6 252h3.2v9h-3.2zM752.5 252h3.2v9h-3.2zM759.7 252h3.2v9h-3.2zM796.9 252h3.2v9h-3.2zM809.7 252h3.2v9h-3.2zM834.7 252h3.2v9h-3.2zM867.8 252h3.2v9h-3.2zM909.4 252h3.2v9h-3.2zM925.3 252h3.2v9h-3.2zM947.1 252h3.2v9h-3.2zM982.9 252h3.2v9h-3.2zM1022.1 252h3.2v9h-3.2zM1040.1 252h3.2v9h-3.2zM1059.6 252h3.2v9h-3.2zM1098.2 252h3.2v9h-3.2zM1135.1 252h3.2v9h-3.2zM1154.9 252h3.2v9h-3.2zM1172.3 252h3.2v9h-3.2zM1210.1 252h3.2v9h-3.2zM1213.8 252h3.2v9h-3.2zM1271.1 252h3.2v9h-3.2zM1270.6 252h3.2v9h-3.2zM1284.5 252h3.2v9h-3.2zM1322.9 252h3.2v9h-3.2zM1328.1 252h3.2v9h-3.2zM1359.5 252h3.2v9h-3.2zM1386.2 252h3.2v9h-3.2zM1397.9 252h3.2v9h-3.2zM1443.8 252h3.2v9h-3.2zM1472.8 252h3.2v9h-3.2zM1501.9 252h3.2v9h-3.2zM1509.7 252h3.2v9h-3.2zM1547.5 252h3.2v9h-3.2zM1559.1 252h3.2v9h-3.2zM1585.2 252h3.2v9h-3.2zM1616.3 252h3.2v9h-3.2zM1623 252h3.2v9h-3.2zM1659.9 252h3.2v9h-3.2zM1674.4 252h3.2v9h-3.2zM1697.7 252h3.2v9h-3.2zM1732 252h3.2v9h-3.2zM1734.9 252h3.2v9h-3.2zM1772.6 252h3.2v9h-3.2z"/>
<path fill="#666666" d="M123.9 254h1.6v6.5h-1.6z"/>
<path fill="#737373" d="M236.3 416.5h1.4v10h-1.4zM260.4 416.5h1.4v10h-1.4zM312.3 416.5h1.4v10h-1.4zM332.1 416.5h1.4v10h-1.4zM343.1 416.5h1.4v10h-1.4zM384.6 416.5h1.4v10h-1.4zM412 416.5h1.4v10h-1.4zM474.5 416.5h1.4v10h-1.4zM557.6 416.5h1.4v10h-1.4zM596.1 416.5h1.4v10h-1.4zM671 416.5h1.4v10h-1.4zM698.2 416.5h1.4v10h-1.4zM738.9 416.5h1.4v10h-1.4zM809.3 416.5h1.4v10h-1.4zM863.8 416.5h1.4v10h-1.4zM887.7 416.5h1.4v10h-1.4zM1131 416.5h1.4v10h-1.4zM1156.2 416.5h1.4v10h-1.4zM1188.6 416.5h1.4v10h-1.4z"/>
<path fill="#808080" d="M761.9 299h1.2v9.5h-1.2zM766 299h1.2v9.5h-1.2zM159.3 254h1.6v6.5h-1.6zM197.4 254h1.6v6.5h-1.6zM272.9 254h1.6v6.5h-1.6zM385.4 254h1.6v6.5h-1.6zM422.6 254h1.6v6.5h-1.6zM460.9 254h1.6v6.5h-1.6zM497.8 254h1.6v6.5h-1.6zM535 254h1.6v6.5h-1.6zM572.8 254h1.6v6.5h-1.6zM610.5 254h1.6v6.5h-1.6zM647.7 254h1.6v6.5h-1.6zM684.6 254h1.6v6.5h-1.6zM722.8 254h1.6v6.5h-1.6zM750.4 254h1.6v6.5h-1.6zM760.5 254h1.6v6.5h-1.6zM797.7 254h1.6v6.5h-1.6zM835.5 254h1.6v6.5h-1.6zM910.2 254h1.6v6.5h-1.6zM947.9 254h1.6v6.5h-1.6zM1022.9 254h1.6v6.5h-1.6zM1060.4 254h1.6v6.5h-1.6zM1135.9 254h1.6v6.5h-1.6zM1173.1 254h1.6v6.5h-1.6zM1285.3 254h1.6v6.5h-1.6zM1323.7 254h1.6v6.5h-1.6zM1360.3 254h1.6v6.5h-1.6zM1398.7 254h1.6v6.5h-1.6zM1473.6 254h1.6v6.5h-1.6zM1510.5 254h1.6v6.5h-1.6zM1548.3 254h1.6v6.5h-1.6zM1586 254h1.6v6.5h-1.6zM1623.8 254h1.6v6.5h-1.6zM1660.7 254h1.6v6.5h-1.6zM1698.5 254h1.6v6.5h-1.6zM1735.7 254h1.6v6.5h-1.6zM1773.4 254h1.6v6.5h-1.6z"/>
<path fill="#8c8c8c" d="M145.6 342h1.8v5.5h-1.8zM149.9 342h1.8v5.5h-1.8zM200.8 342h1.8v5.5h-1.8zM224 342h1.8v5.5h-1.8zM257.4 342h1.8v5.5h-1.8zM322.8 342h1.8v5.5h-1.8zM376.6 342h1.8v5.5h-1.8zM394 342h1.8v5.5h-1.8zM396 342h1.8v5.5h-1.8zM447.7 342h1.8v5.5h-1.8zM471 342h1.8v5.5h-1.8zM487.8 342h1.8v5.5h-1.8zM587.2 342h1.8v5.5h-1.8zM593 342h1.8v5.5h-1.8zM650.5 342h1.8v5.5h-1.8zM693.2 342h1.8v5.5h-1.8zM693.6 342h1.8v5.5h-1.8zM708.2 342h1.8v5.5h-1.8zM713.4 342h1.8v5.5h-1.8zM766.3 342h1.8v5.5h-1.8zM784.3 342h1.8v5.5h-1.8zM804.9 342h1.8v5.5h-1.8zM821.5 342h1.8v5.5h-1.8zM868.5 342h1.8v5.5h-1.8zM893.5 342h1.8v5.5h-1.8zM939.1 342h1.8v5.5h-1.8zM1011.2 342h1.8v5.5h-1.8zM1045.2 342h1.8v5.5h-1.8zM1117.8 342h1.8v5.5h-1.8zM1132.9 342h1.8v5.5h-1.8zM1142.5 342h1.8v5.5h-1.8zM1157 342h1.8v5.5h-1.8zM1161.4 342h1.8v5.5h-1.8zM1168.1 342h1.8v5.5h-1.8zM1177.4 342h1.8v5.5h-1.8zM1226.7 342h1.8v5.5h-1.8zM1231.1 342h1.8v5.5h-1.8zM1277.1 342h1.8v5.5h-1.8zM1328.8 342h1.8v5.5h-1.8zM1343.4 342h1.8v5.5h-1.8zM1366.6 342h1.8v5.5h-1.8zM1381.7 342h1.8v5.5h-1.8zM1443.6 342h1.8v5.5h-1.8zM1449.4 342h1.8v5.5h-1.8zM1498.2 342h1.8v5.5h-1.8zM1520 342h1.8v5.5h-1.8zM1568.5 342h1.8v5.5h-1.8zM1575.8 342h1.8v5.5h-1.8zM1616.5 342h1.8v5.5h-1.8zM1624.6 342h1.8v5.5h-1.8zM1690.5 342h1.8v5.5h-1.8zM1705.9 342h1.8v5.5h-1.8zM1719.6 342h1.8v5.5h-1.8zM1723.9 342h1.8v5.5h-1.8zM1727.4 342h1.8v5.5h-1.8zM1737.9 342h1.8v5.5h-1.8zM1793.1 342h1.8v5.5h-1.8zM783.4 299h1.2v9.5h-1.2zM117.7 416.5h1.4v10h-1.4zM219.2 416.5h1.4v10h-1.4zM302.9 416.5h1.4v10h-1.4zM363.1 416.5h1.4v10h-1.4zM501 416.5h1.4v10h-1.4zM533.6 416.5h1.4v10h-1.4zM659.9 416.5h1.4v10h-1.4zM708.9 416.5h1.4v10h-1.4zM760.7 416.5h1.4v10h-1.4zM778.1 416.5h1.4v10h-1.4zM824.9 416.5h1.4v10h-1.4zM836 416.5h1.4v10h-1.4zM1031.4 416.5h1.4v10h-1.4zM1082.8 416.5h1.4v10h-1.4zM1233.2 416.5h1.4v10h-1.4zM1298.5 415.5h1.4v10h-1.4zM1330.4 415.5h1.4v10h-1.4zM1431.4 415.5h1.4v10h-1.4zM1461.9 415.5h1.4v10h-1.4zM1477.1 415.5h1.4v10h-1.4zM1543.9 415.5h1.4v10h-1.4zM1528 415.5h1.4v10h-1.4zM1579.6 415.5h1.4v10h-1.4zM1677.6 415.5h1.4v10h-1.4zM1743.6 415.5h1.4v10h-1.4zM1770.5 415.5h1.4v10h-1.4z"/>
<path fill="#999999" d="M780.4 299h1.2v9.5h-1.2zM1155.7 254h1.6v6.5h-1.6zM1210.9 254h1.6v6.5h-1.6zM1214.6 254h1.6v6.5h-1.6zM1271.9 254h1.6v6.5h-1.6z"/>
<path fill="#a6a6a6" d="M174.3 416.5h1.4v10h-1.4zM278.3 416.5h1.4v10h-1.4zM436.2 416.5h1.4v10h-1.4zM545 416.5h1.4v10h-1.4zM573.7 416.5h1.4v10h-1.4zM604.2 416.5h1.4v10h-1.4zM624.5 416.5h1.4v10h-1.4zM717 416.5h1.4v10h-1.4zM765.9 416.5h1.4v10h-1.4zM903.8 416.5h1.4v10h-1.4zM918.7 416.5h1.4v10h-1.4zM983.4 416.5h1.4v10h-1.4zM1042.5 416.5h1.4v10h-1.4zM1060.4 416.5h1.4v10h-1.4zM1098.4 416.5h1.4v10h-1.4zM1121.4 416.5h1.4v10h-1.4zM1211.4 416.5h1.4v10h-1.4zM1286.2 415.5h1.4v10h-1.4zM1335.5 415.5h1.4v10h-1.4zM1355.1 415.5h1.4v10h-1.4zM1371.8 415.5h1.4v10h-1.4zM1385.6 415.5h1.4v10h-1.4zM1398.7 415.5h1.4v10h-1.4zM1527.9 415.5h1.4v10h-1.4zM1544.7 415.5h1.4v10h-1.4zM1557.8 415.5h1.4v10h-1.4zM1593.4 415.5h1.4v10h-1.4zM1620.2 415.5h1.4v10h-1.4zM1662.3 415.5h1.4v10h-1.4zM1702.3 415.5h1.4v10h-1.4zM1714.6 415.5h1.4v10h-1.4zM1747.3 415.5h1.4v10h-1.4zM1767.6 415.5h1.4v10h-1.4zM1782.8 415.5h1.4v10h-1.4zM1793.7 415.5h1.4v10h-1.4z"/>
<path fill="#b8b8b8" d="M145.5 336h2v6h-2zM149.8 336h2v6h-2zM200.7 336h2v6h-2zM223.9 336h2v6h-2zM257.3 336h2v6h-2zM322.7 336h2v6h-2zM376.5 336h2v6h-2zM393.9 336h2v6h-2zM395.9 336h2v6h-2zM447.6 336h2v6h-2zM470.9 336h2v6h-2zM487.7 336h2v6h-2zM587.1 336h2v6h-2zM592.9 336h2v6h-2zM650.4 336h2v6h-2zM693.1 336h2v6h-2zM693.5 336h2v6h-2zM708.1 336h2v6h-2zM713.3 336h2v6h-2zM766.2 336h2v6h-2zM784.2 336h2v6h-2zM804.8 336h2v6h-2zM821.4 336h2v6h-2zM868.4 336h2v6h-2zM893.4 336h2v6h-2zM939 336h2v6h-2zM1011.1 336h2v6h-2zM1045.1 336h2v6h-2zM1117.7 336h2v6h-2zM1132.8 336h2v6h-2zM1142.4 336h2v6h-2zM1156.9 336h2v6h-2zM1161.3 336h2v6h-2zM1168 336h2v6h-2zM1177.3 336h2v6h-2zM1226.6 336h2v6h-2zM1231 336h2v6h-2zM1277 336h2v6h-2zM1328.7 336h2v6h-2zM1343.3 336h2v6h-2zM1366.5 336h2v6h-2zM1381.6 336h2v6h-2zM1443.5 336h2v6h-2zM1449.3 336h2v6h-2zM1498.1 336h2v6h-2zM1519.9 336h2v6h-2zM1568.4 336h2v6h-2zM1575.7 336h2v6h-2zM1616.4 336h2v6h-2zM1624.5 336h2v6h-2zM1690.4 336h2v6h-2zM1705.8 336h2v6h-2zM1719.5 336h2v6h-2zM1723.8 336h2v6h-2zM1727.3 336h2v6h-2zM1737.8 336h2v6h-2zM1793 336h2v6h-2z"/>
<path fill="#bfbfbf" d="M146.8 416.5h1.4v10h-1.4zM190.2 416.5h1.4v10h-1.4zM244.5 416.5h1.4v10h-1.4zM456.2 416.5h1.4v10h-1.4zM506.2 416.5h1.4v10h-1.4zM578.8 416.5h1.4v10h-1.4zM649.6 416.5h1.4v10h-1.4zM797.2 416.5h1.4v10h-1.4zM841.7 416.5h1.4v10h-1.4zM929.4 416.5h1.4v10h-1.4zM944.6 416.5h1.4v10h-1.4zM958 416.5h1.4v10h-1.4zM1008.3 416.5h1.4v10h-1.4zM1171.1 416.5h1.4v10h-1.4zM1261.5 415.5h1.4v10h-1.4zM1281.1 415.5h1.4v10h-1.4zM1308.7 415.5h1.4v10h-1.4zM1393.6 415.5h1.4v10h-1.4zM1467.7 415.5h1.4v10h-1.4zM1484.4 415.5h1.4v10h-1.4zM1569.4 415.5h1.4v10h-1.4zM1576.7 415.5h1.4v10h-1.4zM1654.3 415.5h1.4v10h-1.4zM1666.7 415.5h1.4v10h-1.4zM1674.7 415.5h1.4v10h-1.4zM1680.5 415.5h1.4v10h-1.4zM1689.2 415.5h1.4v10h-1.4zM1731.3 415.5h1.4v10h-1.4z"/>
<path fill="#e6e6e6" d="M774.2 299h1.2v9.5h-1.2zM177.6 254h1.6v6.5h-1.6zM235.2 254h1.6v6.5h-1.6zM407.7 254h1.6v6.5h-1.6zM465.8 254h1.6v6.5h-1.6zM523.4 254h1.6v6.5h-1.6zM580.6 254h1.6v6.5h-1.6zM638.1 254h1.6v6.5h-1.6zM695.7 254h1.6v6.5h-1.6zM695.2 254h1.6v6.5h-1.6zM753.3 254h1.6v6.5h-1.6zM810.5 254h1.6v6.5h-1.6zM868.6 254h1.6v6.5h-1.6zM926.1 254h1.6v6.5h-1.6zM983.7 254h1.6v6.5h-1.6zM1040.9 254h1.6v6.5h-1.6zM1099 254h1.6v6.5h-1.6zM1271.4 254h1.6v6.5h-1.6zM1328.9 254h1.6v6.5h-1.6zM1387 254h1.6v6.5h-1.6zM1444.6 254h1.6v6.5h-1.6zM1502.7 254h1.6v6.5h-1.6zM1559.9 254h1.6v6.5h-1.6zM1617.1 254h1.6v6.5h-1.6zM1675.2 254h1.6v6.5h-1.6zM1732.8 254h1.6v6.5h-1.6z"/>
<path fill="#f2f2f2" d="M791.8 299h1.2v9.5h-1.2z"/>
</g>
<g filter="url(#b4)">
<path fill="#333333" d="M954.4 121.4h5v21h-5zM782.6 149.4h6v19.3h-6zM1666.2 145.5h8v24.4h-8zM1129.5 179.3h8v11h-8zM1651.1 177.6h3v14.5h-3z"/>
<path fill="#383838" d="M1401.4 123.1h8v16.2h-8zM1463.8 121.9h5v16.5h-5zM477.1 147.6h5v18.1h-5zM1321.5 145.9h5v22.5h-5zM1503.9 147.9h4v21h-4zM406.8 175.2h3v16h-3z"/>
<path fill="#404040" d="M231 123.8h6v16h-6zM295.9 125.7h6v14.3h-6zM464.9 125.4h5v18.1h-5zM506.9 124.8h6v19h-6zM1166.3 120.4h6v22.5h-6zM371 150.3h8v14.8h-8zM427.2 146.1h4v19.6h-4zM586.2 146.3h3v21.7h-3zM659.6 147.3h8v18.8h-8zM855.2 147h5v20.5h-5zM934.3 150h8v17h-8zM1035.5 146h3v24h-3zM1336.8 148.2h8v21.9h-8zM117.6 179.7h3v12.1h-3zM262.1 174.2h5v18.7h-5z"/>
<path fill="#454545" d="M1323.1 122.7h8v17.7h-8zM1538.8 125.4h4v18.5h-4zM1451.7 146.1h6v23.5h-6zM1477.5 147.5h8v20.6h-8zM1595.6 150.4h3v16.8h-3z"/>
<path fill="#474747" d="M548.9 125.3h6v18.5h-6zM240.4 146.5h6v18.9h-6zM259.8 149.3h3v20.2h-3zM610.1 149.1h5v16.6h-5zM389.4 176.7h3v14.9h-3zM502.4 174.1h6v18.3h-6z"/>
<path fill="#4c4c4c" d="M496.1 120.2h3v21h-3zM502.7 146.1h4v20.6h-4zM318.3 178.6h4v12.9h-4zM541 174.9h5v16.4h-5z"/>
<path fill="#545454" d="M372 150h8v15h-8zM520 178h10v12h-10zM372 178h18v12h-18zM390.8 120.8h8v20.6h-8zM400.8 149.9h8v16h-8zM459.8 175.1h8v13.9h-8zM605.8 176.6h4v12.3h-4z"/>
<path fill="#5c5c5c" d="M178 126h6v14h-6zM190 150h6v18h-6zM290 150h4v12h-4zM365 145h4v15h-4zM414 150h4v10h-4zM164 124h6v16.9h-6zM436.6 149.3h5v18.3h-5zM337.4 174.6h8v13.4h-8z"/>
<path fill="#666666" d="M330 150h6v10h-6zM400 150h4v15h-4z"/>
<path fill="#6b6b6b" d="M134 125h6v16h-6zM160 125h6v16h-6zM201 150h4v18h-4zM284 145h4v15h-4zM465 145h5v13h-5z"/>
<path fill="#737373" d="M252 158h6v14h-6z"/>
<path fill="#7a7a7a" d="M474 146h4v12h-4z"/>
<path fill="#808080" d="M142 125h4v16h-4zM262 158h3v14h-3z"/>
<path fill="#858585" d="M167 125h5v17h-5z"/>
<path fill="#8c8c8c" d="M121 124h4v18h-4z"/>
</g>
<g filter="url(#b6)">
<path fill="#303030" d="M702.7 454h11.2v5.9h-11.2zM751.6 454h8.8v5.9h-8.8z"/>
<path fill="#393939" d="M442.3 427.9h35.9v5.3h-35.9zM853.2 388.1h8.8v11.7h-8.8zM1002 385.2h5.4v7.4h-5.4zM1225.7 444.7h3.9v7.4h-3.9zM1164.1 593.5h5.9v8.2h-5.9zM1575.6 389.5h6.8v8.8h-6.8zM1261 385.2h7.7v7.4h-7.7zM1712.7 428.7h6.8v8.8h-6.8zM1718.5 569.6h9.7v8.2h-9.7zM1319.9 569.1h7.4v7.9h-7.4zM1503.5 569.6h6.8v8.2h-6.8z"/>
<path fill="#434343" d="M613.2 388.1h4.5v11.7h-4.5zM267.4 398.2h8.8v13.2h-8.8zM525.1 591.4h3.9v8.8h-3.9zM1204.8 388.1h7.4v11.7h-7.4zM776.8 569.1h6.8v8.8h-6.8zM1427.4 388.1h6.8v11.7h-6.8z"/>
<path fill="#4c4c4c" d="M623.8 380.5h4.1v13.7h-4.1zM211.3 451.7h7v10.8h-7zM535.2 454.6h4.1v12.2h-4.1zM213.3 466.3h7.9v13.7h-7.9zM357.4 483.7h4.1v12.2h-4.1zM130.8 499.7h7v10.8h-7zM901.7 409.6h8.5v12.2h-8.5zM1099.2 435.7h5v10.8h-5zM997.5 451.7h3.2v10.8h-3.2zM855.2 466.3h3.2v12.2h-3.2zM1195.1 466.3h4.1v13.7h-4.1zM815.9 477.9h4.1v13.7h-4.1zM1065.8 480.8h10.5v10.8h-10.5zM827.6 499.7h5.6v11.3h-5.6zM1012.1 499.7h5v10.8h-5zM1075.1 566.5h5.8v13.7h-5.8zM1675.4 479.3h5v12.2h-5zM1563 490.1h7v11.6h-7zM1430.8 591.8h4.7v11.6h-4.7zM1718.3 454.9h4.8v12.2h-4.8zM1788.7 444.7h3.4v10.8h-3.4zM1563 490.5h7.7v10.8h-7.7z"/>
<path fill="#4d4d4d" d="M442.3 382.2h8.3v10.3h-8.3zM232.6 501.4h3.9v7.4h-3.9zM613.2 501.4h3v7.4h-3zM541.1 501.4h3.9v7.4h-3.9zM250.6 569.6h6.8v10.3h-6.8zM642.8 593.5h2.7v8.2h-2.7zM658.8 593.5h2.5v8.2h-2.5zM742 385.2h5.9v16.1h-5.9zM1041.2 501.4h6.8v7.4h-6.8zM1083.3 515.9h5.4v8.8h-5.4zM957 569.6h3.9v8.8h-3.9zM1744.7 593.5h3.3v8.2h-3.3zM1298.7 462.4h5.4v11.7h-5.4zM1523.8 463.8h8.3v5.9h-8.3zM1522.4 463.8h9.7v5.9h-9.7zM1521.7 445h3.2v10.3h-3.2z"/>
<path fill="#4f4f4f" d="M496 488h7v13.7h-7zM597.7 591.8h5.6v11.6h-5.6zM685.7 591.8h5.3v11.6h-5.3zM975.7 408.1h7v10.8h-7zM886.3 533.7h6.4v16h-6.4zM1155.9 567.4h12.2v12.2h-12.2zM695.4 591.8h4.1v11.6h-4.1zM1723.7 591.8h3.5v11.6h-3.5zM1323.3 431.6h5.6v15.1h-5.6zM1483.7 466.5h12.1v10h-12.1zM1619.6 494.8h4.8v8.4h-4.8z"/>
<path fill="#505050" d="M1057.2 569.1h12.6v8.8h-12.6z"/>
<path fill="#525252" d="M266.5 437.2h5.6v10.8h-5.6zM451.8 442.4h4.7v11.3h-4.7zM462.6 442.4h15.7v12.8h-15.7zM161.9 450.3h5.6v12.2h-5.6zM285.3 451.7h7v12.2h-7zM331.8 450.3h7v10.8h-7zM567.7 451.7h5v10.8h-5zM122.1 465.7h4.7v11.3h-4.7zM478.5 464.8h4.1v12.2h-4.1zM305.7 459h9.9v10.8h-9.9zM367.3 475h5v11.6h-5zM488.7 489.5h5.6v12.2h-5.6zM464.9 514.2h7v12.2h-7zM336.2 567.9h9.9v12.2h-9.9zM946.1 408.1h6.1v12.2h-6.1zM1118.1 409.6h8.5v13.7h-8.5zM759.3 427h8.5v10.8h-8.5zM692.5 428.5h5.6v19.5h-5.6zM985.9 435.7h3.2v12.2h-3.2zM1057.1 436.6h4.7v10.5h-4.7zM1138.4 434.3h5.6v13.7h-5.6zM890 451.7h4.1v13.7h-4.1zM1086.7 476.4h4.1v15.1h-4.1zM1044 514.2h4.1v12.2h-4.1zM1070.2 514.2h4.1v12.2h-4.1zM976.3 533.7h7v16h-7zM826.1 566.5h5.6v13.7h-5.6zM1351.8 398h5.3v16h-5.3zM1456.4 398h4.7v15.1h-4.7zM1584.8 398h4.1v16h-4.1zM1484.6 489.5h4.1v12.2h-4.1zM1738.8 490.1h7v11.6h-7zM1445.3 444.7h5.6v16.6h-5.6zM1503.3 444.7h9.9v12.2h-9.9zM1311.7 489.7h5.6v12.2h-5.6zM1484.5 489.7h5.6v13.5h-5.6zM1578.9 452h8.5v15.1h-8.5zM1621 447.6h9.9v15.1h-9.9zM1668.2 465h4.8v11.5h-4.8zM1715.4 441.8h8.5v15.1h-8.5zM1737.9 490.5h8.5v10.8h-8.5zM1606.5 494.1h7v9.2h-7z"/>
<path fill="#545454" d="M1060 514.2h5.6v12.2h-5.6zM685.8 591.8h5.8v12.2h-5.8zM1312.3 490.1h5v11.6h-5zM1776.5 504.6h11.4v12.2h-11.4zM1656 514.2h7.9v11.3h-7.9zM1366.8 437.5h7v16.6h-7zM1398.8 441.8h5.6v12.2h-5.6zM1503.3 466.5h9.2v10h-9.2zM1786.6 450.5h5.6v12.2h-5.6zM1523.8 475.9h10.6v15.1h-10.6z"/>
<path fill="#565656" d="M302.9 388.1h8.3v13.2h-8.3zM482.4 389.5h7.4v11.7h-7.4zM466.1 383.7h3.9v8.8h-3.9zM218.6 501.4h5.4v7.4h-5.4zM385.7 506.3h5.4v7.6h-5.4zM353.7 569.6h4.8v8.8h-4.8zM175.6 568.2h2.7v8.8h-2.7zM733.2 479.6h5.4v10.3h-5.4zM719.6 515.9h3.9v8.8h-3.9zM942.4 569.1h5.4v9.4h-5.4zM995.6 569.1h5.9v9.4h-5.9zM1147.8 593.5h5.6v8.2h-5.6zM1674.9 479.8h5.4v8.8h-5.4z"/>
<path fill="#575757" d="M148.2 386.4h14.9v18h-14.9zM175.5 386.4h10.8v18h-10.8zM432.6 398h7.9v15.1h-7.9zM193.8 435.7h7v11.3h-7zM323.1 437.2h12.8v10.8h-12.8zM632.5 435.7h5.6v10.8h-5.6zM676.1 435.7h5.6v12.2h-5.6zM692.1 434.3h7v12.2h-7zM328.9 441.6h12.8v13.7h-12.8zM522.1 443h7v12.2h-7zM299.9 451.7h14.3v10.8h-14.3zM634 456.1h7v10.8h-7zM225.8 465.7h7v11.3h-7zM459.7 465.7h8.5v11.3h-8.5zM341.1 475h8.8v11.6h-8.8zM513.4 480.8h5.6v11.6h-5.6zM403.9 489.5h4.7v12.2h-4.7zM652.9 489.5h3.2v12.2h-3.2zM279.5 514.2h3.5v13.1h-3.5zM288.2 514.2h4.1v12.2h-4.1zM307.1 514.2h5v13.1h-5zM326.6 514.2h5v13.1h-5zM1007.7 427h14.3v10.8h-14.3zM731.7 437.2h7v18h-7zM829 441.6h5v12.2h-5zM1113.7 441.6h5.6v12.2h-5.6zM1183.5 451.7h4.1v12.2h-4.1zM739 464.8h4.1v15.1h-4.1zM821.8 463.3h3.5v15.1h-3.5zM910.4 464.8h4.1v12.2h-4.1zM925.8 465.7h4.1v11.3h-4.1zM1189.3 489.5h4.1v12.2h-4.1zM1206.7 489.5h2.7v12.8h-2.7zM1235.8 490.1h11.4v11h-11.4zM1321.9 432.8h7v15.1h-7zM1314.6 504.6h10.5v12.2h-10.5zM1379.9 438.9h7v16.6h-7zM1301.5 453.4h7v12.2h-7zM1459.8 457.8h8.5v10h-8.5zM1429.3 452h4.8v15.1h-4.8zM1523.7 475.9h10.6v15.1h-10.6zM1637 425.8h2.7v12.2h-2.7z"/>
<path fill="#595959" d="M121.2 386.4h9.9v18h-9.9zM313.5 386.4h4.4v18h-4.4zM492.2 386.4h15.7v18h-15.7zM549.1 386.4h15.7v18h-15.7zM573.5 384.9h9.9v19.5h-9.9zM206.9 436.6h8.5v11.3h-8.5zM615.1 451.7h5.6v12.2h-5.6zM301.3 465.7h15.7v11.3h-15.7zM493.1 480.8h9.9v12.2h-9.9zM299.3 514.2h4.7v13.1h-4.7zM333.3 514.2h9v13.1h-9zM454.4 591.2h5v12.8h-5zM466 591.2h5.8v12.8h-5.8zM920.5 427h10.5v11.3h-10.5zM1037.3 441.6h5v15.1h-5zM868.2 451.7h8.5v10.8h-8.5zM894.4 464.8h4.7v12.2h-4.7zM936.5 465.7h5v11.3h-5zM1137 465.7h5.6v11.3h-5.6zM1218.3 490.1h9.9v11.6h-9.9zM1523.8 475.6h10.5v16h-10.5zM1735.9 475.6h4.7v16h-4.7zM1332.6 504.6h6.4v12.2h-6.4zM1726.6 504.6h4.7v12.2h-4.7zM1504.8 426.6h11.4v12.9h-11.4zM1547.7 441.8h6.3v16.6h-6.3z"/>
<path fill="#5c5c5c" d="M204 427h7v13.7h-7zM346.3 435.7h7v13.7h-7zM578.8 441.6h5.6v15.1h-5.6zM652.9 441.6h9.9v13.7h-9.9zM193 451.7h6.4v13.7h-6.4zM667.4 454.6h5.6v12.2h-5.6zM355.6 489.5h7.9v12.8h-7.9zM631.6 489.5h15.7v12.8h-15.7zM590.4 498.8h8.5v12.2h-8.5zM344.9 504h9.9v12.8h-9.9zM261.5 514.2h9v13.1h-9zM967 386.4h6.4v18h-6.4zM1232.9 398h7v16.6h-7zM1244.5 396.5h10.8v18h-10.8zM1186.4 427h6.1v13.7h-6.1zM1234.9 442.4h5v12.8h-5zM1245.9 435.7h7v11.3h-7zM736.1 454.6h6.1v12.8h-6.1zM770.9 454.6h10.8v12.8h-10.8zM820.3 451.7h5.6v12.2h-5.6zM847.9 453.2h4.7v15.1h-4.7zM1157.3 465.7h7v14.2h-7zM1214 479.3h7v13.1h-7zM866.8 489.5h5v12.2h-5zM1116.6 489.5h7v12.2h-7zM1171.8 489.5h7v12.2h-7zM731.7 498.8h5.6v12.2h-5.6zM748.5 499.7h7v11.3h-7zM770 499.7h8.8v11.3h-8.8zM1504.9 427h11.4v12.2h-11.4zM1545.6 427h5.6v15.1h-5.6zM1608.6 427h13.7v11.3h-13.7zM1641.4 465.7h7v12.8h-7zM1407 490.1h8.2v11.6h-8.2zM1470.9 495.9h4.7v15.1h-4.7zM1620.2 495.9h4.1v15.1h-4.1zM1456.9 434.6h7v16.6h-7zM1494.6 446.2h8.5v19.5h-8.5zM1548.4 443.3h5.6v18h-5.6zM1348.8 460.7h2.4v13.7h-2.4zM1608.7 426.6h13.5v12.2h-13.5zM1538.3 452h13.5v15.1h-13.5zM1602.2 446.9h8.5v15.8h-8.5zM1734.3 441.8h7.7v15.8h-7.7zM1777.9 457.8h5.6v14.4h-5.6z"/>
<path fill="#5e5e5e" d="M432.6 442.4h7.9v12.8h-7.9zM664.5 441.6h7v13.7h-7zM680.5 440.1h9.9v16.6h-9.9zM306.3 589.7h8.8v15.1h-8.8zM839.8 386.4h8.8v18h-8.8zM946.7 386.4h9.9v18h-9.9zM1033.8 426.2h8.5v13.1h-8.5zM795.6 441.6h5.6v15.1h-5.6zM962.7 432.8h8.5v15.1h-8.5zM1070.2 437.2h9.9v19.5h-9.9zM832.8 454.6h7v12.8h-7zM753.5 504h9.9v12.2h-9.9zM1032.4 533.1h7v17.4h-7zM1575.5 427h7v13.7h-7zM1453.5 495.9h10.5v15.1h-10.5zM1605.7 495.9h8.8v15.1h-8.8zM1705.4 504.6h12.8v12.2h-12.8zM1327.6 438.9h9.9v25.3h-9.9zM1351.6 436h5.6v18h-5.6zM1478.7 440.4h8.5v16.6h-8.5zM1545.4 427.3h5.6v13.7h-5.6zM1285.5 453.4h9.9v13.7h-9.9zM1372.1 460.7h2.4v15.1h-2.4zM1430.9 460.7h2.4v14.4h-2.4zM1406.8 490.5h8.5v12.8h-8.5zM1545.5 426.6h6.3v14.4h-6.3zM1575.3 425.8h7v15.8h-7zM1567.3 441.8h11.4v15.8h-11.4zM1585.5 441.8h3.1v13.7h-3.1zM1745.2 450.5h5.6v16.6h-5.6zM1735 475.2h6.3v16.6h-6.3z"/>
<path fill="#616161" d="M594.8 426.2h7.9v14h-7.9zM611.3 427h7v13.7h-7zM392.8 432.8h9.9v15.1h-9.9zM267.3 441.6h14.9v13.7h-14.9zM412.6 441.6h4.1v15.1h-4.1zM522.1 450.3h7.9v15.1h-7.9zM389.9 488.9h6.4v12.8h-6.4zM509.6 495.3h4.7v15.7h-4.7zM536.1 557.8h6.1v18h-6.1zM694.4 559.2h6.1v16.6h-6.1zM741.9 424.1h6.1v18h-6.1zM1198 425.6h5.6v12.8h-5.6zM680.9 437.2h7v19.5h-7zM797.1 450.3h5v15.1h-5zM813.6 457.5h12.2v13.7h-12.2zM944.4 451.7h7.9v15.1h-7.9zM1427.3 425.6h7v16.6h-7zM1619.7 465.7h11.4v12.8h-11.4zM1477.9 475h7.9v17.4h-7.9zM1355.2 447.6h9.9v19.5h-9.9zM1410.4 433.1h11.4v34h-11.4zM1427.8 426.6h6.3v14.4h-6.3zM1483 450.5h5.6v15.1h-5.6zM1538.2 454.9h14.3v12.2h-14.3zM1336.5 460.7h2.4v15.1h-2.4zM1361.2 460.7h2.4v15.1h-2.4zM1384.4 460.7h2.4v15.1h-2.4zM1395.3 460.7h2.4v13.7h-2.4zM1408.4 460.7h2.4v15.1h-2.4zM1419.3 460.7h2.4v15.1h-2.4zM1477.9 477.4h8.5v14.4h-8.5zM1565.1 453.4h2.7v13.7h-2.7zM1698 458.5h7.7v13.7h-7.7zM1709.3 459.2h2.4v12.9h-2.4zM1755.4 459.2h6.3v12.9h-6.3z"/>
<path fill="#636363" d="M173.5 425.6h12.8v15.7h-12.8zM302.8 425.6h14.3v16.6h-14.3zM482.3 425.6h9v16.6h-9zM373.9 432.8h9.9v15.1h-9.9zM159.8 441.6h5.3v15.1h-5.3zM287.7 441.6h8.2v15.1h-8.2zM177.3 495.3h5.3v15.7h-5.3zM530.8 557.8h5v18h-5zM853.1 426.2h9.9v15.1h-9.9zM967 425.6h6.4v16.6h-6.4zM1173.3 424.1h7v15.1h-7zM1203.8 427h9v14.2h-9zM860.1 451.7h8.8v14.5h-8.8zM901.7 451.7h7.9v14.5h-7.9zM1118.7 451.7h7.9v14.5h-7.9zM694.5 557.8h7.9v18h-7.9zM1460.4 532.5h7v18.6h-7zM1355.2 454.2h9.9v13.7h-9.9zM1397.3 453.4h4.1v13.7h-4.1zM1728.5 446.2h7v20.9h-7z"/>
<path fill="#666666" d="M122.1 427h9v15.1h-9zM148.2 425.6h14.9v17.4h-14.9zM492.2 426.2h15.7v16h-15.7zM549.1 426.2h15.7v16h-15.7zM573.5 425.6h10.8v16.6h-10.8zM373.9 441.6h9.9v15.1h-9.9zM392.8 441.6h8.5v15.1h-8.5zM157.5 493.9h7.6v18h-7.6zM182.2 494.7h10.8v17.1h-10.8zM199.1 494.7h5.3v17.1h-5.3zM446.6 531.6h7.9v19.5h-7.9zM584 532.5h13.4v18.6h-13.4zM509.6 557.8h11.7v18h-11.7zM839.8 427h8.8v16h-8.8zM946.7 426.2h10.5v16h-10.5zM958.3 438.7h8.5v18h-8.5zM975.7 441.6h7v16.6h-7zM1256.1 441.6h24.4v16.6h-24.4zM802.9 451.7h9v16.6h-9zM1144.8 451.7h13.7v16.6h-13.7zM1531 425.6h8.5v22.4h-8.5zM1259.4 441.8h21.5v16.6h-21.5zM1284.1 441.1h30.2v18h-30.2zM1460.5 440.4h11.4v23.1h-11.4zM1530.9 428h8.5v19.5h-8.5zM1366.8 452.7h11.4v15.1h-11.4zM1379.2 452.7h14.3v14.4h-14.3zM1410.4 456.3h11.4v11.5h-11.4zM1531 426.6h8.5v20.9h-8.5zM1639.9 441.8h9.2v26.7h-9.2zM1642.1 465h6.3v12.2h-6.3zM1621 465.8h10.6v12.2h-10.6zM1661 452h9.9v15.1h-9.9zM1761.2 441.8h10.6v15.8h-10.6z"/>
</g>
<g filter="url(#b2)">
<path fill="#404040" d="M703.2 455.5h10.2v2.9h-10.2zM752.1 455.5h7.8v2.9h-7.8z"/>
<path fill="#4c4c4c" d="M442.8 429.4h34.9v2.3h-34.9zM853.7 389.6h7.8v8.7h-7.8zM1002.5 386.7h4.4v4.4h-4.4zM1226.2 446.2h2.9v4.4h-2.9zM1164.6 595h4.9v5.2h-4.9zM1576.1 391h5.8v5.8h-5.8zM1261.5 386.7h6.7v4.4h-6.7zM1713.2 430.2h5.8v5.8h-5.8zM1719 571.1h8.7v5.2h-8.7zM1320.4 570.6h6.4v4.9h-6.4zM1504 571.1h5.8v5.2h-5.8z"/>
<path fill="#595959" d="M613.7 389.6h3.5v8.7h-3.5zM267.9 399.7h7.8v10.2h-7.8zM525.6 592.9h2.9v5.8h-2.9zM1205.3 389.6h6.4v8.7h-6.4zM777.3 570.6h5.8v5.8h-5.8zM1427.9 389.6h5.8v8.7h-5.8z"/>
<path fill="#5c5c5c" d="M624.2 382.9h3.3v8.9h-3.3zM211.7 454.1h6.2v6h-6.2zM535.6 457h3.3v7.4h-3.3zM213.7 468.7h7.1v8.9h-7.1zM357.8 486.1h3.3v7.4h-3.3zM131.2 502.1h6.2v6h-6.2zM902.1 412h7.7v7.4h-7.7zM1099.6 438.1h4.2v6h-4.2zM997.9 454.1h2.4v6h-2.4zM855.6 468.7h2.4v7.4h-2.4zM1195.5 468.7h3.3v8.9h-3.3zM816.3 480.3h3.3v8.9h-3.3zM1066.2 483.2h9.7v6h-9.7zM828 502.1h4.8v6.5h-4.8zM1012.5 502.1h4.2v6h-4.2zM1075.5 568.9h5v8.9h-5zM1675.8 481.7h4.2v7.4h-4.2zM1563.4 492.5h6.2v6.8h-6.2zM1431.2 594.2h3.9v6.8h-3.9zM1718.7 457.3h4v7.4h-4zM1789.1 447.1h2.6v6h-2.6zM1563.4 492.9h6.9v6h-6.9z"/>
<path fill="#656565" d="M496.4 490.4h6.2v8.9h-6.2zM598.1 594.2h4.8v6.8h-4.8zM686.1 594.2h4.5v6.8h-4.5zM976.1 410.5h6.2v6h-6.2zM886.7 536.1h5.6v11.2h-5.6zM1156.3 569.8h11.4v7.4h-11.4zM695.8 594.2h3.3v6.8h-3.3zM1724.1 594.2h2.7v6.8h-2.7zM1323.7 434h4.8v10.3h-4.8zM1484.1 468.9h11.3v5.2h-11.3zM1620 497.2h4v3.6h-4z"/>
<path fill="#666666" d="M442.8 383.7h7.3v7.3h-7.3zM233.1 502.9h2.9v4.4h-2.9zM613.7 502.9h2v4.4h-2zM541.6 502.9h2.9v4.4h-2.9zM251.1 571.1h5.8v7.3h-5.8zM643.3 595h1.7v5.2h-1.7zM659.3 595h1.5v5.2h-1.5zM742.5 386.7h4.9v13.1h-4.9zM1041.7 502.9h5.8v4.4h-5.8zM1083.8 517.4h4.4v5.8h-4.4zM957.5 571.1h2.9v5.8h-2.9zM1745.2 595h2.3v5.2h-2.3zM1299.2 463.9h4.4v8.7h-4.4zM1524.3 465.3h7.3v2.9h-7.3zM1522.9 465.3h8.7v2.9h-8.7zM1522.2 446.5h2.2v7.3h-2.2z"/>
<path fill="#6b6b6b" d="M1057.7 570.6h11.6v5.8h-11.6z"/>
<path fill="#6e6e6e" d="M266.9 439.6h4.8v6h-4.8zM452.2 444.8h3.9v6.5h-3.9zM463 444.8h14.9v8h-14.9zM162.3 452.7h4.8v7.4h-4.8zM285.7 454.1h6.2v7.4h-6.2zM332.2 452.7h6.2v6h-6.2zM568.1 454.1h4.2v6h-4.2zM122.5 468.1h3.9v6.5h-3.9zM478.9 467.2h3.3v7.4h-3.3zM306.1 461.4h9.1v6h-9.1zM367.7 477.4h4.2v6.8h-4.2zM489.1 491.9h4.8v7.4h-4.8zM465.3 516.6h6.2v7.4h-6.2zM336.6 570.3h9.1v7.4h-9.1zM946.5 410.5h5.3v7.4h-5.3zM1118.5 412h7.7v8.9h-7.7zM759.7 429.4h7.7v6h-7.7zM692.9 430.9h4.8v14.7h-4.8zM986.3 438.1h2.4v7.4h-2.4zM1057.5 439h3.9v5.7h-3.9zM1138.8 436.7h4.8v8.9h-4.8zM890.4 454.1h3.3v8.9h-3.3zM1087.1 478.8h3.3v10.3h-3.3zM1044.4 516.6h3.3v7.4h-3.3zM1070.6 516.6h3.3v7.4h-3.3zM976.7 536.1h6.2v11.2h-6.2zM826.5 568.9h4.8v8.9h-4.8zM1352.2 400.4h4.5v11.2h-4.5zM1456.8 400.4h3.9v10.3h-3.9zM1585.2 400.4h3.3v11.2h-3.3zM1485 491.9h3.3v7.4h-3.3zM1739.2 492.5h6.2v6.8h-6.2zM1445.7 447.1h4.8v11.8h-4.8zM1503.7 447.1h9.1v7.4h-9.1zM1312.1 492.1h4.8v7.4h-4.8zM1484.9 492.1h4.8v8.7h-4.8zM1579.3 454.4h7.7v10.3h-7.7zM1621.4 450h9.1v10.3h-9.1zM1668.6 467.4h4v6.7h-4zM1715.8 444.2h7.7v10.3h-7.7zM1738.3 492.9h7.7v6h-7.7zM1606.9 496.5h6.2v4.4h-6.2z"/>
<path fill="#737373" d="M303.4 389.6h7.3v10.2h-7.3zM482.9 391h6.4v8.7h-6.4zM466.6 385.2h2.9v5.8h-2.9zM219.1 502.9h4.4v4.4h-4.4zM386.2 507.8h4.4v4.6h-4.4zM354.2 571.1h3.8v5.8h-3.8zM176.1 569.7h1.7v5.8h-1.7zM733.7 481.1h4.4v7.3h-4.4zM720.1 517.4h2.9v5.8h-2.9zM942.9 570.6h4.4v6.4h-4.4zM996.1 570.6h4.9v6.4h-4.9zM1148.3 595h4.6v5.2h-4.6zM1675.4 481.3h4.4v5.8h-4.4z"/>
<path fill="#777777" d="M1060.4 516.6h4.8v7.4h-4.8zM686.2 594.2h5v7.4h-5zM1312.7 492.5h4.2v6.8h-4.2zM1776.9 507h10.6v7.4h-10.6zM1656.4 516.6h7.1v6.5h-7.1zM1367.2 439.9h6.2v11.8h-6.2zM1399.2 444.2h4.8v7.4h-4.8zM1503.7 468.9h8.4v5.2h-8.4zM1787 452.9h4.8v7.4h-4.8zM1524.2 478.3h9.8v10.3h-9.8z"/>
<path fill="#818181" d="M148.6 388.8h14.1v13.2h-14.1zM175.9 388.8h10v13.2h-10zM433 400.4h7.1v10.3h-7.1zM194.2 438.1h6.2v6.5h-6.2zM323.5 439.6h12v6h-12zM632.9 438.1h4.8v6h-4.8zM676.5 438.1h4.8v7.4h-4.8zM692.5 436.7h6.2v7.4h-6.2zM329.3 444h12v8.9h-12zM522.5 445.4h6.2v7.4h-6.2zM300.3 454.1h13.5v6h-13.5zM634.4 458.5h6.2v6h-6.2zM226.2 468.1h6.2v6.5h-6.2zM460.1 468.1h7.7v6.5h-7.7zM341.5 477.4h8v6.8h-8zM513.8 483.2h4.8v6.8h-4.8zM404.3 491.9h3.9v7.4h-3.9zM653.3 491.9h2.4v7.4h-2.4zM279.9 516.6h2.7v8.3h-2.7zM288.6 516.6h3.3v7.4h-3.3zM307.5 516.6h4.2v8.3h-4.2zM327 516.6h4.2v8.3h-4.2zM1008.1 429.4h13.5v6h-13.5zM732.1 439.6h6.2v13.2h-6.2zM829.4 444h4.2v7.4h-4.2zM1114.1 444h4.8v7.4h-4.8zM1183.9 454.1h3.3v7.4h-3.3zM739.4 467.2h3.3v10.3h-3.3zM822.2 465.7h2.7v10.3h-2.7zM910.8 467.2h3.3v7.4h-3.3zM926.2 468.1h3.3v6.5h-3.3zM1189.7 491.9h3.3v7.4h-3.3zM1207.1 491.9h1.9v8h-1.9zM1236.2 492.5h10.6v6.2h-10.6zM1322.3 435.2h6.2v10.3h-6.2zM1315 507h9.7v7.4h-9.7zM1380.3 441.3h6.2v11.8h-6.2zM1301.9 455.8h6.2v7.4h-6.2zM1460.2 460.2h7.7v5.2h-7.7zM1429.7 454.4h4v10.3h-4zM1524.1 478.3h9.8v10.3h-9.8zM1637.4 428.2h1.9v7.4h-1.9z"/>
<path fill="#8a8a8a" d="M121.6 388.8h9.1v13.2h-9.1zM313.9 388.8h3.6v13.2h-3.6zM492.6 388.8h14.9v13.2h-14.9zM549.5 388.8h14.9v13.2h-14.9zM573.9 387.3h9.1v14.7h-9.1zM207.3 439h7.7v6.5h-7.7zM615.5 454.1h4.8v7.4h-4.8zM301.7 468.1h14.9v6.5h-14.9zM493.5 483.2h9.1v7.4h-9.1zM299.7 516.6h3.9v8.3h-3.9zM333.7 516.6h8.2v8.3h-8.2zM454.8 593.6h4.2v8h-4.2zM466.4 593.6h5v8h-5zM920.9 429.4h9.7v6.5h-9.7zM1037.7 444h4.2v10.3h-4.2zM868.6 454.1h7.7v6h-7.7zM894.8 467.2h3.9v7.4h-3.9zM936.9 468.1h4.2v6.5h-4.2zM1137.4 468.1h4.8v6.5h-4.8zM1218.7 492.5h9.1v6.8h-9.1zM1524.2 478h9.7v11.2h-9.7zM1736.3 478h3.9v11.2h-3.9zM1333 507h5.6v7.4h-5.6zM1727 507h3.9v7.4h-3.9zM1505.2 429h10.6v8.1h-10.6zM1548.1 444.2h5.5v11.8h-5.5z"/>
<path fill="#939393" d="M204.4 429.4h6.2v8.9h-6.2zM346.7 438.1h6.2v8.9h-6.2zM579.2 444h4.8v10.3h-4.8zM653.3 444h9.1v8.9h-9.1zM193.4 454.1h5.6v8.9h-5.6zM667.8 457h4.8v7.4h-4.8zM356 491.9h7.1v8h-7.1zM632 491.9h14.9v8h-14.9zM590.8 501.2h7.7v7.4h-7.7zM345.3 506.4h9.1v8h-9.1zM261.9 516.6h8.2v8.3h-8.2zM967.4 388.8h5.6v13.2h-5.6zM1233.3 400.4h6.2v11.8h-6.2zM1244.9 398.9h10v13.2h-10zM1186.8 429.4h5.3v8.9h-5.3zM1235.3 444.8h4.2v8h-4.2zM1246.3 438.1h6.2v6.5h-6.2zM736.5 457h5.3v8h-5.3zM771.3 457h10v8h-10zM820.7 454.1h4.8v7.4h-4.8zM848.3 455.6h3.9v10.3h-3.9zM1157.7 468.1h6.2v9.4h-6.2zM1214.4 481.7h6.2v8.3h-6.2zM867.2 491.9h4.2v7.4h-4.2zM1117 491.9h6.2v7.4h-6.2zM1172.2 491.9h6.2v7.4h-6.2zM732.1 501.2h4.8v7.4h-4.8zM748.9 502.1h6.2v6.5h-6.2zM770.4 502.1h8v6.5h-8zM1505.3 429.4h10.6v7.4h-10.6zM1546 429.4h4.8v10.3h-4.8zM1609 429.4h12.9v6.5h-12.9zM1641.8 468.1h6.2v8h-6.2zM1407.4 492.5h7.4v6.8h-7.4zM1471.3 498.3h3.9v10.3h-3.9zM1620.6 498.3h3.3v10.3h-3.3zM1457.3 437h6.2v11.8h-6.2zM1495 448.6h7.7v14.7h-7.7zM1548.8 445.7h4.8v13.2h-4.8zM1349.2 463.1h1.6v8.9h-1.6zM1609.1 429h12.7v7.4h-12.7zM1538.7 454.4h12.7v10.3h-12.7zM1602.6 449.3h7.7v11h-7.7zM1734.7 444.2h6.9v11h-6.9zM1778.3 460.2h4.8v9.6h-4.8z"/>
<path fill="#9c9c9c" d="M433 444.8h7.1v8h-7.1zM664.9 444h6.2v8.9h-6.2zM680.9 442.5h9.1v11.8h-9.1zM306.7 592.1h8v10.3h-8zM840.2 388.8h8v13.2h-8zM947.1 388.8h9.1v13.2h-9.1zM1034.2 428.6h7.7v8.3h-7.7zM796 444h4.8v10.3h-4.8zM963.1 435.2h7.7v10.3h-7.7zM1070.6 439.6h9.1v14.7h-9.1zM833.2 457h6.2v8h-6.2zM753.9 506.4h9.1v7.4h-9.1zM1032.8 535.5h6.2v12.6h-6.2zM1575.9 429.4h6.2v8.9h-6.2zM1453.9 498.3h9.7v10.3h-9.7zM1606.1 498.3h8v10.3h-8zM1705.8 507h12v7.4h-12zM1328 441.3h9.1v20.5h-9.1zM1352 438.4h4.8v13.2h-4.8zM1479.1 442.8h7.7v11.8h-7.7zM1545.8 429.7h4.8v8.9h-4.8zM1285.9 455.8h9.1v8.9h-9.1zM1372.5 463.1h1.6v10.3h-1.6zM1431.3 463.1h1.6v9.6h-1.6zM1407.2 492.9h7.7v8h-7.7zM1545.9 429h5.5v9.6h-5.5zM1575.7 428.2h6.2v11h-6.2zM1567.7 444.2h10.6v11h-10.6zM1585.9 444.2h2.3v8.9h-2.3zM1745.6 452.9h4.8v11.8h-4.8zM1735.4 477.6h5.5v11.8h-5.5z"/>
<path fill="#a5a5a5" d="M595.2 428.6h7.1v9.2h-7.1zM611.7 429.4h6.2v8.9h-6.2zM393.2 435.2h9.1v10.3h-9.1zM267.7 444h14.1v8.9h-14.1zM413 444h3.3v10.3h-3.3zM522.5 452.7h7.1v10.3h-7.1zM390.3 491.3h5.6v8h-5.6zM510 497.7h3.9v10.9h-3.9zM536.5 560.2h5.3v13.2h-5.3zM694.8 561.6h5.3v11.8h-5.3zM742.3 426.5h5.3v13.2h-5.3zM1198.4 428h4.8v8h-4.8zM681.3 439.6h6.2v14.7h-6.2zM797.5 452.7h4.2v10.3h-4.2zM814 459.9h11.4v8.9h-11.4zM944.8 454.1h7.1v10.3h-7.1zM1427.7 428h6.2v11.8h-6.2zM1620.1 468.1h10.6v8h-10.6zM1478.3 477.4h7.1v12.6h-7.1zM1355.6 450h9.1v14.7h-9.1zM1410.8 435.5h10.6v29.2h-10.6zM1428.2 429h5.5v9.6h-5.5zM1483.4 452.9h4.8v10.3h-4.8zM1538.6 457.3h13.5v7.4h-13.5zM1336.9 463.1h1.6v10.3h-1.6zM1361.6 463.1h1.6v10.3h-1.6zM1384.8 463.1h1.6v10.3h-1.6zM1395.7 463.1h1.6v8.9h-1.6zM1408.8 463.1h1.6v10.3h-1.6zM1419.7 463.1h1.6v10.3h-1.6zM1478.3 479.8h7.7v9.6h-7.7zM1565.5 455.8h1.9v8.9h-1.9zM1698.4 460.9h6.9v8.9h-6.9zM1709.7 461.6h1.6v8.1h-1.6zM1755.8 461.6h5.5v8.1h-5.5z"/>
<path fill="#aeaeae" d="M173.9 428h12v10.9h-12zM303.2 428h13.5v11.8h-13.5zM482.7 428h8.2v11.8h-8.2zM374.3 435.2h9.1v10.3h-9.1zM160.2 444h4.5v10.3h-4.5zM288.1 444h7.4v10.3h-7.4zM177.7 497.7h4.5v10.9h-4.5zM531.2 560.2h4.2v13.2h-4.2zM853.5 428.6h9.1v10.3h-9.1zM967.4 428h5.6v11.8h-5.6zM1173.7 426.5h6.2v10.3h-6.2zM1204.2 429.4h8.2v9.4h-8.2zM860.5 454.1h8v9.7h-8zM902.1 454.1h7.1v9.7h-7.1zM1119.1 454.1h7.1v9.7h-7.1zM694.9 560.2h7.1v13.2h-7.1zM1460.8 534.9h6.2v13.8h-6.2zM1355.6 456.6h9.1v8.9h-9.1zM1397.7 455.8h3.3v8.9h-3.3zM1728.9 448.6h6.2v16.1h-6.2z"/>
<path fill="#b8b8b8" d="M122.5 429.4h8.2v10.3h-8.2zM148.6 428h14.1v12.6h-14.1zM492.6 428.6h14.9v11.2h-14.9zM549.5 428.6h14.9v11.2h-14.9zM573.9 428h10v11.8h-10zM374.3 444h9.1v10.3h-9.1zM393.2 444h7.7v10.3h-7.7zM157.9 496.3h6.8v13.2h-6.8zM182.6 497.1h10v12.3h-10zM199.5 497.1h4.5v12.3h-4.5zM447 534h7.1v14.7h-7.1zM584.4 534.9h12.6v13.8h-12.6zM510 560.2h10.9v13.2h-10.9zM840.2 429.4h8v11.2h-8zM947.1 428.6h9.7v11.2h-9.7zM958.7 441.1h7.7v13.2h-7.7zM976.1 444h6.2v11.8h-6.2zM1256.5 444h23.6v11.8h-23.6zM803.3 454.1h8.2v11.8h-8.2zM1145.2 454.1h12.9v11.8h-12.9zM1531.4 428h7.7v17.6h-7.7zM1259.8 444.2h20.7v11.8h-20.7zM1284.5 443.5h29.4v13.2h-29.4zM1460.9 442.8h10.6v18.3h-10.6zM1531.3 430.4h7.7v14.7h-7.7zM1367.2 455.1h10.6v10.3h-10.6zM1379.6 455.1h13.5v9.6h-13.5zM1410.8 458.7h10.6v6.7h-10.6zM1531.4 429h7.7v16.1h-7.7zM1640.3 444.2h8.4v21.9h-8.4zM1642.5 467.4h5.5v7.4h-5.5zM1621.4 468.2h9.8v7.4h-9.8zM1661.4 454.4h9.1v10.3h-9.1zM1761.6 444.2h9.8v11h-9.8z"/>
</g>
<g filter="url(#b7)">
<path fill="#878787" d="M624.6 384.6h2.5v5.5h-2.5zM212.1 455.8h5.4v2.6h-5.4zM536 458.7h2.5v4h-2.5zM214.1 470.4h6.3v5.5h-6.3zM358.2 487.8h2.5v4h-2.5zM131.6 503.8h5.4v2.6h-5.4zM902.5 413.7h6.9v4h-6.9zM1100 439.8h3.4v2.6h-3.4zM998.3 455.8h1.6v2.6h-1.6zM856 470.4h1.6v4h-1.6zM1195.9 470.4h2.5v5.5h-2.5zM816.7 482h2.5v5.5h-2.5zM1066.6 484.9h8.9v2.6h-8.9zM828.4 503.8h4v3.1h-4zM1012.9 503.8h3.4v2.6h-3.4zM1075.9 570.6h4.2v5.5h-4.2zM1676.2 483.4h3.4v4h-3.4zM1563.8 494.2h5.4v3.4h-5.4zM1431.6 595.9h3.1v3.4h-3.1zM1719.1 459h3.2v4h-3.2zM1789.5 448.8h1.8v2.6h-1.8zM1563.8 494.6h6.1v2.6h-6.1z"/>
<path fill="#949494" d="M496.8 492.1h5.4v5.5h-5.4zM598.5 595.9h4v3.4h-4zM686.5 595.9h3.7v3.4h-3.7zM976.5 412.2h5.4v2.6h-5.4zM887.1 537.8h4.8v7.8h-4.8zM1156.7 571.5h10.6v4h-10.6zM696.2 595.9h2.5v3.4h-2.5zM1724.5 595.9h1.9v3.4h-1.9zM1324.1 435.7h4v6.9h-4zM1484.5 470.6h10.5v1.8h-10.5zM1620.4 498.9h3.2v0.2h-3.2z"/>
<path fill="#a1a1a1" d="M267.3 441.3h4v2.6h-4zM452.6 446.5h3.1v3.1h-3.1zM463.4 446.5h14.1v4.6h-14.1zM162.7 454.4h4v4h-4zM286.1 455.8h5.4v4h-5.4zM332.6 454.4h5.4v2.6h-5.4zM568.5 455.8h3.4v2.6h-3.4zM122.9 469.8h3.1v3.1h-3.1zM479.3 468.9h2.5v4h-2.5zM306.5 463.1h8.3v2.6h-8.3zM368.1 479.1h3.4v3.4h-3.4zM489.5 493.6h4v4h-4zM465.7 518.3h5.4v4h-5.4zM337 572h8.3v4h-8.3zM946.9 412.2h4.5v4h-4.5zM1118.9 413.7h6.9v5.5h-6.9zM760.1 431.1h6.9v2.6h-6.9zM693.3 432.6h4v11.3h-4zM986.7 439.8h1.6v4h-1.6zM1057.9 440.7h3.1v2.3h-3.1zM1139.2 438.4h4v5.5h-4zM890.8 455.8h2.5v5.5h-2.5zM1087.5 480.5h2.5v6.9h-2.5zM1044.8 518.3h2.5v4h-2.5zM1071 518.3h2.5v4h-2.5zM977.1 537.8h5.4v7.8h-5.4zM826.9 570.6h4v5.5h-4zM1352.6 402.1h3.7v7.8h-3.7zM1457.2 402.1h3.1v6.9h-3.1zM1585.6 402.1h2.5v7.8h-2.5zM1485.4 493.6h2.5v4h-2.5zM1739.6 494.2h5.4v3.4h-5.4zM1446.1 448.8h4v8.4h-4zM1504.1 448.8h8.3v4h-8.3zM1312.5 493.8h4v4h-4zM1485.3 493.8h4v5.3h-4zM1579.7 456.1h6.9v6.9h-6.9zM1621.8 451.7h8.3v6.9h-8.3zM1669 469.1h3.2v3.3h-3.2zM1716.2 445.9h6.9v6.9h-6.9zM1738.7 494.6h6.9v2.6h-6.9zM1607.3 498.2h5.4v1h-5.4z"/>
<path fill="#adadad" d="M1060.8 518.3h4v4h-4zM686.6 595.9h4.2v4h-4.2zM1313.1 494.2h3.4v3.4h-3.4zM1777.3 508.7h9.8v4h-9.8zM1656.8 518.3h6.3v3.1h-6.3zM1367.6 441.6h5.4v8.4h-5.4zM1399.6 445.9h4v4h-4zM1504.1 470.6h7.6v1.8h-7.6zM1787.4 454.6h4v4h-4zM1524.6 480h9v6.9h-9z"/>
<path fill="#bababa" d="M149 390.5h13.3v9.8h-13.3zM176.3 390.5h9.2v9.8h-9.2zM433.4 402.1h6.3v6.9h-6.3zM194.6 439.8h5.4v3.1h-5.4zM323.9 441.3h11.2v2.6h-11.2zM633.3 439.8h4v2.6h-4zM676.9 439.8h4v4h-4zM692.9 438.4h5.4v4h-5.4zM329.7 445.7h11.2v5.5h-11.2zM522.9 447.1h5.4v4h-5.4zM300.7 455.8h12.7v2.6h-12.7zM634.8 460.2h5.4v2.6h-5.4zM226.6 469.8h5.4v3.1h-5.4zM460.5 469.8h6.9v3.1h-6.9zM341.9 479.1h7.2v3.4h-7.2zM514.2 484.9h4v3.4h-4zM404.7 493.6h3.1v4h-3.1zM653.7 493.6h1.6v4h-1.6zM280.3 518.3h1.9v4.9h-1.9zM289 518.3h2.5v4h-2.5zM307.9 518.3h3.4v4.9h-3.4zM327.4 518.3h3.4v4.9h-3.4zM1008.5 431.1h12.7v2.6h-12.7zM732.5 441.3h5.4v9.8h-5.4zM829.8 445.7h3.4v4h-3.4zM1114.5 445.7h4v4h-4zM1184.3 455.8h2.5v4h-2.5zM739.8 468.9h2.5v6.9h-2.5zM822.6 467.4h1.9v6.9h-1.9zM911.2 468.9h2.5v4h-2.5zM926.6 469.8h2.5v3.1h-2.5zM1190.1 493.6h2.5v4h-2.5zM1207.5 493.6h1.1v4.6h-1.1zM1236.6 494.2h9.8v2.8h-9.8zM1322.7 436.9h5.4v6.9h-5.4zM1315.4 508.7h8.9v4h-8.9zM1380.7 443h5.4v8.4h-5.4zM1302.3 457.5h5.4v4h-5.4zM1460.6 461.9h6.9v1.8h-6.9zM1430.1 456.1h3.2v6.9h-3.2zM1524.5 480h9v6.9h-9zM1637.8 429.9h1.1v4h-1.1z"/>
<path fill="#c7c7c7" d="M122 390.5h8.3v9.8h-8.3zM314.3 390.5h2.8v9.8h-2.8zM493 390.5h14.1v9.8h-14.1zM549.9 390.5h14.1v9.8h-14.1zM574.3 389h8.3v11.3h-8.3zM207.7 440.7h6.9v3.1h-6.9zM615.9 455.8h4v4h-4zM302.1 469.8h14.1v3.1h-14.1zM493.9 484.9h8.3v4h-8.3zM300.1 518.3h3.1v4.9h-3.1zM334.1 518.3h7.4v4.9h-7.4zM455.2 595.3h3.4v4.6h-3.4zM466.8 595.3h4.2v4.6h-4.2zM921.3 431.1h8.9v3.1h-8.9zM1038.1 445.7h3.4v6.9h-3.4zM869 455.8h6.9v2.6h-6.9zM895.2 468.9h3.1v4h-3.1zM937.3 469.8h3.4v3.1h-3.4zM1137.8 469.8h4v3.1h-4zM1219.1 494.2h8.3v3.4h-8.3zM1524.6 479.7h8.9v7.8h-8.9zM1736.7 479.7h3.1v7.8h-3.1zM1333.4 508.7h4.8v4h-4.8zM1727.4 508.7h3.1v4h-3.1zM1505.6 430.7h9.8v4.7h-9.8zM1548.5 445.9h4.7v8.4h-4.7z"/>
<path fill="#d4d4d4" d="M204.8 431.1h5.4v5.5h-5.4zM347.1 439.8h5.4v5.5h-5.4zM579.6 445.7h4v6.9h-4zM653.7 445.7h8.3v5.5h-8.3zM193.8 455.8h4.8v5.5h-4.8zM668.2 458.7h4v4h-4zM356.4 493.6h6.3v4.6h-6.3zM632.4 493.6h14.1v4.6h-14.1zM591.2 502.9h6.9v4h-6.9zM345.7 508.1h8.3v4.6h-8.3zM262.3 518.3h7.4v4.9h-7.4zM967.8 390.5h4.8v9.8h-4.8zM1233.7 402.1h5.4v8.4h-5.4zM1245.3 400.6h9.2v9.8h-9.2zM1187.2 431.1h4.5v5.5h-4.5zM1235.7 446.5h3.4v4.6h-3.4zM1246.7 439.8h5.4v3.1h-5.4zM736.9 458.7h4.5v4.6h-4.5zM771.7 458.7h9.2v4.6h-9.2zM821.1 455.8h4v4h-4zM848.7 457.3h3.1v6.9h-3.1zM1158.1 469.8h5.4v6h-5.4zM1214.8 483.4h5.4v4.9h-5.4zM867.6 493.6h3.4v4h-3.4zM1117.4 493.6h5.4v4h-5.4zM1172.6 493.6h5.4v4h-5.4zM732.5 502.9h4v4h-4zM749.3 503.8h5.4v3.1h-5.4zM770.8 503.8h7.2v3.1h-7.2zM1505.7 431.1h9.8v4h-9.8zM1546.4 431.1h4v6.9h-4zM1609.4 431.1h12.1v3.1h-12.1zM1642.2 469.8h5.4v4.6h-5.4zM1407.8 494.2h6.6v3.4h-6.6zM1471.7 500h3.1v6.9h-3.1zM1621 500h2.5v6.9h-2.5zM1457.7 438.7h5.4v8.4h-5.4zM1495.4 450.3h6.9v11.3h-6.9zM1549.2 447.4h4v9.8h-4zM1349.6 464.8h0.8v5.5h-0.8zM1609.5 430.7h11.9v4h-11.9zM1539.1 456.1h11.9v6.9h-11.9zM1603 451h6.9v7.6h-6.9zM1735.1 445.9h6.1v7.6h-6.1zM1778.7 461.9h4v6.2h-4z"/>
<path fill="#e0e0e0" d="M433.4 446.5h6.3v4.6h-6.3zM665.3 445.7h5.4v5.5h-5.4zM681.3 444.2h8.3v8.4h-8.3zM307.1 593.8h7.2v6.9h-7.2zM840.6 390.5h7.2v9.8h-7.2zM947.5 390.5h8.3v9.8h-8.3zM1034.6 430.3h6.9v4.9h-6.9zM796.4 445.7h4v6.9h-4zM963.5 436.9h6.9v6.9h-6.9zM1071 441.3h8.3v11.3h-8.3zM833.6 458.7h5.4v4.6h-5.4zM754.3 508.1h8.3v4h-8.3zM1033.2 537.2h5.4v9.2h-5.4zM1576.3 431.1h5.4v5.5h-5.4zM1454.3 500h8.9v6.9h-8.9zM1606.5 500h7.2v6.9h-7.2zM1706.2 508.7h11.2v4h-11.2zM1328.4 443h8.3v17.1h-8.3zM1352.4 440.1h4v9.8h-4zM1479.5 444.5h6.9v8.4h-6.9zM1546.2 431.4h4v5.5h-4zM1286.3 457.5h8.3v5.5h-8.3zM1372.9 464.8h0.8v6.9h-0.8zM1431.7 464.8h0.8v6.2h-0.8zM1407.6 494.6h6.9v4.6h-6.9zM1546.3 430.7h4.7v6.2h-4.7zM1576.1 429.9h5.4v7.6h-5.4zM1568.1 445.9h9.8v7.6h-9.8zM1586.3 445.9h1.5v5.5h-1.5zM1746 454.6h4v8.4h-4zM1735.8 479.3h4.7v8.4h-4.7z"/>
<path fill="#ededed" d="M595.6 430.3h6.3v5.8h-6.3zM612.1 431.1h5.4v5.5h-5.4zM393.6 436.9h8.3v6.9h-8.3zM268.1 445.7h13.3v5.5h-13.3zM413.4 445.7h2.5v6.9h-2.5zM522.9 454.4h6.3v6.9h-6.3zM390.7 493h4.8v4.6h-4.8zM510.4 499.4h3.1v7.5h-3.1zM536.9 561.9h4.5v9.8h-4.5zM695.2 563.3h4.5v8.4h-4.5zM742.7 428.2h4.5v9.8h-4.5zM1198.8 429.7h4v4.6h-4zM681.7 441.3h5.4v11.3h-5.4zM797.9 454.4h3.4v6.9h-3.4zM814.4 461.6h10.6v5.5h-10.6zM945.2 455.8h6.3v6.9h-6.3zM1428.1 429.7h5.4v8.4h-5.4zM1620.5 469.8h9.8v4.6h-9.8zM1478.7 479.1h6.3v9.2h-6.3zM1356 451.7h8.3v11.3h-8.3zM1411.2 437.2h9.8v25.8h-9.8zM1428.6 430.7h4.7v6.2h-4.7zM1483.8 454.6h4v6.9h-4zM1539 459h12.7v4h-12.7zM1337.3 464.8h0.8v6.9h-0.8zM1362 464.8h0.8v6.9h-0.8zM1385.2 464.8h0.8v6.9h-0.8zM1396.1 464.8h0.8v5.5h-0.8zM1409.2 464.8h0.8v6.9h-0.8zM1420.1 464.8h0.8v6.9h-0.8zM1478.7 481.5h6.9v6.2h-6.9zM1565.9 457.5h1.1v5.5h-1.1zM1698.8 462.6h6.1v5.5h-6.1zM1710.1 463.3h0.8v4.7h-0.8zM1756.2 463.3h4.7v4.7h-4.7z"/>
<path fill="#fafafa" d="M174.3 429.7h11.2v7.5h-11.2zM303.6 429.7h12.7v8.4h-12.7zM483.1 429.7h7.4v8.4h-7.4zM374.7 436.9h8.3v6.9h-8.3zM160.6 445.7h3.7v6.9h-3.7zM288.5 445.7h6.6v6.9h-6.6zM178.1 499.4h3.7v7.5h-3.7zM531.6 561.9h3.4v9.8h-3.4zM853.9 430.3h8.3v6.9h-8.3zM967.8 429.7h4.8v8.4h-4.8zM1174.1 428.2h5.4v6.9h-5.4zM1204.6 431.1h7.4v6h-7.4zM860.9 455.8h7.2v6.3h-7.2zM902.5 455.8h6.3v6.3h-6.3zM1119.5 455.8h6.3v6.3h-6.3zM695.3 561.9h6.3v9.8h-6.3zM1461.2 536.6h5.4v10.4h-5.4zM1356 458.3h8.3v5.5h-8.3zM1398.1 457.5h2.5v5.5h-2.5zM1729.3 450.3h5.4v12.7h-5.4z"/>
<path fill="#ffffff" d="M122.9 431.1h7.4v6.9h-7.4zM149 429.7h13.3v9.2h-13.3zM493 430.3h14.1v7.8h-14.1zM549.9 430.3h14.1v7.8h-14.1zM574.3 429.7h9.2v8.4h-9.2zM374.7 445.7h8.3v6.9h-8.3zM393.6 445.7h6.9v6.9h-6.9zM158.3 498h6v9.8h-6zM183 498.8h9.2v8.9h-9.2zM199.9 498.8h3.7v8.9h-3.7zM447.4 535.7h6.3v11.3h-6.3zM584.8 536.6h11.8v10.4h-11.8zM510.4 561.9h10.1v9.8h-10.1zM840.6 431.1h7.2v7.8h-7.2zM947.5 430.3h8.9v7.8h-8.9zM959.1 442.8h6.9v9.8h-6.9zM976.5 445.7h5.4v8.4h-5.4zM1256.9 445.7h22.8v8.4h-22.8zM803.7 455.8h7.4v8.4h-7.4zM1145.6 455.8h12.1v8.4h-12.1zM1531.8 429.7h6.9v14.2h-6.9zM1260.2 445.9h19.9v8.4h-19.9zM1284.9 445.2h28.6v9.8h-28.6zM1461.3 444.5h9.8v14.9h-9.8zM1531.7 432.1h6.9v11.3h-6.9zM1367.6 456.8h9.8v6.9h-9.8zM1380 456.8h12.7v6.2h-12.7zM1411.2 460.4h9.8v3.3h-9.8zM1531.8 430.7h6.9v12.7h-6.9zM1640.7 445.9h7.6v18.5h-7.6zM1642.9 469.1h4.7v4h-4.7zM1621.8 469.9h9v4h-9zM1661.8 456.1h8.3v6.9h-8.3zM1762 445.9h9v7.6h-9z"/>
</g>
<g filter="url(#b1)">
<path fill="#4c4c4c" d="M886.9 616.2h5.2v4.4h-5.2z"/>
<path fill="#545454" d="M886.9 581.3h5.2v3.8h-5.2zM976.9 581.3h7.6v3.8h-7.6zM976.9 616.2h6.7v4.9h-6.7z"/>
</g>
</g></g>
<rect x="121.40" y="51.30" width="1674.20" height="924.10" fill="none" stroke="#000" stroke-width="1.33"/>
<line x1="121.40" x2="121.40" y1="975.40" y2="981.60" stroke="#000" stroke-width="1.33"/>
<text x="120.80" y="1010.40" font-size="30" letter-spacing="-0.25" text-anchor="middle">17:00</text>
<line x1="232.97" x2="232.97" y1="975.40" y2="981.60" stroke="#000" stroke-width="1.33"/>
<text x="232.37" y="1010.40" font-size="30" letter-spacing="-0.25" text-anchor="middle">17:01</text>
<line x1="344.54" x2="344.54" y1="975.40" y2="981.60" stroke="#000" stroke-width="1.33"/>
<text x="343.94" y="1010.40" font-size="30" letter-spacing="-0.25" text-anchor="middle">17:02</text>
<line x1="456.11" x2="456.11" y1="975.40" y2="981.60" stroke="#000" stroke-width="1.33"/>
<text x="455.51" y="1010.40" font-size="30" letter-spacing="-0.25" text-anchor="middle">17:03</text>
<line x1="567.68" x2="567.68" y1="975.40" y2="981.60" stroke="#000" stroke-width="1.33"/>
<text x="567.08" y="1010.40" font-size="30" letter-spacing="-0.25" text-anchor="middle">17:04</text>
<line x1="679.25" x2="679.25" y1="975.40" y2="981.60" stroke="#000" stroke-width="1.33"/>
<text x="678.65" y="1010.40" font-size="30" letter-spacing="-0.25" text-anchor="middle">17:05</text>
<line x1="790.82" x2="790.82" y1="975.40" y2="981.60" stroke="#000" stroke-width="1.33"/>
<text x="790.22" y="1010.40" font-size="30" letter-spacing="-0.25" text-anchor="middle">17:06</text>
<line x1="902.39" x2="902.39" y1="975.40" y2="981.60" stroke="#000" stroke-width="1.33"/>
<text x="901.79" y="1010.40" font-size="30" letter-spacing="-0.25" text-anchor="middle">17:07</text>
<line x1="1013.96" x2="1013.96" y1="975.40" y2="981.60" stroke="#000" stroke-width="1.33"/>
<text x="1013.36" y="1010.40" font-size="30" letter-spacing="-0.25" text-anchor="middle">17:08</text>
<line x1="1125.53" x2="1125.53" y1="975.40" y2="981.60" stroke="#000" stroke-width="1.33"/>
<text x="1124.93" y="1010.40" font-size="30" letter-spacing="-0.25" text-anchor="middle">17:09</text>
<line x1="1237.10" x2="1237.10" y1="975.40" y2="981.60" stroke="#000" stroke-width="1.33"/>
<text x="1236.50" y="1010.40" font-size="30" letter-spacing="-0.25" text-anchor="middle">17:10</text>
<line x1="1348.67" x2="1348.67" y1="975.40" y2="981.60" stroke="#000" stroke-width="1.33"/>
<text x="1348.07" y="1010.40" font-size="30" letter-spacing="-0.25" text-anchor="middle">17:11</text>
<line x1="1460.24" x2="1460.24" y1="975.40" y2="981.60" stroke="#000" stroke-width="1.33"/>
<text x="1459.64" y="1010.40" font-size="30" letter-spacing="-0.25" text-anchor="middle">17:11</text>
<line x1="1571.81" x2="1571.81" y1="975.40" y2="981.60" stroke="#000" stroke-width="1.33"/>
<text x="1571.21" y="1010.40" font-size="30" letter-spacing="-0.25" text-anchor="middle">17:12</text>
<line x1="1683.38" x2="1683.38" y1="975.40" y2="981.60" stroke="#000" stroke-width="1.33"/>
<text x="1682.78" y="1010.40" font-size="30" letter-spacing="-0.25" text-anchor="middle">17:13</text>
<line x1="115.20" x2="121.40" y1="155.46" y2="155.46" stroke="#000" stroke-width="1.33"/>
<text x="108.80" y="165.36" font-size="30" text-anchor="end">160</text>
<line x1="115.20" x2="121.40" y1="298.06" y2="298.06" stroke="#000" stroke-width="1.33"/>
<text x="108.80" y="307.96" font-size="30" text-anchor="end">140</text>
<line x1="115.20" x2="121.40" y1="440.66" y2="440.66" stroke="#000" stroke-width="1.33"/>
<text x="108.80" y="450.56" font-size="30" text-anchor="end">120</text>
<line x1="115.20" x2="121.40" y1="583.25" y2="583.25" stroke="#000" stroke-width="1.33"/>
<text x="108.80" y="593.15" font-size="30" text-anchor="end">100</text>
<line x1="115.20" x2="121.40" y1="725.85" y2="725.85" stroke="#000" stroke-width="1.33"/>
<text x="108.80" y="735.75" font-size="30" text-anchor="end">80</text>
<line x1="115.20" x2="121.40" y1="868.45" y2="868.45" stroke="#000" stroke-width="1.33"/>
<text x="108.80" y="878.35" font-size="30" text-anchor="end">60</text>
<text x="957.40" y="41.10" font-size="36.67" text-anchor="middle" xml:space="preserve">2025/09/27  Radio flux density, e-CALLISTO (SWISS-Landschlacht), Focuscode: 63</text>
<text x="957.50" y="1049.10" font-size="33.33" text-anchor="middle">Observation time [UTC]</text>
<text transform="translate(37.00 514.30) rotate(-90)" font-size="33.33" text-anchor="middle">Frequency [MHz]</text>
<rect x="1935.30" y="27.30" width="43.20" height="960.10" fill="url(#cbg)" stroke="#000" stroke-width="1.33"/>
<line x1="1978.50" x2="1984.70" y1="987.40" y2="987.40" stroke="#000" stroke-width="1.33"/>
<text x="1990.90" y="993.30" font-size="16.67">−2</text>
<line x1="1978.50" x2="1984.70" y1="874.40" y2="874.40" stroke="#000" stroke-width="1.33"/>
<text x="1990.90" y="880.30" font-size="16.67">0</text>
<line x1="1978.50" x2="1984.70" y1="761.40" y2="761.40" stroke="#000" stroke-width="1.33"/>
<text x="1990.90" y="767.30" font-size="16.67">2</text>
<line x1="1978.50" x2="1984.70" y1="648.40" y2="648.40" stroke="#000" stroke-width="1.33"/>
<text x="1990.90" y="654.30" font-size="16.67">4</text>
<line x1="1978.50" x2="1984.70" y1="535.40" y2="535.40" stroke="#000" stroke-width="1.33"/>
<text x="1990.90" y="541.30" font-size="16.67">6</text>
<line x1="1978.50" x2="1984.70" y1="422.40" y2="422.40" stroke="#000" stroke-width="1.33"/>
<text x="1990.90" y="428.30" font-size="16.67">8</text>
<line x1="1978.50" x2="1984.70" y1="309.40" y2="309.40" stroke="#000" stroke-width="1.33"/>
<text x="1990.90" y="315.30" font-size="16.67">10</text>
<line x1="1978.50" x2="1984.70" y1="196.40" y2="196.40" stroke="#000" stroke-width="1.33"/>
<text x="1990.90" y="202.30" font-size="16.67">12</text>
<line x1="1978.50" x2="1984.70" y1="83.40" y2="83.40" stroke="#000" stroke-width="1.33"/>
<text x="1990.90" y="89.30" font-size="16.67">14</text>
<text transform="translate(2046.00 507.40) rotate(-90)" font-size="33.33" text-anchor="middle">dB above background</text>
</svg></body></html>
